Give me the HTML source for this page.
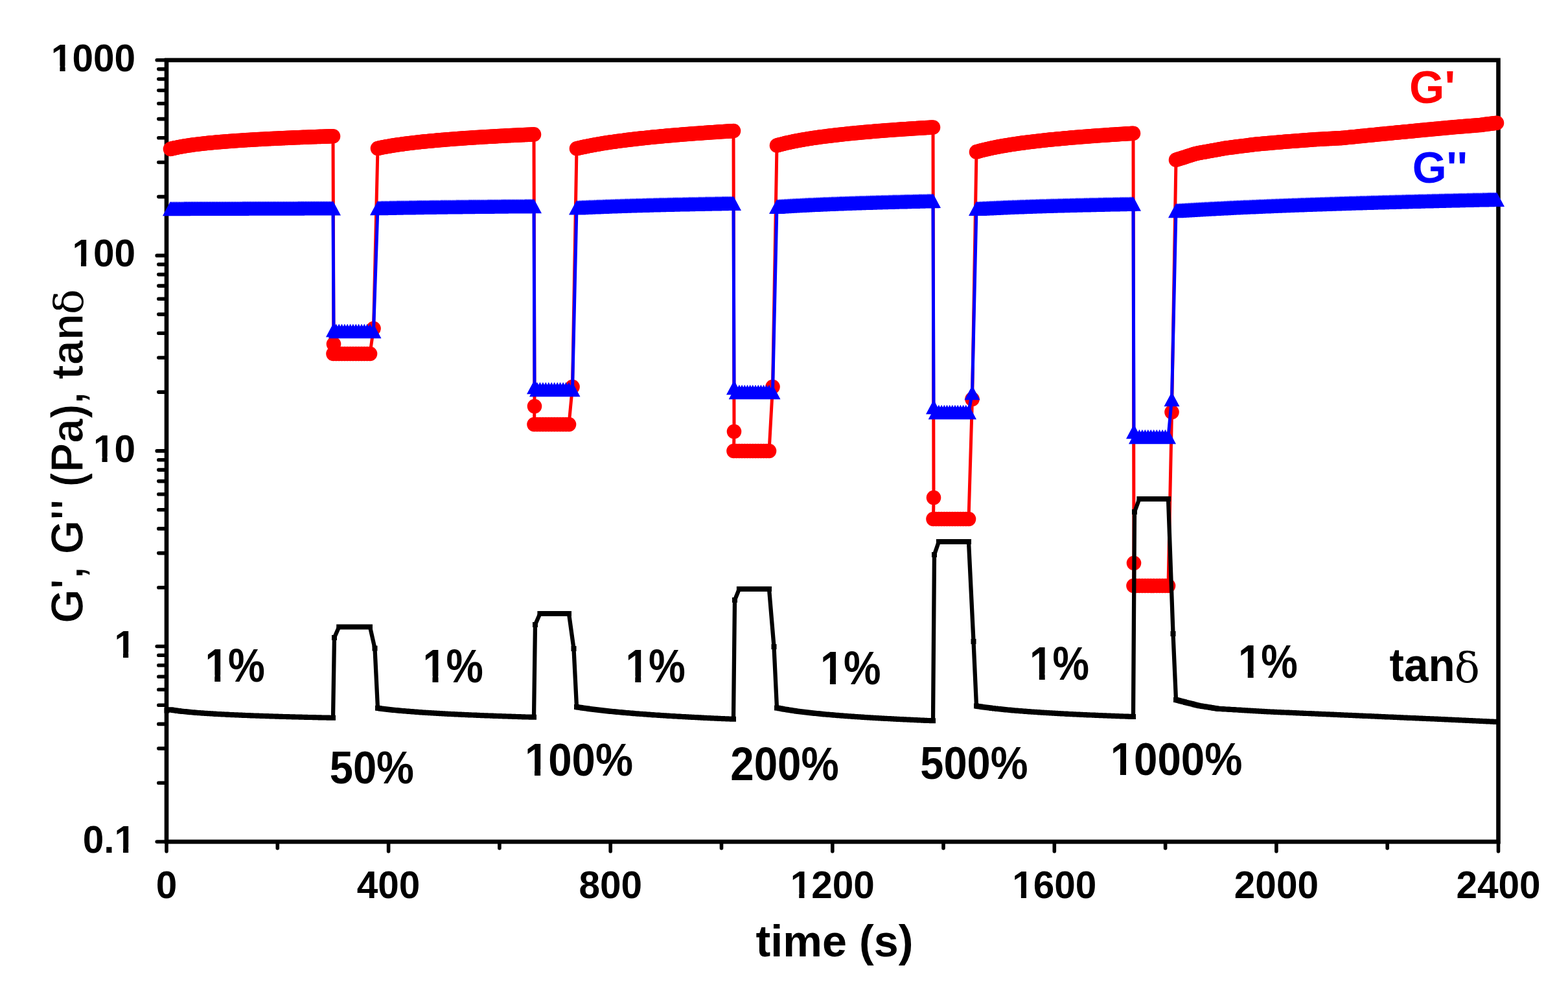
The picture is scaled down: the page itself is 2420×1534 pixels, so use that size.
<!DOCTYPE html>
<html><head><meta charset="utf-8"><title>G', G'' and tan delta vs time</title>
<style>
html,body{margin:0;padding:0;background:#fff;}
svg{display:block;}
text{font-family:'Liberation Sans',Arial,sans-serif;font-weight:bold;}
</style></head><body>
<svg xmlns="http://www.w3.org/2000/svg" width="2420" height="1534" viewBox="0 0 2420 1534">
<rect width="2420" height="1534" fill="#fff"/>
<rect x="257" y="92.8" width="2055.5" height="1206.2" fill="none" stroke="#000" stroke-width="6.6"/>
<path d="M242.2 1299.0H257M244.8 1208.2H257M244.8 1155.1H257M244.8 1117.4H257M244.8 1088.2H257M244.8 1064.3H257M244.8 1044.2H257M244.8 1026.7H257M244.8 1011.2H257M242.2 997.5H257M244.8 906.7H257M244.8 853.6H257M244.8 815.9H257M244.8 786.7H257M244.8 762.8H257M244.8 742.6H257M244.8 725.1H257M244.8 709.7H257M242.2 695.9H257M244.8 605.1H257M244.8 552.0H257M244.8 514.3H257M244.8 485.1H257M244.8 461.2H257M244.8 441.1H257M244.8 423.6H257M244.8 408.1H257M242.2 394.4H257M244.8 303.6H257M244.8 250.5H257M244.8 212.8H257M244.8 183.6H257M244.8 159.7H257M244.8 139.5H257M244.8 122.0H257M244.8 106.6H257M242.2 92.8H257M257.0 1299V1313.8M428.3 1299V1309.0M599.6 1299V1313.8M770.9 1299V1309.0M942.2 1299V1313.8M1113.5 1299V1309.0M1284.8 1299V1313.8M1456.0 1299V1309.0M1627.3 1299V1313.8M1798.6 1299V1309.0M1969.9 1299V1313.8M2141.2 1299V1309.0M2312.5 1299V1313.8" stroke="#000" stroke-width="5.6" stroke-linecap="round" fill="none"/>
<g id="gprime">
<polyline points="263.0,230.0 265.1,229.4 267.3,228.9 269.4,228.4 271.6,228.0 273.7,227.5 275.9,227.1 278.0,226.7 280.2,226.3 282.3,225.9 284.5,225.5 286.6,225.2 288.7,224.8 290.9,224.5 293.0,224.2 295.2,223.9 297.3,223.6 299.5,223.3 301.6,223.0 303.8,222.8 305.9,222.5 308.1,222.3 310.2,222.0 312.3,221.8 314.5,221.5 316.6,221.3 318.8,221.1 320.9,220.8 323.1,220.6 325.2,220.4 327.4,220.2 329.5,220.0 331.6,219.8 333.8,219.6 335.9,219.4 338.1,219.2 340.2,219.1 342.4,218.9 344.5,218.7 346.7,218.5 348.8,218.4 351.0,218.2 353.1,218.0 355.2,217.9 357.4,217.7 359.5,217.6 361.7,217.4 363.8,217.3 366.0,217.1 368.1,217.0 370.3,216.8 372.4,216.7 374.6,216.5 376.7,216.4 378.8,216.3 381.0,216.1 383.1,216.0 385.3,215.9 387.4,215.7 389.6,215.6 391.7,215.5 393.9,215.4 396.0,215.2 398.2,215.1 400.3,215.0 402.4,214.9 404.6,214.8 406.7,214.7 408.9,214.5 411.0,214.4 413.2,214.3 415.3,214.2 417.5,214.1 419.6,214.0 421.8,213.9 423.9,213.8 426.0,213.7 428.2,213.6 430.3,213.5 432.5,213.4 434.6,213.3 436.8,213.2 438.9,213.1 441.1,213.0 443.2,212.9 445.4,212.8 447.5,212.7 449.6,212.6 451.8,212.5 453.9,212.4 456.1,212.3 458.2,212.3 460.4,212.2 462.5,212.1 464.7,212.0 466.8,211.9 468.9,211.8 471.1,211.7 473.2,211.7 475.4,211.6 477.5,211.5 479.7,211.4 481.8,211.3 484.0,211.3 486.1,211.2 488.3,211.1 490.4,211.0 492.5,210.9 494.7,210.9 496.8,210.8 499.0,210.7 501.1,210.6 503.3,210.6 505.4,210.5 507.6,210.4 509.7,210.3 511.9,210.3 514.0,210.2 515.0,531.0 514.5,546.0 518.8,546.0 523.2,546.0 527.5,546.0 531.9,546.0 536.2,546.0 540.6,546.0 544.9,546.0 549.3,546.0 553.6,546.0 558.0,546.0 562.3,546.0 566.7,546.0 571.0,546.0 576.5,507.0 583.0,229.0 585.1,228.5 587.3,228.1 589.4,227.6 591.5,227.2 593.7,226.8 595.8,226.4 597.9,226.0 600.1,225.7 602.2,225.3 604.3,224.9 606.5,224.6 608.6,224.2 610.7,223.9 612.9,223.6 615.0,223.3 617.1,223.0 619.3,222.7 621.4,222.4 623.5,222.1 625.7,221.8 627.8,221.5 629.9,221.3 632.1,221.0 634.2,220.7 636.3,220.5 638.5,220.2 640.6,220.0 642.7,219.8 644.8,219.5 647.0,219.3 649.1,219.1 651.2,218.8 653.4,218.6 655.5,218.4 657.6,218.2 659.8,218.0 661.9,217.8 664.0,217.6 666.2,217.4 668.3,217.2 670.4,217.0 672.6,216.8 674.7,216.6 676.8,216.4 679.0,216.2 681.1,216.0 683.2,215.9 685.4,215.7 687.5,215.5 689.6,215.3 691.8,215.2 693.9,215.0 696.0,214.8 698.2,214.7 700.3,214.5 702.4,214.3 704.6,214.2 706.7,214.0 708.8,213.9 711.0,213.7 713.1,213.6 715.2,213.4 717.4,213.3 719.5,213.1 721.6,213.0 723.8,212.8 725.9,212.7 728.0,212.5 730.2,212.4 732.3,212.3 734.4,212.1 736.6,212.0 738.7,211.9 740.8,211.7 743.0,211.6 745.1,211.5 747.2,211.3 749.4,211.2 751.5,211.1 753.6,211.0 755.8,210.8 757.9,210.7 760.0,210.6 762.2,210.5 764.3,210.4 766.4,210.2 768.5,210.1 770.7,210.0 772.8,209.9 774.9,209.8 777.1,209.7 779.2,209.6 781.3,209.4 783.5,209.3 785.6,209.2 787.7,209.1 789.9,209.0 792.0,208.9 794.1,208.8 796.3,208.7 798.4,208.6 800.5,208.5 802.7,208.4 804.8,208.3 806.9,208.2 809.1,208.1 811.2,208.0 813.3,207.9 815.5,207.8 817.6,207.7 819.7,207.6 821.9,207.5 824.0,207.4 825.0,627.0 824.5,655.0 829.0,655.0 833.4,655.0 837.9,655.0 842.3,655.0 846.8,655.0 851.2,655.0 855.7,655.0 860.2,655.0 864.6,655.0 869.1,655.0 873.5,655.0 878.0,655.0 883.5,597.0 890.0,229.3 892.1,228.8 894.3,228.3 896.4,227.8 898.6,227.3 900.7,226.9 902.8,226.4 905.0,226.0 907.1,225.5 909.3,225.1 911.4,224.7 913.6,224.3 915.7,223.9 917.8,223.5 920.0,223.1 922.1,222.7 924.3,222.4 926.4,222.0 928.5,221.6 930.7,221.3 932.8,220.9 935.0,220.6 937.1,220.3 939.3,219.9 941.4,219.6 943.5,219.3 945.7,219.0 947.8,218.7 950.0,218.4 952.1,218.1 954.2,217.8 956.4,217.5 958.5,217.2 960.7,217.0 962.8,216.7 965.0,216.4 967.1,216.1 969.2,215.9 971.4,215.6 973.5,215.4 975.7,215.1 977.8,214.9 979.9,214.6 982.1,214.4 984.2,214.1 986.4,213.9 988.5,213.6 990.7,213.4 992.8,213.2 994.9,213.0 997.1,212.7 999.2,212.5 1001.4,212.3 1003.5,212.1 1005.6,211.8 1007.8,211.6 1009.9,211.4 1012.1,211.2 1014.2,211.0 1016.4,210.8 1018.5,210.6 1020.6,210.4 1022.8,210.2 1024.9,210.0 1027.1,209.8 1029.2,209.6 1031.3,209.4 1033.5,209.2 1035.6,209.1 1037.8,208.9 1039.9,208.7 1042.1,208.5 1044.2,208.3 1046.3,208.2 1048.5,208.0 1050.6,207.8 1052.8,207.6 1054.9,207.5 1057.0,207.3 1059.2,207.1 1061.3,207.0 1063.5,206.8 1065.6,206.6 1067.8,206.5 1069.9,206.3 1072.0,206.1 1074.2,206.0 1076.3,205.8 1078.5,205.7 1080.6,205.5 1082.7,205.4 1084.9,205.2 1087.0,205.0 1089.2,204.9 1091.3,204.7 1093.5,204.6 1095.6,204.4 1097.7,204.3 1099.9,204.2 1102.0,204.0 1104.2,203.9 1106.3,203.7 1108.4,203.6 1110.6,203.4 1112.7,203.3 1114.9,203.2 1117.0,203.0 1119.2,202.9 1121.3,202.8 1123.4,202.6 1125.6,202.5 1127.7,202.4 1129.9,202.2 1132.0,202.1 1133.0,666.0 1132.5,696.0 1136.7,696.0 1140.9,696.0 1145.1,696.0 1149.3,696.0 1153.5,696.0 1157.7,696.0 1161.8,696.0 1166.0,696.0 1170.2,696.0 1174.4,696.0 1178.6,696.0 1182.8,696.0 1187.0,696.0 1192.5,597.0 1199.0,224.5 1201.1,223.9 1203.3,223.3 1205.4,222.7 1207.5,222.2 1209.7,221.7 1211.8,221.1 1213.9,220.6 1216.1,220.2 1218.2,219.7 1220.3,219.2 1222.5,218.8 1224.6,218.3 1226.7,217.9 1228.9,217.5 1231.0,217.1 1233.1,216.7 1235.3,216.3 1237.4,215.9 1239.5,215.6 1241.7,215.2 1243.8,214.8 1245.9,214.5 1248.1,214.1 1250.2,213.8 1252.3,213.5 1254.5,213.1 1256.6,212.8 1258.7,212.5 1260.8,212.2 1263.0,211.9 1265.1,211.6 1267.2,211.3 1269.4,211.0 1271.5,210.8 1273.6,210.5 1275.8,210.2 1277.9,209.9 1280.0,209.7 1282.2,209.4 1284.3,209.2 1286.4,208.9 1288.6,208.7 1290.7,208.4 1292.8,208.2 1295.0,207.9 1297.1,207.7 1299.2,207.5 1301.4,207.2 1303.5,207.0 1305.6,206.8 1307.8,206.6 1309.9,206.3 1312.0,206.1 1314.2,205.9 1316.3,205.7 1318.4,205.5 1320.6,205.3 1322.7,205.1 1324.8,204.9 1327.0,204.7 1329.1,204.5 1331.2,204.3 1333.4,204.1 1335.5,203.9 1337.6,203.7 1339.8,203.5 1341.9,203.4 1344.0,203.2 1346.2,203.0 1348.3,202.8 1350.4,202.6 1352.6,202.5 1354.7,202.3 1356.8,202.1 1359.0,202.0 1361.1,201.8 1363.2,201.6 1365.4,201.5 1367.5,201.3 1369.6,201.1 1371.8,201.0 1373.9,200.8 1376.0,200.7 1378.2,200.5 1380.3,200.3 1382.4,200.2 1384.5,200.0 1386.7,199.9 1388.8,199.7 1390.9,199.6 1393.1,199.4 1395.2,199.3 1397.3,199.2 1399.5,199.0 1401.6,198.9 1403.7,198.7 1405.9,198.6 1408.0,198.5 1410.1,198.3 1412.3,198.2 1414.4,198.0 1416.5,197.9 1418.7,197.8 1420.8,197.6 1422.9,197.5 1425.1,197.4 1427.2,197.3 1429.3,197.1 1431.5,197.0 1433.6,196.9 1435.7,196.7 1437.9,196.6 1440.0,196.5 1441.0,768.0 1440.5,801.0 1444.7,801.0 1448.9,801.0 1453.1,801.0 1457.3,801.0 1461.5,801.0 1465.7,801.0 1469.8,801.0 1474.0,801.0 1478.2,801.0 1482.4,801.0 1486.6,801.0 1490.8,801.0 1495.0,801.0 1500.5,616.0 1507.0,234.4 1509.1,233.8 1511.3,233.2 1513.4,232.6 1515.6,232.0 1517.7,231.5 1519.8,231.0 1522.0,230.5 1524.1,230.0 1526.3,229.5 1528.4,229.0 1530.6,228.6 1532.7,228.1 1534.8,227.7 1537.0,227.2 1539.1,226.8 1541.3,226.4 1543.4,226.0 1545.5,225.6 1547.7,225.3 1549.8,224.9 1552.0,224.5 1554.1,224.2 1556.3,223.8 1558.4,223.5 1560.5,223.1 1562.7,222.8 1564.8,222.5 1567.0,222.2 1569.1,221.8 1571.2,221.5 1573.4,221.2 1575.5,220.9 1577.7,220.6 1579.8,220.4 1582.0,220.1 1584.1,219.8 1586.2,219.5 1588.4,219.3 1590.5,219.0 1592.7,218.7 1594.8,218.5 1596.9,218.2 1599.1,218.0 1601.2,217.7 1603.4,217.5 1605.5,217.2 1607.7,217.0 1609.8,216.8 1611.9,216.5 1614.1,216.3 1616.2,216.1 1618.4,215.8 1620.5,215.6 1622.6,215.4 1624.8,215.2 1626.9,215.0 1629.1,214.8 1631.2,214.6 1633.4,214.4 1635.5,214.2 1637.6,214.0 1639.8,213.8 1641.9,213.6 1644.1,213.4 1646.2,213.2 1648.3,213.0 1650.5,212.8 1652.6,212.6 1654.8,212.4 1656.9,212.3 1659.1,212.1 1661.2,211.9 1663.3,211.7 1665.5,211.5 1667.6,211.4 1669.8,211.2 1671.9,211.0 1674.0,210.9 1676.2,210.7 1678.3,210.5 1680.5,210.4 1682.6,210.2 1684.8,210.0 1686.9,209.9 1689.0,209.7 1691.2,209.6 1693.3,209.4 1695.5,209.3 1697.6,209.1 1699.7,209.0 1701.9,208.8 1704.0,208.7 1706.2,208.5 1708.3,208.4 1710.5,208.2 1712.6,208.1 1714.7,207.9 1716.9,207.8 1719.0,207.7 1721.2,207.5 1723.3,207.4 1725.4,207.2 1727.6,207.1 1729.7,207.0 1731.9,206.8 1734.0,206.7 1736.2,206.6 1738.3,206.4 1740.4,206.3 1742.6,206.2 1744.7,206.1 1746.9,205.9 1749.0,205.8 1750.0,869.0 1749.5,904.0 1754.0,904.0 1758.4,904.0 1762.9,904.0 1767.3,904.0 1771.8,904.0 1776.2,904.0 1780.7,904.0 1785.2,904.0 1789.6,904.0 1794.1,904.0 1798.5,904.0 1803.0,904.0 1808.5,636.0 1815.0,246.8 1817.1,246.1 1819.3,245.4 1821.4,244.7 1823.6,244.1 1825.7,243.4 1827.9,242.7 1830.0,242.0 1832.1,241.3 1834.3,240.6 1836.4,240.0 1838.6,239.3 1840.7,238.6 1842.9,237.9 1845.0,237.2 1847.1,236.7 1849.3,236.3 1851.4,235.9 1853.6,235.5 1855.7,235.1 1857.9,234.8 1860.0,234.4 1862.1,234.0 1864.3,233.6 1866.4,233.2 1868.6,232.8 1870.7,232.4 1872.9,232.0 1875.0,231.7 1877.1,231.3 1879.3,230.9 1881.4,230.5 1883.6,230.1 1885.7,229.7 1887.9,229.3 1890.0,228.9 1892.1,228.6 1894.3,228.2 1896.4,228.0 1898.6,227.7 1900.7,227.4 1902.9,227.2 1905.0,226.9 1907.1,226.6 1909.3,226.3 1911.4,226.1 1913.6,225.8 1915.7,225.5 1917.9,225.3 1920.0,225.0 1922.1,224.7 1924.3,224.5 1926.4,224.2 1928.6,223.9 1930.7,223.6 1932.9,223.4 1935.0,223.1 1937.1,222.8 1939.3,222.6 1941.4,222.4 1943.6,222.2 1945.7,222.0 1947.9,221.8 1950.0,221.6 1952.1,221.5 1954.3,221.3 1956.4,221.1 1958.6,220.9 1960.7,220.7 1962.9,220.5 1965.0,220.3 1967.1,220.1 1969.3,220.0 1971.4,219.8 1973.6,219.6 1975.7,219.4 1977.9,219.2 1980.0,219.0 1982.1,218.8 1984.3,218.6 1986.4,218.5 1988.6,218.3 1990.7,218.2 1992.9,218.0 1995.0,217.8 1997.1,217.7 1999.3,217.5 2001.4,217.4 2003.6,217.2 2005.7,217.0 2007.9,216.9 2010.0,216.7 2012.1,216.6 2014.3,216.4 2016.4,216.3 2018.6,216.1 2020.7,215.9 2022.9,215.8 2025.0,215.6 2027.1,215.5 2029.3,215.3 2031.4,215.1 2033.6,215.0 2035.7,214.9 2037.9,214.8 2040.0,214.7 2042.1,214.6 2044.3,214.4 2046.4,214.3 2048.6,214.2 2050.7,214.1 2052.9,214.0 2055.0,213.9 2057.1,213.7 2059.3,213.6 2061.4,213.5 2063.6,213.4 2065.7,213.3 2067.9,213.2 2070.0,213.1 2072.1,212.9 2074.3,212.7 2076.4,212.5 2078.6,212.2 2080.7,212.0 2082.9,211.8 2085.0,211.6 2087.1,211.4 2089.3,211.2 2091.4,211.0 2093.6,210.7 2095.7,210.5 2097.9,210.3 2100.0,210.1 2102.1,209.9 2104.3,209.7 2106.4,209.5 2108.6,209.2 2110.7,209.0 2112.9,208.8 2115.0,208.6 2117.1,208.4 2119.3,208.2 2121.4,208.0 2123.6,207.7 2125.7,207.5 2127.9,207.3 2130.0,207.1 2132.1,206.9 2134.3,206.7 2136.4,206.5 2138.6,206.3 2140.7,206.1 2142.9,205.9 2145.0,205.7 2147.1,205.5 2149.3,205.3 2151.4,205.0 2153.6,204.8 2155.7,204.6 2157.9,204.4 2160.0,204.2 2162.1,204.0 2164.3,203.8 2166.4,203.6 2168.6,203.4 2170.7,203.2 2172.9,203.0 2175.0,202.8 2177.1,202.6 2179.3,202.4 2181.4,202.2 2183.6,201.9 2185.7,201.7 2187.9,201.5 2190.0,201.3 2192.1,201.1 2194.3,200.9 2196.4,200.7 2198.6,200.5 2200.7,200.3 2202.9,200.1 2205.0,199.9 2207.1,199.7 2209.3,199.5 2211.4,199.3 2213.6,199.1 2215.7,198.9 2217.9,198.7 2220.0,198.5 2222.1,198.3 2224.3,198.1 2226.4,197.9 2228.6,197.7 2230.7,197.5 2232.9,197.3 2235.0,197.1 2237.1,196.9 2239.3,196.7 2241.4,196.5 2243.6,196.3 2245.7,196.1 2247.9,196.0 2250.0,195.8 2252.1,195.6 2254.3,195.4 2256.4,195.3 2258.6,195.1 2260.7,194.9 2262.9,194.7 2265.0,194.6 2267.1,194.4 2269.3,194.2 2271.4,194.0 2273.6,193.9 2275.7,193.7 2277.9,193.5 2280.0,193.3 2282.1,193.2 2284.3,193.0 2286.4,192.7 2288.6,192.4 2290.7,192.1 2292.9,191.9 2295.0,191.6 2297.1,191.3 2299.3,191.1 2301.4,190.8 2303.6,190.5 2305.7,190.2 2307.9,190.0 2310.0,189.7" fill="none" stroke="#f00" stroke-width="5" stroke-linejoin="round"/>
<g fill="#f00"><circle cx="263.0" cy="230.0" r="11.3"/><circle cx="265.1" cy="229.4" r="11.3"/><circle cx="267.3" cy="228.9" r="11.3"/><circle cx="269.4" cy="228.4" r="11.3"/><circle cx="271.6" cy="228.0" r="11.3"/><circle cx="273.7" cy="227.5" r="11.3"/><circle cx="275.9" cy="227.1" r="11.3"/><circle cx="278.0" cy="226.7" r="11.3"/><circle cx="280.2" cy="226.3" r="11.3"/><circle cx="282.3" cy="225.9" r="11.3"/><circle cx="284.5" cy="225.5" r="11.3"/><circle cx="286.6" cy="225.2" r="11.3"/><circle cx="288.7" cy="224.8" r="11.3"/><circle cx="290.9" cy="224.5" r="11.3"/><circle cx="293.0" cy="224.2" r="11.3"/><circle cx="295.2" cy="223.9" r="11.3"/><circle cx="297.3" cy="223.6" r="11.3"/><circle cx="299.5" cy="223.3" r="11.3"/><circle cx="301.6" cy="223.0" r="11.3"/><circle cx="303.8" cy="222.8" r="11.3"/><circle cx="305.9" cy="222.5" r="11.3"/><circle cx="308.1" cy="222.3" r="11.3"/><circle cx="310.2" cy="222.0" r="11.3"/><circle cx="312.3" cy="221.8" r="11.3"/><circle cx="314.5" cy="221.5" r="11.3"/><circle cx="316.6" cy="221.3" r="11.3"/><circle cx="318.8" cy="221.1" r="11.3"/><circle cx="320.9" cy="220.8" r="11.3"/><circle cx="323.1" cy="220.6" r="11.3"/><circle cx="325.2" cy="220.4" r="11.3"/><circle cx="327.4" cy="220.2" r="11.3"/><circle cx="329.5" cy="220.0" r="11.3"/><circle cx="331.6" cy="219.8" r="11.3"/><circle cx="333.8" cy="219.6" r="11.3"/><circle cx="335.9" cy="219.4" r="11.3"/><circle cx="338.1" cy="219.2" r="11.3"/><circle cx="340.2" cy="219.1" r="11.3"/><circle cx="342.4" cy="218.9" r="11.3"/><circle cx="344.5" cy="218.7" r="11.3"/><circle cx="346.7" cy="218.5" r="11.3"/><circle cx="348.8" cy="218.4" r="11.3"/><circle cx="351.0" cy="218.2" r="11.3"/><circle cx="353.1" cy="218.0" r="11.3"/><circle cx="355.2" cy="217.9" r="11.3"/><circle cx="357.4" cy="217.7" r="11.3"/><circle cx="359.5" cy="217.6" r="11.3"/><circle cx="361.7" cy="217.4" r="11.3"/><circle cx="363.8" cy="217.3" r="11.3"/><circle cx="366.0" cy="217.1" r="11.3"/><circle cx="368.1" cy="217.0" r="11.3"/><circle cx="370.3" cy="216.8" r="11.3"/><circle cx="372.4" cy="216.7" r="11.3"/><circle cx="374.6" cy="216.5" r="11.3"/><circle cx="376.7" cy="216.4" r="11.3"/><circle cx="378.8" cy="216.3" r="11.3"/><circle cx="381.0" cy="216.1" r="11.3"/><circle cx="383.1" cy="216.0" r="11.3"/><circle cx="385.3" cy="215.9" r="11.3"/><circle cx="387.4" cy="215.7" r="11.3"/><circle cx="389.6" cy="215.6" r="11.3"/><circle cx="391.7" cy="215.5" r="11.3"/><circle cx="393.9" cy="215.4" r="11.3"/><circle cx="396.0" cy="215.2" r="11.3"/><circle cx="398.2" cy="215.1" r="11.3"/><circle cx="400.3" cy="215.0" r="11.3"/><circle cx="402.4" cy="214.9" r="11.3"/><circle cx="404.6" cy="214.8" r="11.3"/><circle cx="406.7" cy="214.7" r="11.3"/><circle cx="408.9" cy="214.5" r="11.3"/><circle cx="411.0" cy="214.4" r="11.3"/><circle cx="413.2" cy="214.3" r="11.3"/><circle cx="415.3" cy="214.2" r="11.3"/><circle cx="417.5" cy="214.1" r="11.3"/><circle cx="419.6" cy="214.0" r="11.3"/><circle cx="421.8" cy="213.9" r="11.3"/><circle cx="423.9" cy="213.8" r="11.3"/><circle cx="426.0" cy="213.7" r="11.3"/><circle cx="428.2" cy="213.6" r="11.3"/><circle cx="430.3" cy="213.5" r="11.3"/><circle cx="432.5" cy="213.4" r="11.3"/><circle cx="434.6" cy="213.3" r="11.3"/><circle cx="436.8" cy="213.2" r="11.3"/><circle cx="438.9" cy="213.1" r="11.3"/><circle cx="441.1" cy="213.0" r="11.3"/><circle cx="443.2" cy="212.9" r="11.3"/><circle cx="445.4" cy="212.8" r="11.3"/><circle cx="447.5" cy="212.7" r="11.3"/><circle cx="449.6" cy="212.6" r="11.3"/><circle cx="451.8" cy="212.5" r="11.3"/><circle cx="453.9" cy="212.4" r="11.3"/><circle cx="456.1" cy="212.3" r="11.3"/><circle cx="458.2" cy="212.3" r="11.3"/><circle cx="460.4" cy="212.2" r="11.3"/><circle cx="462.5" cy="212.1" r="11.3"/><circle cx="464.7" cy="212.0" r="11.3"/><circle cx="466.8" cy="211.9" r="11.3"/><circle cx="468.9" cy="211.8" r="11.3"/><circle cx="471.1" cy="211.7" r="11.3"/><circle cx="473.2" cy="211.7" r="11.3"/><circle cx="475.4" cy="211.6" r="11.3"/><circle cx="477.5" cy="211.5" r="11.3"/><circle cx="479.7" cy="211.4" r="11.3"/><circle cx="481.8" cy="211.3" r="11.3"/><circle cx="484.0" cy="211.3" r="11.3"/><circle cx="486.1" cy="211.2" r="11.3"/><circle cx="488.3" cy="211.1" r="11.3"/><circle cx="490.4" cy="211.0" r="11.3"/><circle cx="492.5" cy="210.9" r="11.3"/><circle cx="494.7" cy="210.9" r="11.3"/><circle cx="496.8" cy="210.8" r="11.3"/><circle cx="499.0" cy="210.7" r="11.3"/><circle cx="501.1" cy="210.6" r="11.3"/><circle cx="503.3" cy="210.6" r="11.3"/><circle cx="505.4" cy="210.5" r="11.3"/><circle cx="507.6" cy="210.4" r="11.3"/><circle cx="509.7" cy="210.3" r="11.3"/><circle cx="511.9" cy="210.3" r="11.3"/><circle cx="514.0" cy="210.2" r="11.3"/><circle cx="515.0" cy="531.0" r="11.3"/><circle cx="514.5" cy="546.0" r="11.3"/><circle cx="518.8" cy="546.0" r="11.3"/><circle cx="523.2" cy="546.0" r="11.3"/><circle cx="527.5" cy="546.0" r="11.3"/><circle cx="531.9" cy="546.0" r="11.3"/><circle cx="536.2" cy="546.0" r="11.3"/><circle cx="540.6" cy="546.0" r="11.3"/><circle cx="544.9" cy="546.0" r="11.3"/><circle cx="549.3" cy="546.0" r="11.3"/><circle cx="553.6" cy="546.0" r="11.3"/><circle cx="558.0" cy="546.0" r="11.3"/><circle cx="562.3" cy="546.0" r="11.3"/><circle cx="566.7" cy="546.0" r="11.3"/><circle cx="571.0" cy="546.0" r="11.3"/><circle cx="576.5" cy="507.0" r="11.3"/><circle cx="583.0" cy="229.0" r="11.3"/><circle cx="585.1" cy="228.5" r="11.3"/><circle cx="587.3" cy="228.1" r="11.3"/><circle cx="589.4" cy="227.6" r="11.3"/><circle cx="591.5" cy="227.2" r="11.3"/><circle cx="593.7" cy="226.8" r="11.3"/><circle cx="595.8" cy="226.4" r="11.3"/><circle cx="597.9" cy="226.0" r="11.3"/><circle cx="600.1" cy="225.7" r="11.3"/><circle cx="602.2" cy="225.3" r="11.3"/><circle cx="604.3" cy="224.9" r="11.3"/><circle cx="606.5" cy="224.6" r="11.3"/><circle cx="608.6" cy="224.2" r="11.3"/><circle cx="610.7" cy="223.9" r="11.3"/><circle cx="612.9" cy="223.6" r="11.3"/><circle cx="615.0" cy="223.3" r="11.3"/><circle cx="617.1" cy="223.0" r="11.3"/><circle cx="619.3" cy="222.7" r="11.3"/><circle cx="621.4" cy="222.4" r="11.3"/><circle cx="623.5" cy="222.1" r="11.3"/><circle cx="625.7" cy="221.8" r="11.3"/><circle cx="627.8" cy="221.5" r="11.3"/><circle cx="629.9" cy="221.3" r="11.3"/><circle cx="632.1" cy="221.0" r="11.3"/><circle cx="634.2" cy="220.7" r="11.3"/><circle cx="636.3" cy="220.5" r="11.3"/><circle cx="638.5" cy="220.2" r="11.3"/><circle cx="640.6" cy="220.0" r="11.3"/><circle cx="642.7" cy="219.8" r="11.3"/><circle cx="644.8" cy="219.5" r="11.3"/><circle cx="647.0" cy="219.3" r="11.3"/><circle cx="649.1" cy="219.1" r="11.3"/><circle cx="651.2" cy="218.8" r="11.3"/><circle cx="653.4" cy="218.6" r="11.3"/><circle cx="655.5" cy="218.4" r="11.3"/><circle cx="657.6" cy="218.2" r="11.3"/><circle cx="659.8" cy="218.0" r="11.3"/><circle cx="661.9" cy="217.8" r="11.3"/><circle cx="664.0" cy="217.6" r="11.3"/><circle cx="666.2" cy="217.4" r="11.3"/><circle cx="668.3" cy="217.2" r="11.3"/><circle cx="670.4" cy="217.0" r="11.3"/><circle cx="672.6" cy="216.8" r="11.3"/><circle cx="674.7" cy="216.6" r="11.3"/><circle cx="676.8" cy="216.4" r="11.3"/><circle cx="679.0" cy="216.2" r="11.3"/><circle cx="681.1" cy="216.0" r="11.3"/><circle cx="683.2" cy="215.9" r="11.3"/><circle cx="685.4" cy="215.7" r="11.3"/><circle cx="687.5" cy="215.5" r="11.3"/><circle cx="689.6" cy="215.3" r="11.3"/><circle cx="691.8" cy="215.2" r="11.3"/><circle cx="693.9" cy="215.0" r="11.3"/><circle cx="696.0" cy="214.8" r="11.3"/><circle cx="698.2" cy="214.7" r="11.3"/><circle cx="700.3" cy="214.5" r="11.3"/><circle cx="702.4" cy="214.3" r="11.3"/><circle cx="704.6" cy="214.2" r="11.3"/><circle cx="706.7" cy="214.0" r="11.3"/><circle cx="708.8" cy="213.9" r="11.3"/><circle cx="711.0" cy="213.7" r="11.3"/><circle cx="713.1" cy="213.6" r="11.3"/><circle cx="715.2" cy="213.4" r="11.3"/><circle cx="717.4" cy="213.3" r="11.3"/><circle cx="719.5" cy="213.1" r="11.3"/><circle cx="721.6" cy="213.0" r="11.3"/><circle cx="723.8" cy="212.8" r="11.3"/><circle cx="725.9" cy="212.7" r="11.3"/><circle cx="728.0" cy="212.5" r="11.3"/><circle cx="730.2" cy="212.4" r="11.3"/><circle cx="732.3" cy="212.3" r="11.3"/><circle cx="734.4" cy="212.1" r="11.3"/><circle cx="736.6" cy="212.0" r="11.3"/><circle cx="738.7" cy="211.9" r="11.3"/><circle cx="740.8" cy="211.7" r="11.3"/><circle cx="743.0" cy="211.6" r="11.3"/><circle cx="745.1" cy="211.5" r="11.3"/><circle cx="747.2" cy="211.3" r="11.3"/><circle cx="749.4" cy="211.2" r="11.3"/><circle cx="751.5" cy="211.1" r="11.3"/><circle cx="753.6" cy="211.0" r="11.3"/><circle cx="755.8" cy="210.8" r="11.3"/><circle cx="757.9" cy="210.7" r="11.3"/><circle cx="760.0" cy="210.6" r="11.3"/><circle cx="762.2" cy="210.5" r="11.3"/><circle cx="764.3" cy="210.4" r="11.3"/><circle cx="766.4" cy="210.2" r="11.3"/><circle cx="768.5" cy="210.1" r="11.3"/><circle cx="770.7" cy="210.0" r="11.3"/><circle cx="772.8" cy="209.9" r="11.3"/><circle cx="774.9" cy="209.8" r="11.3"/><circle cx="777.1" cy="209.7" r="11.3"/><circle cx="779.2" cy="209.6" r="11.3"/><circle cx="781.3" cy="209.4" r="11.3"/><circle cx="783.5" cy="209.3" r="11.3"/><circle cx="785.6" cy="209.2" r="11.3"/><circle cx="787.7" cy="209.1" r="11.3"/><circle cx="789.9" cy="209.0" r="11.3"/><circle cx="792.0" cy="208.9" r="11.3"/><circle cx="794.1" cy="208.8" r="11.3"/><circle cx="796.3" cy="208.7" r="11.3"/><circle cx="798.4" cy="208.6" r="11.3"/><circle cx="800.5" cy="208.5" r="11.3"/><circle cx="802.7" cy="208.4" r="11.3"/><circle cx="804.8" cy="208.3" r="11.3"/><circle cx="806.9" cy="208.2" r="11.3"/><circle cx="809.1" cy="208.1" r="11.3"/><circle cx="811.2" cy="208.0" r="11.3"/><circle cx="813.3" cy="207.9" r="11.3"/><circle cx="815.5" cy="207.8" r="11.3"/><circle cx="817.6" cy="207.7" r="11.3"/><circle cx="819.7" cy="207.6" r="11.3"/><circle cx="821.9" cy="207.5" r="11.3"/><circle cx="824.0" cy="207.4" r="11.3"/><circle cx="825.0" cy="627.0" r="11.3"/><circle cx="824.5" cy="655.0" r="11.3"/><circle cx="829.0" cy="655.0" r="11.3"/><circle cx="833.4" cy="655.0" r="11.3"/><circle cx="837.9" cy="655.0" r="11.3"/><circle cx="842.3" cy="655.0" r="11.3"/><circle cx="846.8" cy="655.0" r="11.3"/><circle cx="851.2" cy="655.0" r="11.3"/><circle cx="855.7" cy="655.0" r="11.3"/><circle cx="860.2" cy="655.0" r="11.3"/><circle cx="864.6" cy="655.0" r="11.3"/><circle cx="869.1" cy="655.0" r="11.3"/><circle cx="873.5" cy="655.0" r="11.3"/><circle cx="878.0" cy="655.0" r="11.3"/><circle cx="883.5" cy="597.0" r="11.3"/><circle cx="890.0" cy="229.3" r="11.3"/><circle cx="892.1" cy="228.8" r="11.3"/><circle cx="894.3" cy="228.3" r="11.3"/><circle cx="896.4" cy="227.8" r="11.3"/><circle cx="898.6" cy="227.3" r="11.3"/><circle cx="900.7" cy="226.9" r="11.3"/><circle cx="902.8" cy="226.4" r="11.3"/><circle cx="905.0" cy="226.0" r="11.3"/><circle cx="907.1" cy="225.5" r="11.3"/><circle cx="909.3" cy="225.1" r="11.3"/><circle cx="911.4" cy="224.7" r="11.3"/><circle cx="913.6" cy="224.3" r="11.3"/><circle cx="915.7" cy="223.9" r="11.3"/><circle cx="917.8" cy="223.5" r="11.3"/><circle cx="920.0" cy="223.1" r="11.3"/><circle cx="922.1" cy="222.7" r="11.3"/><circle cx="924.3" cy="222.4" r="11.3"/><circle cx="926.4" cy="222.0" r="11.3"/><circle cx="928.5" cy="221.6" r="11.3"/><circle cx="930.7" cy="221.3" r="11.3"/><circle cx="932.8" cy="220.9" r="11.3"/><circle cx="935.0" cy="220.6" r="11.3"/><circle cx="937.1" cy="220.3" r="11.3"/><circle cx="939.3" cy="219.9" r="11.3"/><circle cx="941.4" cy="219.6" r="11.3"/><circle cx="943.5" cy="219.3" r="11.3"/><circle cx="945.7" cy="219.0" r="11.3"/><circle cx="947.8" cy="218.7" r="11.3"/><circle cx="950.0" cy="218.4" r="11.3"/><circle cx="952.1" cy="218.1" r="11.3"/><circle cx="954.2" cy="217.8" r="11.3"/><circle cx="956.4" cy="217.5" r="11.3"/><circle cx="958.5" cy="217.2" r="11.3"/><circle cx="960.7" cy="217.0" r="11.3"/><circle cx="962.8" cy="216.7" r="11.3"/><circle cx="965.0" cy="216.4" r="11.3"/><circle cx="967.1" cy="216.1" r="11.3"/><circle cx="969.2" cy="215.9" r="11.3"/><circle cx="971.4" cy="215.6" r="11.3"/><circle cx="973.5" cy="215.4" r="11.3"/><circle cx="975.7" cy="215.1" r="11.3"/><circle cx="977.8" cy="214.9" r="11.3"/><circle cx="979.9" cy="214.6" r="11.3"/><circle cx="982.1" cy="214.4" r="11.3"/><circle cx="984.2" cy="214.1" r="11.3"/><circle cx="986.4" cy="213.9" r="11.3"/><circle cx="988.5" cy="213.6" r="11.3"/><circle cx="990.7" cy="213.4" r="11.3"/><circle cx="992.8" cy="213.2" r="11.3"/><circle cx="994.9" cy="213.0" r="11.3"/><circle cx="997.1" cy="212.7" r="11.3"/><circle cx="999.2" cy="212.5" r="11.3"/><circle cx="1001.4" cy="212.3" r="11.3"/><circle cx="1003.5" cy="212.1" r="11.3"/><circle cx="1005.6" cy="211.8" r="11.3"/><circle cx="1007.8" cy="211.6" r="11.3"/><circle cx="1009.9" cy="211.4" r="11.3"/><circle cx="1012.1" cy="211.2" r="11.3"/><circle cx="1014.2" cy="211.0" r="11.3"/><circle cx="1016.4" cy="210.8" r="11.3"/><circle cx="1018.5" cy="210.6" r="11.3"/><circle cx="1020.6" cy="210.4" r="11.3"/><circle cx="1022.8" cy="210.2" r="11.3"/><circle cx="1024.9" cy="210.0" r="11.3"/><circle cx="1027.1" cy="209.8" r="11.3"/><circle cx="1029.2" cy="209.6" r="11.3"/><circle cx="1031.3" cy="209.4" r="11.3"/><circle cx="1033.5" cy="209.2" r="11.3"/><circle cx="1035.6" cy="209.1" r="11.3"/><circle cx="1037.8" cy="208.9" r="11.3"/><circle cx="1039.9" cy="208.7" r="11.3"/><circle cx="1042.1" cy="208.5" r="11.3"/><circle cx="1044.2" cy="208.3" r="11.3"/><circle cx="1046.3" cy="208.2" r="11.3"/><circle cx="1048.5" cy="208.0" r="11.3"/><circle cx="1050.6" cy="207.8" r="11.3"/><circle cx="1052.8" cy="207.6" r="11.3"/><circle cx="1054.9" cy="207.5" r="11.3"/><circle cx="1057.0" cy="207.3" r="11.3"/><circle cx="1059.2" cy="207.1" r="11.3"/><circle cx="1061.3" cy="207.0" r="11.3"/><circle cx="1063.5" cy="206.8" r="11.3"/><circle cx="1065.6" cy="206.6" r="11.3"/><circle cx="1067.8" cy="206.5" r="11.3"/><circle cx="1069.9" cy="206.3" r="11.3"/><circle cx="1072.0" cy="206.1" r="11.3"/><circle cx="1074.2" cy="206.0" r="11.3"/><circle cx="1076.3" cy="205.8" r="11.3"/><circle cx="1078.5" cy="205.7" r="11.3"/><circle cx="1080.6" cy="205.5" r="11.3"/><circle cx="1082.7" cy="205.4" r="11.3"/><circle cx="1084.9" cy="205.2" r="11.3"/><circle cx="1087.0" cy="205.0" r="11.3"/><circle cx="1089.2" cy="204.9" r="11.3"/><circle cx="1091.3" cy="204.7" r="11.3"/><circle cx="1093.5" cy="204.6" r="11.3"/><circle cx="1095.6" cy="204.4" r="11.3"/><circle cx="1097.7" cy="204.3" r="11.3"/><circle cx="1099.9" cy="204.2" r="11.3"/><circle cx="1102.0" cy="204.0" r="11.3"/><circle cx="1104.2" cy="203.9" r="11.3"/><circle cx="1106.3" cy="203.7" r="11.3"/><circle cx="1108.4" cy="203.6" r="11.3"/><circle cx="1110.6" cy="203.4" r="11.3"/><circle cx="1112.7" cy="203.3" r="11.3"/><circle cx="1114.9" cy="203.2" r="11.3"/><circle cx="1117.0" cy="203.0" r="11.3"/><circle cx="1119.2" cy="202.9" r="11.3"/><circle cx="1121.3" cy="202.8" r="11.3"/><circle cx="1123.4" cy="202.6" r="11.3"/><circle cx="1125.6" cy="202.5" r="11.3"/><circle cx="1127.7" cy="202.4" r="11.3"/><circle cx="1129.9" cy="202.2" r="11.3"/><circle cx="1132.0" cy="202.1" r="11.3"/><circle cx="1133.0" cy="666.0" r="11.3"/><circle cx="1132.5" cy="696.0" r="11.3"/><circle cx="1136.7" cy="696.0" r="11.3"/><circle cx="1140.9" cy="696.0" r="11.3"/><circle cx="1145.1" cy="696.0" r="11.3"/><circle cx="1149.3" cy="696.0" r="11.3"/><circle cx="1153.5" cy="696.0" r="11.3"/><circle cx="1157.7" cy="696.0" r="11.3"/><circle cx="1161.8" cy="696.0" r="11.3"/><circle cx="1166.0" cy="696.0" r="11.3"/><circle cx="1170.2" cy="696.0" r="11.3"/><circle cx="1174.4" cy="696.0" r="11.3"/><circle cx="1178.6" cy="696.0" r="11.3"/><circle cx="1182.8" cy="696.0" r="11.3"/><circle cx="1187.0" cy="696.0" r="11.3"/><circle cx="1192.5" cy="597.0" r="11.3"/><circle cx="1199.0" cy="224.5" r="11.3"/><circle cx="1201.1" cy="223.9" r="11.3"/><circle cx="1203.3" cy="223.3" r="11.3"/><circle cx="1205.4" cy="222.7" r="11.3"/><circle cx="1207.5" cy="222.2" r="11.3"/><circle cx="1209.7" cy="221.7" r="11.3"/><circle cx="1211.8" cy="221.1" r="11.3"/><circle cx="1213.9" cy="220.6" r="11.3"/><circle cx="1216.1" cy="220.2" r="11.3"/><circle cx="1218.2" cy="219.7" r="11.3"/><circle cx="1220.3" cy="219.2" r="11.3"/><circle cx="1222.5" cy="218.8" r="11.3"/><circle cx="1224.6" cy="218.3" r="11.3"/><circle cx="1226.7" cy="217.9" r="11.3"/><circle cx="1228.9" cy="217.5" r="11.3"/><circle cx="1231.0" cy="217.1" r="11.3"/><circle cx="1233.1" cy="216.7" r="11.3"/><circle cx="1235.3" cy="216.3" r="11.3"/><circle cx="1237.4" cy="215.9" r="11.3"/><circle cx="1239.5" cy="215.6" r="11.3"/><circle cx="1241.7" cy="215.2" r="11.3"/><circle cx="1243.8" cy="214.8" r="11.3"/><circle cx="1245.9" cy="214.5" r="11.3"/><circle cx="1248.1" cy="214.1" r="11.3"/><circle cx="1250.2" cy="213.8" r="11.3"/><circle cx="1252.3" cy="213.5" r="11.3"/><circle cx="1254.5" cy="213.1" r="11.3"/><circle cx="1256.6" cy="212.8" r="11.3"/><circle cx="1258.7" cy="212.5" r="11.3"/><circle cx="1260.8" cy="212.2" r="11.3"/><circle cx="1263.0" cy="211.9" r="11.3"/><circle cx="1265.1" cy="211.6" r="11.3"/><circle cx="1267.2" cy="211.3" r="11.3"/><circle cx="1269.4" cy="211.0" r="11.3"/><circle cx="1271.5" cy="210.8" r="11.3"/><circle cx="1273.6" cy="210.5" r="11.3"/><circle cx="1275.8" cy="210.2" r="11.3"/><circle cx="1277.9" cy="209.9" r="11.3"/><circle cx="1280.0" cy="209.7" r="11.3"/><circle cx="1282.2" cy="209.4" r="11.3"/><circle cx="1284.3" cy="209.2" r="11.3"/><circle cx="1286.4" cy="208.9" r="11.3"/><circle cx="1288.6" cy="208.7" r="11.3"/><circle cx="1290.7" cy="208.4" r="11.3"/><circle cx="1292.8" cy="208.2" r="11.3"/><circle cx="1295.0" cy="207.9" r="11.3"/><circle cx="1297.1" cy="207.7" r="11.3"/><circle cx="1299.2" cy="207.5" r="11.3"/><circle cx="1301.4" cy="207.2" r="11.3"/><circle cx="1303.5" cy="207.0" r="11.3"/><circle cx="1305.6" cy="206.8" r="11.3"/><circle cx="1307.8" cy="206.6" r="11.3"/><circle cx="1309.9" cy="206.3" r="11.3"/><circle cx="1312.0" cy="206.1" r="11.3"/><circle cx="1314.2" cy="205.9" r="11.3"/><circle cx="1316.3" cy="205.7" r="11.3"/><circle cx="1318.4" cy="205.5" r="11.3"/><circle cx="1320.6" cy="205.3" r="11.3"/><circle cx="1322.7" cy="205.1" r="11.3"/><circle cx="1324.8" cy="204.9" r="11.3"/><circle cx="1327.0" cy="204.7" r="11.3"/><circle cx="1329.1" cy="204.5" r="11.3"/><circle cx="1331.2" cy="204.3" r="11.3"/><circle cx="1333.4" cy="204.1" r="11.3"/><circle cx="1335.5" cy="203.9" r="11.3"/><circle cx="1337.6" cy="203.7" r="11.3"/><circle cx="1339.8" cy="203.5" r="11.3"/><circle cx="1341.9" cy="203.4" r="11.3"/><circle cx="1344.0" cy="203.2" r="11.3"/><circle cx="1346.2" cy="203.0" r="11.3"/><circle cx="1348.3" cy="202.8" r="11.3"/><circle cx="1350.4" cy="202.6" r="11.3"/><circle cx="1352.6" cy="202.5" r="11.3"/><circle cx="1354.7" cy="202.3" r="11.3"/><circle cx="1356.8" cy="202.1" r="11.3"/><circle cx="1359.0" cy="202.0" r="11.3"/><circle cx="1361.1" cy="201.8" r="11.3"/><circle cx="1363.2" cy="201.6" r="11.3"/><circle cx="1365.4" cy="201.5" r="11.3"/><circle cx="1367.5" cy="201.3" r="11.3"/><circle cx="1369.6" cy="201.1" r="11.3"/><circle cx="1371.8" cy="201.0" r="11.3"/><circle cx="1373.9" cy="200.8" r="11.3"/><circle cx="1376.0" cy="200.7" r="11.3"/><circle cx="1378.2" cy="200.5" r="11.3"/><circle cx="1380.3" cy="200.3" r="11.3"/><circle cx="1382.4" cy="200.2" r="11.3"/><circle cx="1384.5" cy="200.0" r="11.3"/><circle cx="1386.7" cy="199.9" r="11.3"/><circle cx="1388.8" cy="199.7" r="11.3"/><circle cx="1390.9" cy="199.6" r="11.3"/><circle cx="1393.1" cy="199.4" r="11.3"/><circle cx="1395.2" cy="199.3" r="11.3"/><circle cx="1397.3" cy="199.2" r="11.3"/><circle cx="1399.5" cy="199.0" r="11.3"/><circle cx="1401.6" cy="198.9" r="11.3"/><circle cx="1403.7" cy="198.7" r="11.3"/><circle cx="1405.9" cy="198.6" r="11.3"/><circle cx="1408.0" cy="198.5" r="11.3"/><circle cx="1410.1" cy="198.3" r="11.3"/><circle cx="1412.3" cy="198.2" r="11.3"/><circle cx="1414.4" cy="198.0" r="11.3"/><circle cx="1416.5" cy="197.9" r="11.3"/><circle cx="1418.7" cy="197.8" r="11.3"/><circle cx="1420.8" cy="197.6" r="11.3"/><circle cx="1422.9" cy="197.5" r="11.3"/><circle cx="1425.1" cy="197.4" r="11.3"/><circle cx="1427.2" cy="197.3" r="11.3"/><circle cx="1429.3" cy="197.1" r="11.3"/><circle cx="1431.5" cy="197.0" r="11.3"/><circle cx="1433.6" cy="196.9" r="11.3"/><circle cx="1435.7" cy="196.7" r="11.3"/><circle cx="1437.9" cy="196.6" r="11.3"/><circle cx="1440.0" cy="196.5" r="11.3"/><circle cx="1441.0" cy="768.0" r="11.3"/><circle cx="1440.5" cy="801.0" r="11.3"/><circle cx="1444.7" cy="801.0" r="11.3"/><circle cx="1448.9" cy="801.0" r="11.3"/><circle cx="1453.1" cy="801.0" r="11.3"/><circle cx="1457.3" cy="801.0" r="11.3"/><circle cx="1461.5" cy="801.0" r="11.3"/><circle cx="1465.7" cy="801.0" r="11.3"/><circle cx="1469.8" cy="801.0" r="11.3"/><circle cx="1474.0" cy="801.0" r="11.3"/><circle cx="1478.2" cy="801.0" r="11.3"/><circle cx="1482.4" cy="801.0" r="11.3"/><circle cx="1486.6" cy="801.0" r="11.3"/><circle cx="1490.8" cy="801.0" r="11.3"/><circle cx="1495.0" cy="801.0" r="11.3"/><circle cx="1500.5" cy="616.0" r="11.3"/><circle cx="1507.0" cy="234.4" r="11.3"/><circle cx="1509.1" cy="233.8" r="11.3"/><circle cx="1511.3" cy="233.2" r="11.3"/><circle cx="1513.4" cy="232.6" r="11.3"/><circle cx="1515.6" cy="232.0" r="11.3"/><circle cx="1517.7" cy="231.5" r="11.3"/><circle cx="1519.8" cy="231.0" r="11.3"/><circle cx="1522.0" cy="230.5" r="11.3"/><circle cx="1524.1" cy="230.0" r="11.3"/><circle cx="1526.3" cy="229.5" r="11.3"/><circle cx="1528.4" cy="229.0" r="11.3"/><circle cx="1530.6" cy="228.6" r="11.3"/><circle cx="1532.7" cy="228.1" r="11.3"/><circle cx="1534.8" cy="227.7" r="11.3"/><circle cx="1537.0" cy="227.2" r="11.3"/><circle cx="1539.1" cy="226.8" r="11.3"/><circle cx="1541.3" cy="226.4" r="11.3"/><circle cx="1543.4" cy="226.0" r="11.3"/><circle cx="1545.5" cy="225.6" r="11.3"/><circle cx="1547.7" cy="225.3" r="11.3"/><circle cx="1549.8" cy="224.9" r="11.3"/><circle cx="1552.0" cy="224.5" r="11.3"/><circle cx="1554.1" cy="224.2" r="11.3"/><circle cx="1556.3" cy="223.8" r="11.3"/><circle cx="1558.4" cy="223.5" r="11.3"/><circle cx="1560.5" cy="223.1" r="11.3"/><circle cx="1562.7" cy="222.8" r="11.3"/><circle cx="1564.8" cy="222.5" r="11.3"/><circle cx="1567.0" cy="222.2" r="11.3"/><circle cx="1569.1" cy="221.8" r="11.3"/><circle cx="1571.2" cy="221.5" r="11.3"/><circle cx="1573.4" cy="221.2" r="11.3"/><circle cx="1575.5" cy="220.9" r="11.3"/><circle cx="1577.7" cy="220.6" r="11.3"/><circle cx="1579.8" cy="220.4" r="11.3"/><circle cx="1582.0" cy="220.1" r="11.3"/><circle cx="1584.1" cy="219.8" r="11.3"/><circle cx="1586.2" cy="219.5" r="11.3"/><circle cx="1588.4" cy="219.3" r="11.3"/><circle cx="1590.5" cy="219.0" r="11.3"/><circle cx="1592.7" cy="218.7" r="11.3"/><circle cx="1594.8" cy="218.5" r="11.3"/><circle cx="1596.9" cy="218.2" r="11.3"/><circle cx="1599.1" cy="218.0" r="11.3"/><circle cx="1601.2" cy="217.7" r="11.3"/><circle cx="1603.4" cy="217.5" r="11.3"/><circle cx="1605.5" cy="217.2" r="11.3"/><circle cx="1607.7" cy="217.0" r="11.3"/><circle cx="1609.8" cy="216.8" r="11.3"/><circle cx="1611.9" cy="216.5" r="11.3"/><circle cx="1614.1" cy="216.3" r="11.3"/><circle cx="1616.2" cy="216.1" r="11.3"/><circle cx="1618.4" cy="215.8" r="11.3"/><circle cx="1620.5" cy="215.6" r="11.3"/><circle cx="1622.6" cy="215.4" r="11.3"/><circle cx="1624.8" cy="215.2" r="11.3"/><circle cx="1626.9" cy="215.0" r="11.3"/><circle cx="1629.1" cy="214.8" r="11.3"/><circle cx="1631.2" cy="214.6" r="11.3"/><circle cx="1633.4" cy="214.4" r="11.3"/><circle cx="1635.5" cy="214.2" r="11.3"/><circle cx="1637.6" cy="214.0" r="11.3"/><circle cx="1639.8" cy="213.8" r="11.3"/><circle cx="1641.9" cy="213.6" r="11.3"/><circle cx="1644.1" cy="213.4" r="11.3"/><circle cx="1646.2" cy="213.2" r="11.3"/><circle cx="1648.3" cy="213.0" r="11.3"/><circle cx="1650.5" cy="212.8" r="11.3"/><circle cx="1652.6" cy="212.6" r="11.3"/><circle cx="1654.8" cy="212.4" r="11.3"/><circle cx="1656.9" cy="212.3" r="11.3"/><circle cx="1659.1" cy="212.1" r="11.3"/><circle cx="1661.2" cy="211.9" r="11.3"/><circle cx="1663.3" cy="211.7" r="11.3"/><circle cx="1665.5" cy="211.5" r="11.3"/><circle cx="1667.6" cy="211.4" r="11.3"/><circle cx="1669.8" cy="211.2" r="11.3"/><circle cx="1671.9" cy="211.0" r="11.3"/><circle cx="1674.0" cy="210.9" r="11.3"/><circle cx="1676.2" cy="210.7" r="11.3"/><circle cx="1678.3" cy="210.5" r="11.3"/><circle cx="1680.5" cy="210.4" r="11.3"/><circle cx="1682.6" cy="210.2" r="11.3"/><circle cx="1684.8" cy="210.0" r="11.3"/><circle cx="1686.9" cy="209.9" r="11.3"/><circle cx="1689.0" cy="209.7" r="11.3"/><circle cx="1691.2" cy="209.6" r="11.3"/><circle cx="1693.3" cy="209.4" r="11.3"/><circle cx="1695.5" cy="209.3" r="11.3"/><circle cx="1697.6" cy="209.1" r="11.3"/><circle cx="1699.7" cy="209.0" r="11.3"/><circle cx="1701.9" cy="208.8" r="11.3"/><circle cx="1704.0" cy="208.7" r="11.3"/><circle cx="1706.2" cy="208.5" r="11.3"/><circle cx="1708.3" cy="208.4" r="11.3"/><circle cx="1710.5" cy="208.2" r="11.3"/><circle cx="1712.6" cy="208.1" r="11.3"/><circle cx="1714.7" cy="207.9" r="11.3"/><circle cx="1716.9" cy="207.8" r="11.3"/><circle cx="1719.0" cy="207.7" r="11.3"/><circle cx="1721.2" cy="207.5" r="11.3"/><circle cx="1723.3" cy="207.4" r="11.3"/><circle cx="1725.4" cy="207.2" r="11.3"/><circle cx="1727.6" cy="207.1" r="11.3"/><circle cx="1729.7" cy="207.0" r="11.3"/><circle cx="1731.9" cy="206.8" r="11.3"/><circle cx="1734.0" cy="206.7" r="11.3"/><circle cx="1736.2" cy="206.6" r="11.3"/><circle cx="1738.3" cy="206.4" r="11.3"/><circle cx="1740.4" cy="206.3" r="11.3"/><circle cx="1742.6" cy="206.2" r="11.3"/><circle cx="1744.7" cy="206.1" r="11.3"/><circle cx="1746.9" cy="205.9" r="11.3"/><circle cx="1749.0" cy="205.8" r="11.3"/><circle cx="1750.0" cy="869.0" r="11.3"/><circle cx="1749.5" cy="904.0" r="11.3"/><circle cx="1754.0" cy="904.0" r="11.3"/><circle cx="1758.4" cy="904.0" r="11.3"/><circle cx="1762.9" cy="904.0" r="11.3"/><circle cx="1767.3" cy="904.0" r="11.3"/><circle cx="1771.8" cy="904.0" r="11.3"/><circle cx="1776.2" cy="904.0" r="11.3"/><circle cx="1780.7" cy="904.0" r="11.3"/><circle cx="1785.2" cy="904.0" r="11.3"/><circle cx="1789.6" cy="904.0" r="11.3"/><circle cx="1794.1" cy="904.0" r="11.3"/><circle cx="1798.5" cy="904.0" r="11.3"/><circle cx="1803.0" cy="904.0" r="11.3"/><circle cx="1808.5" cy="636.0" r="11.3"/><circle cx="1815.0" cy="246.8" r="11.3"/><circle cx="1817.1" cy="246.1" r="11.3"/><circle cx="1819.3" cy="245.4" r="11.3"/><circle cx="1821.4" cy="244.7" r="11.3"/><circle cx="1823.6" cy="244.1" r="11.3"/><circle cx="1825.7" cy="243.4" r="11.3"/><circle cx="1827.9" cy="242.7" r="11.3"/><circle cx="1830.0" cy="242.0" r="11.3"/><circle cx="1832.1" cy="241.3" r="11.3"/><circle cx="1834.3" cy="240.6" r="11.3"/><circle cx="1836.4" cy="240.0" r="11.3"/><circle cx="1838.6" cy="239.3" r="11.3"/><circle cx="1840.7" cy="238.6" r="11.3"/><circle cx="1842.9" cy="237.9" r="11.3"/><circle cx="1845.0" cy="237.2" r="11.3"/><circle cx="1847.1" cy="236.7" r="11.3"/><circle cx="1849.3" cy="236.3" r="11.3"/><circle cx="1851.4" cy="235.9" r="11.3"/><circle cx="1853.6" cy="235.5" r="11.3"/><circle cx="1855.7" cy="235.1" r="11.3"/><circle cx="1857.9" cy="234.8" r="11.3"/><circle cx="1860.0" cy="234.4" r="11.3"/><circle cx="1862.1" cy="234.0" r="11.3"/><circle cx="1864.3" cy="233.6" r="11.3"/><circle cx="1866.4" cy="233.2" r="11.3"/><circle cx="1868.6" cy="232.8" r="11.3"/><circle cx="1870.7" cy="232.4" r="11.3"/><circle cx="1872.9" cy="232.0" r="11.3"/><circle cx="1875.0" cy="231.7" r="11.3"/><circle cx="1877.1" cy="231.3" r="11.3"/><circle cx="1879.3" cy="230.9" r="11.3"/><circle cx="1881.4" cy="230.5" r="11.3"/><circle cx="1883.6" cy="230.1" r="11.3"/><circle cx="1885.7" cy="229.7" r="11.3"/><circle cx="1887.9" cy="229.3" r="11.3"/><circle cx="1890.0" cy="228.9" r="11.3"/><circle cx="1892.1" cy="228.6" r="11.3"/><circle cx="1894.3" cy="228.2" r="11.3"/><circle cx="1896.4" cy="228.0" r="11.3"/><circle cx="1898.6" cy="227.7" r="11.3"/><circle cx="1900.7" cy="227.4" r="11.3"/><circle cx="1902.9" cy="227.2" r="11.3"/><circle cx="1905.0" cy="226.9" r="11.3"/><circle cx="1907.1" cy="226.6" r="11.3"/><circle cx="1909.3" cy="226.3" r="11.3"/><circle cx="1911.4" cy="226.1" r="11.3"/><circle cx="1913.6" cy="225.8" r="11.3"/><circle cx="1915.7" cy="225.5" r="11.3"/><circle cx="1917.9" cy="225.3" r="11.3"/><circle cx="1920.0" cy="225.0" r="11.3"/><circle cx="1922.1" cy="224.7" r="11.3"/><circle cx="1924.3" cy="224.5" r="11.3"/><circle cx="1926.4" cy="224.2" r="11.3"/><circle cx="1928.6" cy="223.9" r="11.3"/><circle cx="1930.7" cy="223.6" r="11.3"/><circle cx="1932.9" cy="223.4" r="11.3"/><circle cx="1935.0" cy="223.1" r="11.3"/><circle cx="1937.1" cy="222.8" r="11.3"/><circle cx="1939.3" cy="222.6" r="11.3"/><circle cx="1941.4" cy="222.4" r="11.3"/><circle cx="1943.6" cy="222.2" r="11.3"/><circle cx="1945.7" cy="222.0" r="11.3"/><circle cx="1947.9" cy="221.8" r="11.3"/><circle cx="1950.0" cy="221.6" r="11.3"/><circle cx="1952.1" cy="221.5" r="11.3"/><circle cx="1954.3" cy="221.3" r="11.3"/><circle cx="1956.4" cy="221.1" r="11.3"/><circle cx="1958.6" cy="220.9" r="11.3"/><circle cx="1960.7" cy="220.7" r="11.3"/><circle cx="1962.9" cy="220.5" r="11.3"/><circle cx="1965.0" cy="220.3" r="11.3"/><circle cx="1967.1" cy="220.1" r="11.3"/><circle cx="1969.3" cy="220.0" r="11.3"/><circle cx="1971.4" cy="219.8" r="11.3"/><circle cx="1973.6" cy="219.6" r="11.3"/><circle cx="1975.7" cy="219.4" r="11.3"/><circle cx="1977.9" cy="219.2" r="11.3"/><circle cx="1980.0" cy="219.0" r="11.3"/><circle cx="1982.1" cy="218.8" r="11.3"/><circle cx="1984.3" cy="218.6" r="11.3"/><circle cx="1986.4" cy="218.5" r="11.3"/><circle cx="1988.6" cy="218.3" r="11.3"/><circle cx="1990.7" cy="218.2" r="11.3"/><circle cx="1992.9" cy="218.0" r="11.3"/><circle cx="1995.0" cy="217.8" r="11.3"/><circle cx="1997.1" cy="217.7" r="11.3"/><circle cx="1999.3" cy="217.5" r="11.3"/><circle cx="2001.4" cy="217.4" r="11.3"/><circle cx="2003.6" cy="217.2" r="11.3"/><circle cx="2005.7" cy="217.0" r="11.3"/><circle cx="2007.9" cy="216.9" r="11.3"/><circle cx="2010.0" cy="216.7" r="11.3"/><circle cx="2012.1" cy="216.6" r="11.3"/><circle cx="2014.3" cy="216.4" r="11.3"/><circle cx="2016.4" cy="216.3" r="11.3"/><circle cx="2018.6" cy="216.1" r="11.3"/><circle cx="2020.7" cy="215.9" r="11.3"/><circle cx="2022.9" cy="215.8" r="11.3"/><circle cx="2025.0" cy="215.6" r="11.3"/><circle cx="2027.1" cy="215.5" r="11.3"/><circle cx="2029.3" cy="215.3" r="11.3"/><circle cx="2031.4" cy="215.1" r="11.3"/><circle cx="2033.6" cy="215.0" r="11.3"/><circle cx="2035.7" cy="214.9" r="11.3"/><circle cx="2037.9" cy="214.8" r="11.3"/><circle cx="2040.0" cy="214.7" r="11.3"/><circle cx="2042.1" cy="214.6" r="11.3"/><circle cx="2044.3" cy="214.4" r="11.3"/><circle cx="2046.4" cy="214.3" r="11.3"/><circle cx="2048.6" cy="214.2" r="11.3"/><circle cx="2050.7" cy="214.1" r="11.3"/><circle cx="2052.9" cy="214.0" r="11.3"/><circle cx="2055.0" cy="213.9" r="11.3"/><circle cx="2057.1" cy="213.7" r="11.3"/><circle cx="2059.3" cy="213.6" r="11.3"/><circle cx="2061.4" cy="213.5" r="11.3"/><circle cx="2063.6" cy="213.4" r="11.3"/><circle cx="2065.7" cy="213.3" r="11.3"/><circle cx="2067.9" cy="213.2" r="11.3"/><circle cx="2070.0" cy="213.1" r="11.3"/><circle cx="2072.1" cy="212.9" r="11.3"/><circle cx="2074.3" cy="212.7" r="11.3"/><circle cx="2076.4" cy="212.5" r="11.3"/><circle cx="2078.6" cy="212.2" r="11.3"/><circle cx="2080.7" cy="212.0" r="11.3"/><circle cx="2082.9" cy="211.8" r="11.3"/><circle cx="2085.0" cy="211.6" r="11.3"/><circle cx="2087.1" cy="211.4" r="11.3"/><circle cx="2089.3" cy="211.2" r="11.3"/><circle cx="2091.4" cy="211.0" r="11.3"/><circle cx="2093.6" cy="210.7" r="11.3"/><circle cx="2095.7" cy="210.5" r="11.3"/><circle cx="2097.9" cy="210.3" r="11.3"/><circle cx="2100.0" cy="210.1" r="11.3"/><circle cx="2102.1" cy="209.9" r="11.3"/><circle cx="2104.3" cy="209.7" r="11.3"/><circle cx="2106.4" cy="209.5" r="11.3"/><circle cx="2108.6" cy="209.2" r="11.3"/><circle cx="2110.7" cy="209.0" r="11.3"/><circle cx="2112.9" cy="208.8" r="11.3"/><circle cx="2115.0" cy="208.6" r="11.3"/><circle cx="2117.1" cy="208.4" r="11.3"/><circle cx="2119.3" cy="208.2" r="11.3"/><circle cx="2121.4" cy="208.0" r="11.3"/><circle cx="2123.6" cy="207.7" r="11.3"/><circle cx="2125.7" cy="207.5" r="11.3"/><circle cx="2127.9" cy="207.3" r="11.3"/><circle cx="2130.0" cy="207.1" r="11.3"/><circle cx="2132.1" cy="206.9" r="11.3"/><circle cx="2134.3" cy="206.7" r="11.3"/><circle cx="2136.4" cy="206.5" r="11.3"/><circle cx="2138.6" cy="206.3" r="11.3"/><circle cx="2140.7" cy="206.1" r="11.3"/><circle cx="2142.9" cy="205.9" r="11.3"/><circle cx="2145.0" cy="205.7" r="11.3"/><circle cx="2147.1" cy="205.5" r="11.3"/><circle cx="2149.3" cy="205.3" r="11.3"/><circle cx="2151.4" cy="205.0" r="11.3"/><circle cx="2153.6" cy="204.8" r="11.3"/><circle cx="2155.7" cy="204.6" r="11.3"/><circle cx="2157.9" cy="204.4" r="11.3"/><circle cx="2160.0" cy="204.2" r="11.3"/><circle cx="2162.1" cy="204.0" r="11.3"/><circle cx="2164.3" cy="203.8" r="11.3"/><circle cx="2166.4" cy="203.6" r="11.3"/><circle cx="2168.6" cy="203.4" r="11.3"/><circle cx="2170.7" cy="203.2" r="11.3"/><circle cx="2172.9" cy="203.0" r="11.3"/><circle cx="2175.0" cy="202.8" r="11.3"/><circle cx="2177.1" cy="202.6" r="11.3"/><circle cx="2179.3" cy="202.4" r="11.3"/><circle cx="2181.4" cy="202.2" r="11.3"/><circle cx="2183.6" cy="201.9" r="11.3"/><circle cx="2185.7" cy="201.7" r="11.3"/><circle cx="2187.9" cy="201.5" r="11.3"/><circle cx="2190.0" cy="201.3" r="11.3"/><circle cx="2192.1" cy="201.1" r="11.3"/><circle cx="2194.3" cy="200.9" r="11.3"/><circle cx="2196.4" cy="200.7" r="11.3"/><circle cx="2198.6" cy="200.5" r="11.3"/><circle cx="2200.7" cy="200.3" r="11.3"/><circle cx="2202.9" cy="200.1" r="11.3"/><circle cx="2205.0" cy="199.9" r="11.3"/><circle cx="2207.1" cy="199.7" r="11.3"/><circle cx="2209.3" cy="199.5" r="11.3"/><circle cx="2211.4" cy="199.3" r="11.3"/><circle cx="2213.6" cy="199.1" r="11.3"/><circle cx="2215.7" cy="198.9" r="11.3"/><circle cx="2217.9" cy="198.7" r="11.3"/><circle cx="2220.0" cy="198.5" r="11.3"/><circle cx="2222.1" cy="198.3" r="11.3"/><circle cx="2224.3" cy="198.1" r="11.3"/><circle cx="2226.4" cy="197.9" r="11.3"/><circle cx="2228.6" cy="197.7" r="11.3"/><circle cx="2230.7" cy="197.5" r="11.3"/><circle cx="2232.9" cy="197.3" r="11.3"/><circle cx="2235.0" cy="197.1" r="11.3"/><circle cx="2237.1" cy="196.9" r="11.3"/><circle cx="2239.3" cy="196.7" r="11.3"/><circle cx="2241.4" cy="196.5" r="11.3"/><circle cx="2243.6" cy="196.3" r="11.3"/><circle cx="2245.7" cy="196.1" r="11.3"/><circle cx="2247.9" cy="196.0" r="11.3"/><circle cx="2250.0" cy="195.8" r="11.3"/><circle cx="2252.1" cy="195.6" r="11.3"/><circle cx="2254.3" cy="195.4" r="11.3"/><circle cx="2256.4" cy="195.3" r="11.3"/><circle cx="2258.6" cy="195.1" r="11.3"/><circle cx="2260.7" cy="194.9" r="11.3"/><circle cx="2262.9" cy="194.7" r="11.3"/><circle cx="2265.0" cy="194.6" r="11.3"/><circle cx="2267.1" cy="194.4" r="11.3"/><circle cx="2269.3" cy="194.2" r="11.3"/><circle cx="2271.4" cy="194.0" r="11.3"/><circle cx="2273.6" cy="193.9" r="11.3"/><circle cx="2275.7" cy="193.7" r="11.3"/><circle cx="2277.9" cy="193.5" r="11.3"/><circle cx="2280.0" cy="193.3" r="11.3"/><circle cx="2282.1" cy="193.2" r="11.3"/><circle cx="2284.3" cy="193.0" r="11.3"/><circle cx="2286.4" cy="192.7" r="11.3"/><circle cx="2288.6" cy="192.4" r="11.3"/><circle cx="2290.7" cy="192.1" r="11.3"/><circle cx="2292.9" cy="191.9" r="11.3"/><circle cx="2295.0" cy="191.6" r="11.3"/><circle cx="2297.1" cy="191.3" r="11.3"/><circle cx="2299.3" cy="191.1" r="11.3"/><circle cx="2301.4" cy="190.8" r="11.3"/><circle cx="2303.6" cy="190.5" r="11.3"/><circle cx="2305.7" cy="190.2" r="11.3"/><circle cx="2307.9" cy="190.0" r="11.3"/><circle cx="2310.0" cy="189.7" r="11.3"/></g>
</g>
<g id="gdprime">
<polyline points="263.0,322.0 265.1,322.0 267.3,322.0 269.4,322.0 271.6,322.0 273.7,321.9 275.9,321.9 278.0,321.9 280.2,321.9 282.3,321.9 284.5,321.9 286.6,321.9 288.7,321.9 290.9,321.9 293.0,321.9 295.2,321.9 297.3,321.8 299.5,321.8 301.6,321.8 303.8,321.8 305.9,321.8 308.1,321.8 310.2,321.8 312.3,321.8 314.5,321.8 316.6,321.8 318.8,321.8 320.9,321.8 323.1,321.8 325.2,321.7 327.4,321.7 329.5,321.7 331.6,321.7 333.8,321.7 335.9,321.7 338.1,321.7 340.2,321.7 342.4,321.7 344.5,321.7 346.7,321.7 348.8,321.7 351.0,321.7 353.1,321.7 355.2,321.6 357.4,321.6 359.5,321.6 361.7,321.6 363.8,321.6 366.0,321.6 368.1,321.6 370.3,321.6 372.4,321.6 374.6,321.6 376.7,321.6 378.8,321.6 381.0,321.6 383.1,321.6 385.3,321.6 387.4,321.6 389.6,321.6 391.7,321.6 393.9,321.5 396.0,321.5 398.2,321.5 400.3,321.5 402.4,321.5 404.6,321.5 406.7,321.5 408.9,321.5 411.0,321.5 413.2,321.5 415.3,321.5 417.5,321.5 419.6,321.5 421.8,321.5 423.9,321.5 426.0,321.5 428.2,321.5 430.3,321.5 432.5,321.5 434.6,321.5 436.8,321.4 438.9,321.4 441.1,321.4 443.2,321.4 445.4,321.4 447.5,321.4 449.6,321.4 451.8,321.4 453.9,321.4 456.1,321.4 458.2,321.4 460.4,321.4 462.5,321.4 464.7,321.4 466.8,321.4 468.9,321.4 471.1,321.4 473.2,321.4 475.4,321.4 477.5,321.4 479.7,321.4 481.8,321.4 484.0,321.4 486.1,321.3 488.3,321.3 490.4,321.3 492.5,321.3 494.7,321.3 496.8,321.3 499.0,321.3 501.1,321.3 503.3,321.3 505.4,321.3 507.6,321.3 509.7,321.3 511.9,321.3 514.0,321.3 515.0,509.0 518.8,511.0 523.2,511.0 527.5,511.0 531.9,511.0 536.2,511.0 540.6,511.0 544.9,511.0 549.3,511.0 553.6,511.0 558.0,511.0 562.3,511.0 566.7,511.0 571.0,511.0 576.5,511.0 583.0,321.0 585.1,321.0 587.3,320.9 589.4,320.9 591.5,320.8 593.7,320.8 595.8,320.7 597.9,320.7 600.1,320.6 602.2,320.6 604.3,320.6 606.5,320.5 608.6,320.5 610.7,320.4 612.9,320.4 615.0,320.4 617.1,320.3 619.3,320.3 621.4,320.2 623.5,320.2 625.7,320.2 627.8,320.1 629.9,320.1 632.1,320.1 634.2,320.0 636.3,320.0 638.5,320.0 640.6,319.9 642.7,319.9 644.8,319.9 647.0,319.8 649.1,319.8 651.2,319.8 653.4,319.7 655.5,319.7 657.6,319.7 659.8,319.7 661.9,319.6 664.0,319.6 666.2,319.6 668.3,319.5 670.4,319.5 672.6,319.5 674.7,319.5 676.8,319.4 679.0,319.4 681.1,319.4 683.2,319.3 685.4,319.3 687.5,319.3 689.6,319.3 691.8,319.2 693.9,319.2 696.0,319.2 698.2,319.2 700.3,319.1 702.4,319.1 704.6,319.1 706.7,319.1 708.8,319.0 711.0,319.0 713.1,319.0 715.2,319.0 717.4,319.0 719.5,318.9 721.6,318.9 723.8,318.9 725.9,318.9 728.0,318.8 730.2,318.8 732.3,318.8 734.4,318.8 736.6,318.8 738.7,318.7 740.8,318.7 743.0,318.7 745.1,318.7 747.2,318.7 749.4,318.6 751.5,318.6 753.6,318.6 755.8,318.6 757.9,318.6 760.0,318.5 762.2,318.5 764.3,318.5 766.4,318.5 768.5,318.5 770.7,318.4 772.8,318.4 774.9,318.4 777.1,318.4 779.2,318.4 781.3,318.3 783.5,318.3 785.6,318.3 787.7,318.3 789.9,318.3 792.0,318.3 794.1,318.2 796.3,318.2 798.4,318.2 800.5,318.2 802.7,318.2 804.8,318.1 806.9,318.1 809.1,318.1 811.2,318.1 813.3,318.1 815.5,318.1 817.6,318.0 819.7,318.0 821.9,318.0 824.0,318.0 825.0,597.0 829.0,601.0 833.4,601.0 837.9,601.0 842.3,601.0 846.8,601.0 851.2,601.0 855.7,601.0 860.2,601.0 864.6,601.0 869.1,601.0 873.5,601.0 878.0,601.0 883.5,601.0 890.0,320.3 892.1,320.2 894.3,320.1 896.4,320.0 898.6,319.9 900.7,319.8 902.8,319.7 905.0,319.6 907.1,319.5 909.3,319.4 911.4,319.3 913.6,319.2 915.7,319.1 917.8,319.0 920.0,318.9 922.1,318.9 924.3,318.8 926.4,318.7 928.5,318.6 930.7,318.5 932.8,318.5 935.0,318.4 937.1,318.3 939.3,318.2 941.4,318.1 943.5,318.1 945.7,318.0 947.8,317.9 950.0,317.8 952.1,317.8 954.2,317.7 956.4,317.6 958.5,317.6 960.7,317.5 962.8,317.4 965.0,317.4 967.1,317.3 969.2,317.2 971.4,317.2 973.5,317.1 975.7,317.0 977.8,317.0 979.9,316.9 982.1,316.8 984.2,316.8 986.4,316.7 988.5,316.7 990.7,316.6 992.8,316.5 994.9,316.5 997.1,316.4 999.2,316.4 1001.4,316.3 1003.5,316.3 1005.6,316.2 1007.8,316.2 1009.9,316.1 1012.1,316.0 1014.2,316.0 1016.4,315.9 1018.5,315.9 1020.6,315.8 1022.8,315.8 1024.9,315.7 1027.1,315.7 1029.2,315.6 1031.3,315.6 1033.5,315.5 1035.6,315.5 1037.8,315.4 1039.9,315.4 1042.1,315.3 1044.2,315.3 1046.3,315.2 1048.5,315.2 1050.6,315.1 1052.8,315.1 1054.9,315.1 1057.0,315.0 1059.2,315.0 1061.3,314.9 1063.5,314.9 1065.6,314.8 1067.8,314.8 1069.9,314.7 1072.0,314.7 1074.2,314.7 1076.3,314.6 1078.5,314.6 1080.6,314.5 1082.7,314.5 1084.9,314.4 1087.0,314.4 1089.2,314.4 1091.3,314.3 1093.5,314.3 1095.6,314.2 1097.7,314.2 1099.9,314.2 1102.0,314.1 1104.2,314.1 1106.3,314.0 1108.4,314.0 1110.6,314.0 1112.7,313.9 1114.9,313.9 1117.0,313.9 1119.2,313.8 1121.3,313.8 1123.4,313.7 1125.6,313.7 1127.7,313.7 1129.9,313.6 1132.0,313.6 1133.0,598.0 1136.7,605.0 1140.9,605.0 1145.1,605.0 1149.3,605.0 1153.5,605.0 1157.7,605.0 1161.8,605.0 1166.0,605.0 1170.2,605.0 1174.4,605.0 1178.6,605.0 1182.8,605.0 1187.0,605.0 1192.5,605.0 1199.0,318.6 1201.1,318.5 1203.3,318.3 1205.4,318.2 1207.5,318.1 1209.7,317.9 1211.8,317.8 1213.9,317.7 1216.1,317.6 1218.2,317.4 1220.3,317.3 1222.5,317.2 1224.6,317.1 1226.7,317.0 1228.9,316.8 1231.0,316.7 1233.1,316.6 1235.3,316.5 1237.4,316.4 1239.5,316.3 1241.7,316.2 1243.8,316.1 1245.9,316.0 1248.1,315.9 1250.2,315.8 1252.3,315.7 1254.5,315.6 1256.6,315.5 1258.7,315.4 1260.8,315.3 1263.0,315.2 1265.1,315.1 1267.2,315.0 1269.4,315.0 1271.5,314.9 1273.6,314.8 1275.8,314.7 1277.9,314.6 1280.0,314.5 1282.2,314.4 1284.3,314.4 1286.4,314.3 1288.6,314.2 1290.7,314.1 1292.8,314.0 1295.0,314.0 1297.1,313.9 1299.2,313.8 1301.4,313.7 1303.5,313.7 1305.6,313.6 1307.8,313.5 1309.9,313.4 1312.0,313.4 1314.2,313.3 1316.3,313.2 1318.4,313.1 1320.6,313.1 1322.7,313.0 1324.8,312.9 1327.0,312.9 1329.1,312.8 1331.2,312.7 1333.4,312.7 1335.5,312.6 1337.6,312.5 1339.8,312.5 1341.9,312.4 1344.0,312.3 1346.2,312.3 1348.3,312.2 1350.4,312.2 1352.6,312.1 1354.7,312.0 1356.8,312.0 1359.0,311.9 1361.1,311.9 1363.2,311.8 1365.4,311.7 1367.5,311.7 1369.6,311.6 1371.8,311.6 1373.9,311.5 1376.0,311.4 1378.2,311.4 1380.3,311.3 1382.4,311.3 1384.5,311.2 1386.7,311.2 1388.8,311.1 1390.9,311.1 1393.1,311.0 1395.2,310.9 1397.3,310.9 1399.5,310.8 1401.6,310.8 1403.7,310.7 1405.9,310.7 1408.0,310.6 1410.1,310.6 1412.3,310.5 1414.4,310.5 1416.5,310.4 1418.7,310.4 1420.8,310.3 1422.9,310.3 1425.1,310.2 1427.2,310.2 1429.3,310.1 1431.5,310.1 1433.6,310.0 1435.7,310.0 1437.9,309.9 1440.0,309.9 1441.0,628.0 1444.7,636.0 1448.9,636.0 1453.1,636.0 1457.3,636.0 1461.5,636.0 1465.7,636.0 1469.8,636.0 1474.0,636.0 1478.2,636.0 1482.4,636.0 1486.6,636.0 1490.8,636.0 1495.0,636.0 1500.5,606.0 1507.0,321.9 1509.1,321.8 1511.3,321.7 1513.4,321.6 1515.6,321.4 1517.7,321.3 1519.8,321.2 1522.0,321.1 1524.1,321.0 1526.3,320.9 1528.4,320.8 1530.6,320.7 1532.7,320.6 1534.8,320.5 1537.0,320.4 1539.1,320.3 1541.3,320.2 1543.4,320.1 1545.5,320.0 1547.7,319.9 1549.8,319.9 1552.0,319.8 1554.1,319.7 1556.3,319.6 1558.4,319.5 1560.5,319.4 1562.7,319.4 1564.8,319.3 1567.0,319.2 1569.1,319.1 1571.2,319.0 1573.4,319.0 1575.5,318.9 1577.7,318.8 1579.8,318.7 1582.0,318.7 1584.1,318.6 1586.2,318.5 1588.4,318.4 1590.5,318.4 1592.7,318.3 1594.8,318.2 1596.9,318.2 1599.1,318.1 1601.2,318.0 1603.4,318.0 1605.5,317.9 1607.7,317.8 1609.8,317.8 1611.9,317.7 1614.1,317.6 1616.2,317.6 1618.4,317.5 1620.5,317.4 1622.6,317.4 1624.8,317.3 1626.9,317.3 1629.1,317.2 1631.2,317.1 1633.4,317.1 1635.5,317.0 1637.6,317.0 1639.8,316.9 1641.9,316.9 1644.1,316.8 1646.2,316.7 1648.3,316.7 1650.5,316.6 1652.6,316.6 1654.8,316.5 1656.9,316.5 1659.1,316.4 1661.2,316.4 1663.3,316.3 1665.5,316.3 1667.6,316.2 1669.8,316.2 1671.9,316.1 1674.0,316.1 1676.2,316.0 1678.3,316.0 1680.5,315.9 1682.6,315.9 1684.8,315.8 1686.9,315.8 1689.0,315.7 1691.2,315.7 1693.3,315.6 1695.5,315.6 1697.6,315.5 1699.7,315.5 1701.9,315.4 1704.0,315.4 1706.2,315.3 1708.3,315.3 1710.5,315.3 1712.6,315.2 1714.7,315.2 1716.9,315.1 1719.0,315.1 1721.2,315.0 1723.3,315.0 1725.4,315.0 1727.6,314.9 1729.7,314.9 1731.9,314.8 1734.0,314.8 1736.2,314.7 1738.3,314.7 1740.4,314.7 1742.6,314.6 1744.7,314.6 1746.9,314.5 1749.0,314.5 1750.0,666.0 1754.0,674.0 1758.4,674.0 1762.9,674.0 1767.3,674.0 1771.8,674.0 1776.2,674.0 1780.7,674.0 1785.2,674.0 1789.6,674.0 1794.1,674.0 1798.5,674.0 1803.0,674.0 1808.5,616.0 1815.0,325.0 1817.1,324.9 1819.3,324.7 1821.4,324.6 1823.6,324.5 1825.7,324.3 1827.9,324.2 1830.0,324.1 1832.1,323.9 1834.3,323.8 1836.4,323.7 1838.6,323.6 1840.7,323.4 1842.9,323.3 1845.0,323.2 1847.1,323.1 1849.3,322.9 1851.4,322.8 1853.6,322.7 1855.7,322.6 1857.9,322.5 1860.0,322.4 1862.1,322.2 1864.3,322.1 1866.4,322.0 1868.6,321.9 1870.7,321.8 1872.9,321.7 1875.0,321.6 1877.1,321.5 1879.3,321.3 1881.4,321.2 1883.6,321.1 1885.7,321.0 1887.9,320.9 1890.0,320.8 1892.1,320.7 1894.3,320.6 1896.4,320.5 1898.6,320.4 1900.7,320.3 1902.9,320.2 1905.0,320.1 1907.1,320.0 1909.3,319.9 1911.4,319.8 1913.6,319.7 1915.7,319.6 1917.9,319.5 1920.0,319.4 1922.1,319.3 1924.3,319.2 1926.4,319.1 1928.6,319.0 1930.7,318.9 1932.9,318.8 1935.0,318.7 1937.1,318.6 1939.3,318.6 1941.4,318.5 1943.6,318.4 1945.7,318.3 1947.9,318.2 1950.0,318.1 1952.1,318.0 1954.3,317.9 1956.4,317.8 1958.6,317.8 1960.7,317.7 1962.9,317.6 1965.0,317.5 1967.1,317.4 1969.3,317.3 1971.4,317.2 1973.6,317.2 1975.7,317.1 1977.9,317.0 1980.0,316.9 1982.1,316.8 1984.3,316.7 1986.4,316.7 1988.6,316.6 1990.7,316.5 1992.9,316.4 1995.0,316.3 1997.1,316.3 1999.3,316.2 2001.4,316.1 2003.6,316.0 2005.7,316.0 2007.9,315.9 2010.0,315.8 2012.1,315.7 2014.3,315.6 2016.4,315.6 2018.6,315.5 2020.7,315.4 2022.9,315.3 2025.0,315.3 2027.1,315.2 2029.3,315.1 2031.4,315.0 2033.6,315.0 2035.7,314.9 2037.9,314.8 2040.0,314.8 2042.1,314.7 2044.3,314.6 2046.4,314.5 2048.6,314.5 2050.7,314.4 2052.9,314.3 2055.0,314.3 2057.1,314.2 2059.3,314.1 2061.4,314.1 2063.6,314.0 2065.7,313.9 2067.9,313.9 2070.0,313.8 2072.1,313.7 2074.3,313.6 2076.4,313.6 2078.6,313.5 2080.7,313.4 2082.9,313.4 2085.0,313.3 2087.1,313.3 2089.3,313.2 2091.4,313.1 2093.6,313.1 2095.7,313.0 2097.9,312.9 2100.0,312.9 2102.1,312.8 2104.3,312.7 2106.4,312.7 2108.6,312.6 2110.7,312.5 2112.9,312.5 2115.0,312.4 2117.1,312.4 2119.3,312.3 2121.4,312.2 2123.6,312.2 2125.7,312.1 2127.9,312.1 2130.0,312.0 2132.1,311.9 2134.3,311.9 2136.4,311.8 2138.6,311.8 2140.7,311.7 2142.9,311.6 2145.0,311.6 2147.1,311.5 2149.3,311.5 2151.4,311.4 2153.6,311.3 2155.7,311.3 2157.9,311.2 2160.0,311.2 2162.1,311.1 2164.3,311.1 2166.4,311.0 2168.6,310.9 2170.7,310.9 2172.9,310.8 2175.0,310.8 2177.1,310.7 2179.3,310.7 2181.4,310.6 2183.6,310.6 2185.7,310.5 2187.9,310.4 2190.0,310.4 2192.1,310.3 2194.3,310.3 2196.4,310.2 2198.6,310.2 2200.7,310.1 2202.9,310.1 2205.0,310.0 2207.1,310.0 2209.3,309.9 2211.4,309.9 2213.6,309.8 2215.7,309.8 2217.9,309.7 2220.0,309.6 2222.1,309.6 2224.3,309.5 2226.4,309.5 2228.6,309.4 2230.7,309.4 2232.9,309.3 2235.0,309.3 2237.1,309.2 2239.3,309.2 2241.4,309.1 2243.6,309.1 2245.7,309.0 2247.9,309.0 2250.0,308.9 2252.1,308.9 2254.3,308.8 2256.4,308.8 2258.6,308.7 2260.7,308.7 2262.9,308.6 2265.0,308.6 2267.1,308.5 2269.3,308.5 2271.4,308.4 2273.6,308.4 2275.7,308.3 2277.9,308.3 2280.0,308.3 2282.1,308.2 2284.3,308.2 2286.4,308.1 2288.6,308.1 2290.7,308.0 2292.9,308.0 2295.0,307.9 2297.1,307.9 2299.3,307.8 2301.4,307.8 2303.6,307.7 2305.7,307.7 2307.9,307.6 2310.0,307.6" fill="none" stroke="#00f" stroke-width="5" stroke-linejoin="round"/>
<path fill="#00f" d="M251.0 333.2h24l-12.0 -22.5zM253.1 333.2h24l-12.0 -22.5zM255.3 333.2h24l-12.0 -22.5zM257.4 333.2h24l-12.0 -22.5zM259.6 333.2h24l-12.0 -22.5zM261.7 333.2h24l-12.0 -22.5zM263.9 333.2h24l-12.0 -22.5zM266.0 333.2h24l-12.0 -22.5zM268.2 333.2h24l-12.0 -22.5zM270.3 333.2h24l-12.0 -22.5zM272.5 333.1h24l-12.0 -22.5zM274.6 333.1h24l-12.0 -22.5zM276.7 333.1h24l-12.0 -22.5zM278.9 333.1h24l-12.0 -22.5zM281.0 333.1h24l-12.0 -22.5zM283.2 333.1h24l-12.0 -22.5zM285.3 333.1h24l-12.0 -22.5zM287.5 333.1h24l-12.0 -22.5zM289.6 333.1h24l-12.0 -22.5zM291.8 333.1h24l-12.0 -22.5zM293.9 333.1h24l-12.0 -22.5zM296.1 333.1h24l-12.0 -22.5zM298.2 333.0h24l-12.0 -22.5zM300.3 333.0h24l-12.0 -22.5zM302.5 333.0h24l-12.0 -22.5zM304.6 333.0h24l-12.0 -22.5zM306.8 333.0h24l-12.0 -22.5zM308.9 333.0h24l-12.0 -22.5zM311.1 333.0h24l-12.0 -22.5zM313.2 333.0h24l-12.0 -22.5zM315.4 333.0h24l-12.0 -22.5zM317.5 333.0h24l-12.0 -22.5zM319.6 333.0h24l-12.0 -22.5zM321.8 333.0h24l-12.0 -22.5zM323.9 333.0h24l-12.0 -22.5zM326.1 333.0h24l-12.0 -22.5zM328.2 332.9h24l-12.0 -22.5zM330.4 332.9h24l-12.0 -22.5zM332.5 332.9h24l-12.0 -22.5zM334.7 332.9h24l-12.0 -22.5zM336.8 332.9h24l-12.0 -22.5zM339.0 332.9h24l-12.0 -22.5zM341.1 332.9h24l-12.0 -22.5zM343.2 332.9h24l-12.0 -22.5zM345.4 332.9h24l-12.0 -22.5zM347.5 332.9h24l-12.0 -22.5zM349.7 332.9h24l-12.0 -22.5zM351.8 332.9h24l-12.0 -22.5zM354.0 332.9h24l-12.0 -22.5zM356.1 332.9h24l-12.0 -22.5zM358.3 332.9h24l-12.0 -22.5zM360.4 332.9h24l-12.0 -22.5zM362.6 332.8h24l-12.0 -22.5zM364.7 332.8h24l-12.0 -22.5zM366.8 332.8h24l-12.0 -22.5zM369.0 332.8h24l-12.0 -22.5zM371.1 332.8h24l-12.0 -22.5zM373.3 332.8h24l-12.0 -22.5zM375.4 332.8h24l-12.0 -22.5zM377.6 332.8h24l-12.0 -22.5zM379.7 332.8h24l-12.0 -22.5zM381.9 332.8h24l-12.0 -22.5zM384.0 332.8h24l-12.0 -22.5zM386.2 332.8h24l-12.0 -22.5zM388.3 332.8h24l-12.0 -22.5zM390.4 332.8h24l-12.0 -22.5zM392.6 332.8h24l-12.0 -22.5zM394.7 332.8h24l-12.0 -22.5zM396.9 332.8h24l-12.0 -22.5zM399.0 332.8h24l-12.0 -22.5zM401.2 332.7h24l-12.0 -22.5zM403.3 332.7h24l-12.0 -22.5zM405.5 332.7h24l-12.0 -22.5zM407.6 332.7h24l-12.0 -22.5zM409.8 332.7h24l-12.0 -22.5zM411.9 332.7h24l-12.0 -22.5zM414.0 332.7h24l-12.0 -22.5zM416.2 332.7h24l-12.0 -22.5zM418.3 332.7h24l-12.0 -22.5zM420.5 332.7h24l-12.0 -22.5zM422.6 332.7h24l-12.0 -22.5zM424.8 332.7h24l-12.0 -22.5zM426.9 332.7h24l-12.0 -22.5zM429.1 332.7h24l-12.0 -22.5zM431.2 332.7h24l-12.0 -22.5zM433.4 332.7h24l-12.0 -22.5zM435.5 332.7h24l-12.0 -22.5zM437.6 332.7h24l-12.0 -22.5zM439.8 332.7h24l-12.0 -22.5zM441.9 332.7h24l-12.0 -22.5zM444.1 332.7h24l-12.0 -22.5zM446.2 332.7h24l-12.0 -22.5zM448.4 332.6h24l-12.0 -22.5zM450.5 332.6h24l-12.0 -22.5zM452.7 332.6h24l-12.0 -22.5zM454.8 332.6h24l-12.0 -22.5zM456.9 332.6h24l-12.0 -22.5zM459.1 332.6h24l-12.0 -22.5zM461.2 332.6h24l-12.0 -22.5zM463.4 332.6h24l-12.0 -22.5zM465.5 332.6h24l-12.0 -22.5zM467.7 332.6h24l-12.0 -22.5zM469.8 332.6h24l-12.0 -22.5zM472.0 332.6h24l-12.0 -22.5zM474.1 332.6h24l-12.0 -22.5zM476.3 332.6h24l-12.0 -22.5zM478.4 332.6h24l-12.0 -22.5zM480.5 332.6h24l-12.0 -22.5zM482.7 332.6h24l-12.0 -22.5zM484.8 332.6h24l-12.0 -22.5zM487.0 332.6h24l-12.0 -22.5zM489.1 332.6h24l-12.0 -22.5zM491.3 332.6h24l-12.0 -22.5zM493.4 332.6h24l-12.0 -22.5zM495.6 332.6h24l-12.0 -22.5zM497.7 332.6h24l-12.0 -22.5zM499.9 332.6h24l-12.0 -22.5zM502.0 332.6h24l-12.0 -22.5zM503.0 520.2h24l-12.0 -22.5zM506.8 522.2h24l-12.0 -22.5zM511.2 522.2h24l-12.0 -22.5zM515.5 522.2h24l-12.0 -22.5zM519.9 522.2h24l-12.0 -22.5zM524.2 522.2h24l-12.0 -22.5zM528.6 522.2h24l-12.0 -22.5zM532.9 522.2h24l-12.0 -22.5zM537.3 522.2h24l-12.0 -22.5zM541.6 522.2h24l-12.0 -22.5zM546.0 522.2h24l-12.0 -22.5zM550.3 522.2h24l-12.0 -22.5zM554.7 522.2h24l-12.0 -22.5zM559.0 522.2h24l-12.0 -22.5zM564.5 522.2h24l-12.0 -22.5zM571.0 332.2h24l-12.0 -22.5zM573.1 332.2h24l-12.0 -22.5zM575.3 332.2h24l-12.0 -22.5zM577.4 332.1h24l-12.0 -22.5zM579.5 332.1h24l-12.0 -22.5zM581.7 332.0h24l-12.0 -22.5zM583.8 332.0h24l-12.0 -22.5zM585.9 331.9h24l-12.0 -22.5zM588.1 331.9h24l-12.0 -22.5zM590.2 331.8h24l-12.0 -22.5zM592.3 331.8h24l-12.0 -22.5zM594.5 331.8h24l-12.0 -22.5zM596.6 331.7h24l-12.0 -22.5zM598.7 331.7h24l-12.0 -22.5zM600.9 331.6h24l-12.0 -22.5zM603.0 331.6h24l-12.0 -22.5zM605.1 331.6h24l-12.0 -22.5zM607.3 331.5h24l-12.0 -22.5zM609.4 331.5h24l-12.0 -22.5zM611.5 331.5h24l-12.0 -22.5zM613.7 331.4h24l-12.0 -22.5zM615.8 331.4h24l-12.0 -22.5zM617.9 331.4h24l-12.0 -22.5zM620.1 331.3h24l-12.0 -22.5zM622.2 331.3h24l-12.0 -22.5zM624.3 331.2h24l-12.0 -22.5zM626.5 331.2h24l-12.0 -22.5zM628.6 331.2h24l-12.0 -22.5zM630.7 331.2h24l-12.0 -22.5zM632.8 331.1h24l-12.0 -22.5zM635.0 331.1h24l-12.0 -22.5zM637.1 331.1h24l-12.0 -22.5zM639.2 331.0h24l-12.0 -22.5zM641.4 331.0h24l-12.0 -22.5zM643.5 331.0h24l-12.0 -22.5zM645.6 330.9h24l-12.0 -22.5zM647.8 330.9h24l-12.0 -22.5zM649.9 330.9h24l-12.0 -22.5zM652.0 330.8h24l-12.0 -22.5zM654.2 330.8h24l-12.0 -22.5zM656.3 330.8h24l-12.0 -22.5zM658.4 330.8h24l-12.0 -22.5zM660.6 330.7h24l-12.0 -22.5zM662.7 330.7h24l-12.0 -22.5zM664.8 330.7h24l-12.0 -22.5zM667.0 330.7h24l-12.0 -22.5zM669.1 330.6h24l-12.0 -22.5zM671.2 330.6h24l-12.0 -22.5zM673.4 330.6h24l-12.0 -22.5zM675.5 330.5h24l-12.0 -22.5zM677.6 330.5h24l-12.0 -22.5zM679.8 330.5h24l-12.0 -22.5zM681.9 330.5h24l-12.0 -22.5zM684.0 330.4h24l-12.0 -22.5zM686.2 330.4h24l-12.0 -22.5zM688.3 330.4h24l-12.0 -22.5zM690.4 330.4h24l-12.0 -22.5zM692.6 330.3h24l-12.0 -22.5zM694.7 330.3h24l-12.0 -22.5zM696.8 330.3h24l-12.0 -22.5zM699.0 330.3h24l-12.0 -22.5zM701.1 330.3h24l-12.0 -22.5zM703.2 330.2h24l-12.0 -22.5zM705.4 330.2h24l-12.0 -22.5zM707.5 330.2h24l-12.0 -22.5zM709.6 330.2h24l-12.0 -22.5zM711.8 330.1h24l-12.0 -22.5zM713.9 330.1h24l-12.0 -22.5zM716.0 330.1h24l-12.0 -22.5zM718.2 330.1h24l-12.0 -22.5zM720.3 330.0h24l-12.0 -22.5zM722.4 330.0h24l-12.0 -22.5zM724.6 330.0h24l-12.0 -22.5zM726.7 330.0h24l-12.0 -22.5zM728.8 330.0h24l-12.0 -22.5zM731.0 329.9h24l-12.0 -22.5zM733.1 329.9h24l-12.0 -22.5zM735.2 329.9h24l-12.0 -22.5zM737.4 329.9h24l-12.0 -22.5zM739.5 329.9h24l-12.0 -22.5zM741.6 329.8h24l-12.0 -22.5zM743.8 329.8h24l-12.0 -22.5zM745.9 329.8h24l-12.0 -22.5zM748.0 329.8h24l-12.0 -22.5zM750.2 329.8h24l-12.0 -22.5zM752.3 329.7h24l-12.0 -22.5zM754.4 329.7h24l-12.0 -22.5zM756.5 329.7h24l-12.0 -22.5zM758.7 329.7h24l-12.0 -22.5zM760.8 329.7h24l-12.0 -22.5zM762.9 329.6h24l-12.0 -22.5zM765.1 329.6h24l-12.0 -22.5zM767.2 329.6h24l-12.0 -22.5zM769.3 329.6h24l-12.0 -22.5zM771.5 329.6h24l-12.0 -22.5zM773.6 329.6h24l-12.0 -22.5zM775.7 329.5h24l-12.0 -22.5zM777.9 329.5h24l-12.0 -22.5zM780.0 329.5h24l-12.0 -22.5zM782.1 329.5h24l-12.0 -22.5zM784.3 329.5h24l-12.0 -22.5zM786.4 329.5h24l-12.0 -22.5zM788.5 329.4h24l-12.0 -22.5zM790.7 329.4h24l-12.0 -22.5zM792.8 329.4h24l-12.0 -22.5zM794.9 329.4h24l-12.0 -22.5zM797.1 329.4h24l-12.0 -22.5zM799.2 329.3h24l-12.0 -22.5zM801.3 329.3h24l-12.0 -22.5zM803.5 329.3h24l-12.0 -22.5zM805.6 329.3h24l-12.0 -22.5zM807.7 329.3h24l-12.0 -22.5zM809.9 329.3h24l-12.0 -22.5zM812.0 329.2h24l-12.0 -22.5zM813.0 608.2h24l-12.0 -22.5zM817.0 612.2h24l-12.0 -22.5zM821.4 612.2h24l-12.0 -22.5zM825.9 612.2h24l-12.0 -22.5zM830.3 612.2h24l-12.0 -22.5zM834.8 612.2h24l-12.0 -22.5zM839.2 612.2h24l-12.0 -22.5zM843.7 612.2h24l-12.0 -22.5zM848.2 612.2h24l-12.0 -22.5zM852.6 612.2h24l-12.0 -22.5zM857.1 612.2h24l-12.0 -22.5zM861.5 612.2h24l-12.0 -22.5zM866.0 612.2h24l-12.0 -22.5zM871.5 612.2h24l-12.0 -22.5zM878.0 331.6h24l-12.0 -22.5zM880.1 331.4h24l-12.0 -22.5zM882.3 331.3h24l-12.0 -22.5zM884.4 331.2h24l-12.0 -22.5zM886.6 331.1h24l-12.0 -22.5zM888.7 331.0h24l-12.0 -22.5zM890.8 330.9h24l-12.0 -22.5zM893.0 330.8h24l-12.0 -22.5zM895.1 330.7h24l-12.0 -22.5zM897.3 330.6h24l-12.0 -22.5zM899.4 330.6h24l-12.0 -22.5zM901.6 330.5h24l-12.0 -22.5zM903.7 330.4h24l-12.0 -22.5zM905.8 330.3h24l-12.0 -22.5zM908.0 330.2h24l-12.0 -22.5zM910.1 330.1h24l-12.0 -22.5zM912.3 330.0h24l-12.0 -22.5zM914.4 329.9h24l-12.0 -22.5zM916.5 329.9h24l-12.0 -22.5zM918.7 329.8h24l-12.0 -22.5zM920.8 329.7h24l-12.0 -22.5zM923.0 329.6h24l-12.0 -22.5zM925.1 329.5h24l-12.0 -22.5zM927.3 329.5h24l-12.0 -22.5zM929.4 329.4h24l-12.0 -22.5zM931.5 329.3h24l-12.0 -22.5zM933.7 329.2h24l-12.0 -22.5zM935.8 329.2h24l-12.0 -22.5zM938.0 329.1h24l-12.0 -22.5zM940.1 329.0h24l-12.0 -22.5zM942.2 329.0h24l-12.0 -22.5zM944.4 328.9h24l-12.0 -22.5zM946.5 328.8h24l-12.0 -22.5zM948.7 328.7h24l-12.0 -22.5zM950.8 328.7h24l-12.0 -22.5zM953.0 328.6h24l-12.0 -22.5zM955.1 328.5h24l-12.0 -22.5zM957.2 328.5h24l-12.0 -22.5zM959.4 328.4h24l-12.0 -22.5zM961.5 328.3h24l-12.0 -22.5zM963.7 328.3h24l-12.0 -22.5zM965.8 328.2h24l-12.0 -22.5zM967.9 328.2h24l-12.0 -22.5zM970.1 328.1h24l-12.0 -22.5zM972.2 328.0h24l-12.0 -22.5zM974.4 328.0h24l-12.0 -22.5zM976.5 327.9h24l-12.0 -22.5zM978.7 327.9h24l-12.0 -22.5zM980.8 327.8h24l-12.0 -22.5zM982.9 327.7h24l-12.0 -22.5zM985.1 327.7h24l-12.0 -22.5zM987.2 327.6h24l-12.0 -22.5zM989.4 327.6h24l-12.0 -22.5zM991.5 327.5h24l-12.0 -22.5zM993.6 327.5h24l-12.0 -22.5zM995.8 327.4h24l-12.0 -22.5zM997.9 327.3h24l-12.0 -22.5zM1000.1 327.3h24l-12.0 -22.5zM1002.2 327.2h24l-12.0 -22.5zM1004.4 327.2h24l-12.0 -22.5zM1006.5 327.1h24l-12.0 -22.5zM1008.6 327.1h24l-12.0 -22.5zM1010.8 327.0h24l-12.0 -22.5zM1012.9 327.0h24l-12.0 -22.5zM1015.1 326.9h24l-12.0 -22.5zM1017.2 326.9h24l-12.0 -22.5zM1019.3 326.8h24l-12.0 -22.5zM1021.5 326.8h24l-12.0 -22.5zM1023.6 326.7h24l-12.0 -22.5zM1025.8 326.7h24l-12.0 -22.5zM1027.9 326.6h24l-12.0 -22.5zM1030.1 326.6h24l-12.0 -22.5zM1032.2 326.5h24l-12.0 -22.5zM1034.3 326.5h24l-12.0 -22.5zM1036.5 326.4h24l-12.0 -22.5zM1038.6 326.4h24l-12.0 -22.5zM1040.8 326.4h24l-12.0 -22.5zM1042.9 326.3h24l-12.0 -22.5zM1045.0 326.3h24l-12.0 -22.5zM1047.2 326.2h24l-12.0 -22.5zM1049.3 326.2h24l-12.0 -22.5zM1051.5 326.1h24l-12.0 -22.5zM1053.6 326.1h24l-12.0 -22.5zM1055.8 326.0h24l-12.0 -22.5zM1057.9 326.0h24l-12.0 -22.5zM1060.0 326.0h24l-12.0 -22.5zM1062.2 325.9h24l-12.0 -22.5zM1064.3 325.9h24l-12.0 -22.5zM1066.5 325.8h24l-12.0 -22.5zM1068.6 325.8h24l-12.0 -22.5zM1070.7 325.7h24l-12.0 -22.5zM1072.9 325.7h24l-12.0 -22.5zM1075.0 325.7h24l-12.0 -22.5zM1077.2 325.6h24l-12.0 -22.5zM1079.3 325.6h24l-12.0 -22.5zM1081.5 325.5h24l-12.0 -22.5zM1083.6 325.5h24l-12.0 -22.5zM1085.7 325.5h24l-12.0 -22.5zM1087.9 325.4h24l-12.0 -22.5zM1090.0 325.4h24l-12.0 -22.5zM1092.2 325.3h24l-12.0 -22.5zM1094.3 325.3h24l-12.0 -22.5zM1096.4 325.3h24l-12.0 -22.5zM1098.6 325.2h24l-12.0 -22.5zM1100.7 325.2h24l-12.0 -22.5zM1102.9 325.1h24l-12.0 -22.5zM1105.0 325.1h24l-12.0 -22.5zM1107.2 325.1h24l-12.0 -22.5zM1109.3 325.0h24l-12.0 -22.5zM1111.4 325.0h24l-12.0 -22.5zM1113.6 325.0h24l-12.0 -22.5zM1115.7 324.9h24l-12.0 -22.5zM1117.9 324.9h24l-12.0 -22.5zM1120.0 324.9h24l-12.0 -22.5zM1121.0 609.2h24l-12.0 -22.5zM1124.7 616.2h24l-12.0 -22.5zM1128.9 616.2h24l-12.0 -22.5zM1133.1 616.2h24l-12.0 -22.5zM1137.3 616.2h24l-12.0 -22.5zM1141.5 616.2h24l-12.0 -22.5zM1145.7 616.2h24l-12.0 -22.5zM1149.8 616.2h24l-12.0 -22.5zM1154.0 616.2h24l-12.0 -22.5zM1158.2 616.2h24l-12.0 -22.5zM1162.4 616.2h24l-12.0 -22.5zM1166.6 616.2h24l-12.0 -22.5zM1170.8 616.2h24l-12.0 -22.5zM1175.0 616.2h24l-12.0 -22.5zM1180.5 616.2h24l-12.0 -22.5zM1187.0 329.9h24l-12.0 -22.5zM1189.1 329.7h24l-12.0 -22.5zM1191.3 329.6h24l-12.0 -22.5zM1193.4 329.4h24l-12.0 -22.5zM1195.5 329.3h24l-12.0 -22.5zM1197.7 329.2h24l-12.0 -22.5zM1199.8 329.1h24l-12.0 -22.5zM1201.9 328.9h24l-12.0 -22.5zM1204.1 328.8h24l-12.0 -22.5zM1206.2 328.7h24l-12.0 -22.5zM1208.3 328.6h24l-12.0 -22.5zM1210.5 328.4h24l-12.0 -22.5zM1212.6 328.3h24l-12.0 -22.5zM1214.7 328.2h24l-12.0 -22.5zM1216.9 328.1h24l-12.0 -22.5zM1219.0 328.0h24l-12.0 -22.5zM1221.1 327.9h24l-12.0 -22.5zM1223.3 327.8h24l-12.0 -22.5zM1225.4 327.7h24l-12.0 -22.5zM1227.5 327.6h24l-12.0 -22.5zM1229.7 327.5h24l-12.0 -22.5zM1231.8 327.3h24l-12.0 -22.5zM1233.9 327.2h24l-12.0 -22.5zM1236.1 327.1h24l-12.0 -22.5zM1238.2 327.0h24l-12.0 -22.5zM1240.3 326.9h24l-12.0 -22.5zM1242.5 326.9h24l-12.0 -22.5zM1244.6 326.8h24l-12.0 -22.5zM1246.7 326.7h24l-12.0 -22.5zM1248.8 326.6h24l-12.0 -22.5zM1251.0 326.5h24l-12.0 -22.5zM1253.1 326.4h24l-12.0 -22.5zM1255.2 326.3h24l-12.0 -22.5zM1257.4 326.2h24l-12.0 -22.5zM1259.5 326.1h24l-12.0 -22.5zM1261.6 326.0h24l-12.0 -22.5zM1263.8 325.9h24l-12.0 -22.5zM1265.9 325.9h24l-12.0 -22.5zM1268.0 325.8h24l-12.0 -22.5zM1270.2 325.7h24l-12.0 -22.5zM1272.3 325.6h24l-12.0 -22.5zM1274.4 325.5h24l-12.0 -22.5zM1276.6 325.4h24l-12.0 -22.5zM1278.7 325.4h24l-12.0 -22.5zM1280.8 325.3h24l-12.0 -22.5zM1283.0 325.2h24l-12.0 -22.5zM1285.1 325.1h24l-12.0 -22.5zM1287.2 325.1h24l-12.0 -22.5zM1289.4 325.0h24l-12.0 -22.5zM1291.5 324.9h24l-12.0 -22.5zM1293.6 324.8h24l-12.0 -22.5zM1295.8 324.8h24l-12.0 -22.5zM1297.9 324.7h24l-12.0 -22.5zM1300.0 324.6h24l-12.0 -22.5zM1302.2 324.5h24l-12.0 -22.5zM1304.3 324.5h24l-12.0 -22.5zM1306.4 324.4h24l-12.0 -22.5zM1308.6 324.3h24l-12.0 -22.5zM1310.7 324.3h24l-12.0 -22.5zM1312.8 324.2h24l-12.0 -22.5zM1315.0 324.1h24l-12.0 -22.5zM1317.1 324.1h24l-12.0 -22.5zM1319.2 324.0h24l-12.0 -22.5zM1321.4 323.9h24l-12.0 -22.5zM1323.5 323.9h24l-12.0 -22.5zM1325.6 323.8h24l-12.0 -22.5zM1327.8 323.7h24l-12.0 -22.5zM1329.9 323.7h24l-12.0 -22.5zM1332.0 323.6h24l-12.0 -22.5zM1334.2 323.5h24l-12.0 -22.5zM1336.3 323.5h24l-12.0 -22.5zM1338.4 323.4h24l-12.0 -22.5zM1340.6 323.3h24l-12.0 -22.5zM1342.7 323.3h24l-12.0 -22.5zM1344.8 323.2h24l-12.0 -22.5zM1347.0 323.2h24l-12.0 -22.5zM1349.1 323.1h24l-12.0 -22.5zM1351.2 323.0h24l-12.0 -22.5zM1353.4 323.0h24l-12.0 -22.5zM1355.5 322.9h24l-12.0 -22.5zM1357.6 322.9h24l-12.0 -22.5zM1359.8 322.8h24l-12.0 -22.5zM1361.9 322.7h24l-12.0 -22.5zM1364.0 322.7h24l-12.0 -22.5zM1366.2 322.6h24l-12.0 -22.5zM1368.3 322.6h24l-12.0 -22.5zM1370.4 322.5h24l-12.0 -22.5zM1372.5 322.5h24l-12.0 -22.5zM1374.7 322.4h24l-12.0 -22.5zM1376.8 322.4h24l-12.0 -22.5zM1378.9 322.3h24l-12.0 -22.5zM1381.1 322.3h24l-12.0 -22.5zM1383.2 322.2h24l-12.0 -22.5zM1385.3 322.1h24l-12.0 -22.5zM1387.5 322.1h24l-12.0 -22.5zM1389.6 322.0h24l-12.0 -22.5zM1391.7 322.0h24l-12.0 -22.5zM1393.9 321.9h24l-12.0 -22.5zM1396.0 321.9h24l-12.0 -22.5zM1398.1 321.8h24l-12.0 -22.5zM1400.3 321.8h24l-12.0 -22.5zM1402.4 321.7h24l-12.0 -22.5zM1404.5 321.7h24l-12.0 -22.5zM1406.7 321.6h24l-12.0 -22.5zM1408.8 321.6h24l-12.0 -22.5zM1410.9 321.5h24l-12.0 -22.5zM1413.1 321.5h24l-12.0 -22.5zM1415.2 321.4h24l-12.0 -22.5zM1417.3 321.4h24l-12.0 -22.5zM1419.5 321.3h24l-12.0 -22.5zM1421.6 321.3h24l-12.0 -22.5zM1423.7 321.2h24l-12.0 -22.5zM1425.9 321.2h24l-12.0 -22.5zM1428.0 321.1h24l-12.0 -22.5zM1429.0 639.2h24l-12.0 -22.5zM1432.7 647.2h24l-12.0 -22.5zM1436.9 647.2h24l-12.0 -22.5zM1441.1 647.2h24l-12.0 -22.5zM1445.3 647.2h24l-12.0 -22.5zM1449.5 647.2h24l-12.0 -22.5zM1453.7 647.2h24l-12.0 -22.5zM1457.8 647.2h24l-12.0 -22.5zM1462.0 647.2h24l-12.0 -22.5zM1466.2 647.2h24l-12.0 -22.5zM1470.4 647.2h24l-12.0 -22.5zM1474.6 647.2h24l-12.0 -22.5zM1478.8 647.2h24l-12.0 -22.5zM1483.0 647.2h24l-12.0 -22.5zM1488.5 617.2h24l-12.0 -22.5zM1495.0 333.1h24l-12.0 -22.5zM1497.1 333.0h24l-12.0 -22.5zM1499.3 332.9h24l-12.0 -22.5zM1501.4 332.8h24l-12.0 -22.5zM1503.6 332.7h24l-12.0 -22.5zM1505.7 332.6h24l-12.0 -22.5zM1507.8 332.5h24l-12.0 -22.5zM1510.0 332.4h24l-12.0 -22.5zM1512.1 332.3h24l-12.0 -22.5zM1514.3 332.2h24l-12.0 -22.5zM1516.4 332.1h24l-12.0 -22.5zM1518.6 332.0h24l-12.0 -22.5zM1520.7 331.9h24l-12.0 -22.5zM1522.8 331.8h24l-12.0 -22.5zM1525.0 331.7h24l-12.0 -22.5zM1527.1 331.6h24l-12.0 -22.5zM1529.3 331.5h24l-12.0 -22.5zM1531.4 331.4h24l-12.0 -22.5zM1533.5 331.3h24l-12.0 -22.5zM1535.7 331.2h24l-12.0 -22.5zM1537.8 331.1h24l-12.0 -22.5zM1540.0 331.0h24l-12.0 -22.5zM1542.1 330.9h24l-12.0 -22.5zM1544.3 330.8h24l-12.0 -22.5zM1546.4 330.8h24l-12.0 -22.5zM1548.5 330.7h24l-12.0 -22.5zM1550.7 330.6h24l-12.0 -22.5zM1552.8 330.5h24l-12.0 -22.5zM1555.0 330.4h24l-12.0 -22.5zM1557.1 330.4h24l-12.0 -22.5zM1559.2 330.3h24l-12.0 -22.5zM1561.4 330.2h24l-12.0 -22.5zM1563.5 330.1h24l-12.0 -22.5zM1565.7 330.1h24l-12.0 -22.5zM1567.8 330.0h24l-12.0 -22.5zM1570.0 329.9h24l-12.0 -22.5zM1572.1 329.8h24l-12.0 -22.5zM1574.2 329.8h24l-12.0 -22.5zM1576.4 329.7h24l-12.0 -22.5zM1578.5 329.6h24l-12.0 -22.5zM1580.7 329.5h24l-12.0 -22.5zM1582.8 329.5h24l-12.0 -22.5zM1584.9 329.4h24l-12.0 -22.5zM1587.1 329.3h24l-12.0 -22.5zM1589.2 329.3h24l-12.0 -22.5zM1591.4 329.2h24l-12.0 -22.5zM1593.5 329.1h24l-12.0 -22.5zM1595.7 329.1h24l-12.0 -22.5zM1597.8 329.0h24l-12.0 -22.5zM1599.9 328.9h24l-12.0 -22.5zM1602.1 328.9h24l-12.0 -22.5zM1604.2 328.8h24l-12.0 -22.5zM1606.4 328.8h24l-12.0 -22.5zM1608.5 328.7h24l-12.0 -22.5zM1610.6 328.6h24l-12.0 -22.5zM1612.8 328.6h24l-12.0 -22.5zM1614.9 328.5h24l-12.0 -22.5zM1617.1 328.5h24l-12.0 -22.5zM1619.2 328.4h24l-12.0 -22.5zM1621.4 328.3h24l-12.0 -22.5zM1623.5 328.3h24l-12.0 -22.5zM1625.6 328.2h24l-12.0 -22.5zM1627.8 328.2h24l-12.0 -22.5zM1629.9 328.1h24l-12.0 -22.5zM1632.1 328.0h24l-12.0 -22.5zM1634.2 328.0h24l-12.0 -22.5zM1636.3 327.9h24l-12.0 -22.5zM1638.5 327.9h24l-12.0 -22.5zM1640.6 327.8h24l-12.0 -22.5zM1642.8 327.8h24l-12.0 -22.5zM1644.9 327.7h24l-12.0 -22.5zM1647.1 327.7h24l-12.0 -22.5zM1649.2 327.6h24l-12.0 -22.5zM1651.3 327.6h24l-12.0 -22.5zM1653.5 327.5h24l-12.0 -22.5zM1655.6 327.5h24l-12.0 -22.5zM1657.8 327.4h24l-12.0 -22.5zM1659.9 327.4h24l-12.0 -22.5zM1662.0 327.3h24l-12.0 -22.5zM1664.2 327.3h24l-12.0 -22.5zM1666.3 327.2h24l-12.0 -22.5zM1668.5 327.2h24l-12.0 -22.5zM1670.6 327.1h24l-12.0 -22.5zM1672.8 327.1h24l-12.0 -22.5zM1674.9 327.0h24l-12.0 -22.5zM1677.0 327.0h24l-12.0 -22.5zM1679.2 326.9h24l-12.0 -22.5zM1681.3 326.9h24l-12.0 -22.5zM1683.5 326.8h24l-12.0 -22.5zM1685.6 326.8h24l-12.0 -22.5zM1687.7 326.7h24l-12.0 -22.5zM1689.9 326.7h24l-12.0 -22.5zM1692.0 326.6h24l-12.0 -22.5zM1694.2 326.6h24l-12.0 -22.5zM1696.3 326.6h24l-12.0 -22.5zM1698.5 326.5h24l-12.0 -22.5zM1700.6 326.5h24l-12.0 -22.5zM1702.7 326.4h24l-12.0 -22.5zM1704.9 326.4h24l-12.0 -22.5zM1707.0 326.3h24l-12.0 -22.5zM1709.2 326.3h24l-12.0 -22.5zM1711.3 326.2h24l-12.0 -22.5zM1713.4 326.2h24l-12.0 -22.5zM1715.6 326.2h24l-12.0 -22.5zM1717.7 326.1h24l-12.0 -22.5zM1719.9 326.1h24l-12.0 -22.5zM1722.0 326.0h24l-12.0 -22.5zM1724.2 326.0h24l-12.0 -22.5zM1726.3 326.0h24l-12.0 -22.5zM1728.4 325.9h24l-12.0 -22.5zM1730.6 325.9h24l-12.0 -22.5zM1732.7 325.8h24l-12.0 -22.5zM1734.9 325.8h24l-12.0 -22.5zM1737.0 325.8h24l-12.0 -22.5zM1738.0 677.2h24l-12.0 -22.5zM1742.0 685.2h24l-12.0 -22.5zM1746.4 685.2h24l-12.0 -22.5zM1750.9 685.2h24l-12.0 -22.5zM1755.3 685.2h24l-12.0 -22.5zM1759.8 685.2h24l-12.0 -22.5zM1764.2 685.2h24l-12.0 -22.5zM1768.7 685.2h24l-12.0 -22.5zM1773.2 685.2h24l-12.0 -22.5zM1777.6 685.2h24l-12.0 -22.5zM1782.1 685.2h24l-12.0 -22.5zM1786.5 685.2h24l-12.0 -22.5zM1791.0 685.2h24l-12.0 -22.5zM1796.5 627.2h24l-12.0 -22.5zM1803.0 336.2h24l-12.0 -22.5zM1805.1 336.1h24l-12.0 -22.5zM1807.3 336.0h24l-12.0 -22.5zM1809.4 335.8h24l-12.0 -22.5zM1811.6 335.7h24l-12.0 -22.5zM1813.7 335.6h24l-12.0 -22.5zM1815.9 335.4h24l-12.0 -22.5zM1818.0 335.3h24l-12.0 -22.5zM1820.1 335.2h24l-12.0 -22.5zM1822.3 335.1h24l-12.0 -22.5zM1824.4 334.9h24l-12.0 -22.5zM1826.6 334.8h24l-12.0 -22.5zM1828.7 334.7h24l-12.0 -22.5zM1830.9 334.6h24l-12.0 -22.5zM1833.0 334.4h24l-12.0 -22.5zM1835.1 334.3h24l-12.0 -22.5zM1837.3 334.2h24l-12.0 -22.5zM1839.4 334.1h24l-12.0 -22.5zM1841.6 334.0h24l-12.0 -22.5zM1843.7 333.8h24l-12.0 -22.5zM1845.9 333.7h24l-12.0 -22.5zM1848.0 333.6h24l-12.0 -22.5zM1850.1 333.5h24l-12.0 -22.5zM1852.3 333.4h24l-12.0 -22.5zM1854.4 333.3h24l-12.0 -22.5zM1856.6 333.1h24l-12.0 -22.5zM1858.7 333.0h24l-12.0 -22.5zM1860.9 332.9h24l-12.0 -22.5zM1863.0 332.8h24l-12.0 -22.5zM1865.1 332.7h24l-12.0 -22.5zM1867.3 332.6h24l-12.0 -22.5zM1869.4 332.5h24l-12.0 -22.5zM1871.6 332.4h24l-12.0 -22.5zM1873.7 332.3h24l-12.0 -22.5zM1875.9 332.2h24l-12.0 -22.5zM1878.0 332.1h24l-12.0 -22.5zM1880.1 332.0h24l-12.0 -22.5zM1882.3 331.8h24l-12.0 -22.5zM1884.4 331.7h24l-12.0 -22.5zM1886.6 331.6h24l-12.0 -22.5zM1888.7 331.5h24l-12.0 -22.5zM1890.9 331.4h24l-12.0 -22.5zM1893.0 331.3h24l-12.0 -22.5zM1895.1 331.2h24l-12.0 -22.5zM1897.3 331.1h24l-12.0 -22.5zM1899.4 331.0h24l-12.0 -22.5zM1901.6 330.9h24l-12.0 -22.5zM1903.7 330.8h24l-12.0 -22.5zM1905.9 330.7h24l-12.0 -22.5zM1908.0 330.6h24l-12.0 -22.5zM1910.1 330.6h24l-12.0 -22.5zM1912.3 330.5h24l-12.0 -22.5zM1914.4 330.4h24l-12.0 -22.5zM1916.6 330.3h24l-12.0 -22.5zM1918.7 330.2h24l-12.0 -22.5zM1920.9 330.1h24l-12.0 -22.5zM1923.0 330.0h24l-12.0 -22.5zM1925.1 329.9h24l-12.0 -22.5zM1927.3 329.8h24l-12.0 -22.5zM1929.4 329.7h24l-12.0 -22.5zM1931.6 329.6h24l-12.0 -22.5zM1933.7 329.5h24l-12.0 -22.5zM1935.9 329.4h24l-12.0 -22.5zM1938.0 329.4h24l-12.0 -22.5zM1940.1 329.3h24l-12.0 -22.5zM1942.3 329.2h24l-12.0 -22.5zM1944.4 329.1h24l-12.0 -22.5zM1946.6 329.0h24l-12.0 -22.5zM1948.7 328.9h24l-12.0 -22.5zM1950.9 328.8h24l-12.0 -22.5zM1953.0 328.7h24l-12.0 -22.5zM1955.1 328.7h24l-12.0 -22.5zM1957.3 328.6h24l-12.0 -22.5zM1959.4 328.5h24l-12.0 -22.5zM1961.6 328.4h24l-12.0 -22.5zM1963.7 328.3h24l-12.0 -22.5zM1965.9 328.2h24l-12.0 -22.5zM1968.0 328.2h24l-12.0 -22.5zM1970.1 328.1h24l-12.0 -22.5zM1972.3 328.0h24l-12.0 -22.5zM1974.4 327.9h24l-12.0 -22.5zM1976.6 327.8h24l-12.0 -22.5zM1978.7 327.8h24l-12.0 -22.5zM1980.9 327.7h24l-12.0 -22.5zM1983.0 327.6h24l-12.0 -22.5zM1985.1 327.5h24l-12.0 -22.5zM1987.3 327.4h24l-12.0 -22.5zM1989.4 327.4h24l-12.0 -22.5zM1991.6 327.3h24l-12.0 -22.5zM1993.7 327.2h24l-12.0 -22.5zM1995.9 327.1h24l-12.0 -22.5zM1998.0 327.0h24l-12.0 -22.5zM2000.1 327.0h24l-12.0 -22.5zM2002.3 326.9h24l-12.0 -22.5zM2004.4 326.8h24l-12.0 -22.5zM2006.6 326.7h24l-12.0 -22.5zM2008.7 326.7h24l-12.0 -22.5zM2010.9 326.6h24l-12.0 -22.5zM2013.0 326.5h24l-12.0 -22.5zM2015.1 326.4h24l-12.0 -22.5zM2017.3 326.4h24l-12.0 -22.5zM2019.4 326.3h24l-12.0 -22.5zM2021.6 326.2h24l-12.0 -22.5zM2023.7 326.2h24l-12.0 -22.5zM2025.9 326.1h24l-12.0 -22.5zM2028.0 326.0h24l-12.0 -22.5zM2030.1 325.9h24l-12.0 -22.5zM2032.3 325.9h24l-12.0 -22.5zM2034.4 325.8h24l-12.0 -22.5zM2036.6 325.7h24l-12.0 -22.5zM2038.7 325.7h24l-12.0 -22.5zM2040.9 325.6h24l-12.0 -22.5zM2043.0 325.5h24l-12.0 -22.5zM2045.1 325.4h24l-12.0 -22.5zM2047.3 325.4h24l-12.0 -22.5zM2049.4 325.3h24l-12.0 -22.5zM2051.6 325.2h24l-12.0 -22.5zM2053.7 325.2h24l-12.0 -22.5zM2055.9 325.1h24l-12.0 -22.5zM2058.0 325.0h24l-12.0 -22.5zM2060.1 325.0h24l-12.0 -22.5zM2062.3 324.9h24l-12.0 -22.5zM2064.4 324.8h24l-12.0 -22.5zM2066.6 324.8h24l-12.0 -22.5zM2068.7 324.7h24l-12.0 -22.5zM2070.9 324.6h24l-12.0 -22.5zM2073.0 324.6h24l-12.0 -22.5zM2075.1 324.5h24l-12.0 -22.5zM2077.3 324.4h24l-12.0 -22.5zM2079.4 324.4h24l-12.0 -22.5zM2081.6 324.3h24l-12.0 -22.5zM2083.7 324.2h24l-12.0 -22.5zM2085.9 324.2h24l-12.0 -22.5zM2088.0 324.1h24l-12.0 -22.5zM2090.1 324.1h24l-12.0 -22.5zM2092.3 324.0h24l-12.0 -22.5zM2094.4 323.9h24l-12.0 -22.5zM2096.6 323.9h24l-12.0 -22.5zM2098.7 323.8h24l-12.0 -22.5zM2100.9 323.7h24l-12.0 -22.5zM2103.0 323.7h24l-12.0 -22.5zM2105.1 323.6h24l-12.0 -22.5zM2107.3 323.6h24l-12.0 -22.5zM2109.4 323.5h24l-12.0 -22.5zM2111.6 323.4h24l-12.0 -22.5zM2113.7 323.4h24l-12.0 -22.5zM2115.9 323.3h24l-12.0 -22.5zM2118.0 323.2h24l-12.0 -22.5zM2120.1 323.2h24l-12.0 -22.5zM2122.3 323.1h24l-12.0 -22.5zM2124.4 323.1h24l-12.0 -22.5zM2126.6 323.0h24l-12.0 -22.5zM2128.7 322.9h24l-12.0 -22.5zM2130.9 322.9h24l-12.0 -22.5zM2133.0 322.8h24l-12.0 -22.5zM2135.1 322.8h24l-12.0 -22.5zM2137.3 322.7h24l-12.0 -22.5zM2139.4 322.7h24l-12.0 -22.5zM2141.6 322.6h24l-12.0 -22.5zM2143.7 322.5h24l-12.0 -22.5zM2145.9 322.5h24l-12.0 -22.5zM2148.0 322.4h24l-12.0 -22.5zM2150.1 322.4h24l-12.0 -22.5zM2152.3 322.3h24l-12.0 -22.5zM2154.4 322.3h24l-12.0 -22.5zM2156.6 322.2h24l-12.0 -22.5zM2158.7 322.1h24l-12.0 -22.5zM2160.9 322.1h24l-12.0 -22.5zM2163.0 322.0h24l-12.0 -22.5zM2165.1 322.0h24l-12.0 -22.5zM2167.3 321.9h24l-12.0 -22.5zM2169.4 321.9h24l-12.0 -22.5zM2171.6 321.8h24l-12.0 -22.5zM2173.7 321.8h24l-12.0 -22.5zM2175.9 321.7h24l-12.0 -22.5zM2178.0 321.6h24l-12.0 -22.5zM2180.1 321.6h24l-12.0 -22.5zM2182.3 321.5h24l-12.0 -22.5zM2184.4 321.5h24l-12.0 -22.5zM2186.6 321.4h24l-12.0 -22.5zM2188.7 321.4h24l-12.0 -22.5zM2190.9 321.3h24l-12.0 -22.5zM2193.0 321.3h24l-12.0 -22.5zM2195.1 321.2h24l-12.0 -22.5zM2197.3 321.2h24l-12.0 -22.5zM2199.4 321.1h24l-12.0 -22.5zM2201.6 321.1h24l-12.0 -22.5zM2203.7 321.0h24l-12.0 -22.5zM2205.9 320.9h24l-12.0 -22.5zM2208.0 320.9h24l-12.0 -22.5zM2210.1 320.8h24l-12.0 -22.5zM2212.3 320.8h24l-12.0 -22.5zM2214.4 320.7h24l-12.0 -22.5zM2216.6 320.7h24l-12.0 -22.5zM2218.7 320.6h24l-12.0 -22.5zM2220.9 320.6h24l-12.0 -22.5zM2223.0 320.5h24l-12.0 -22.5zM2225.1 320.5h24l-12.0 -22.5zM2227.3 320.4h24l-12.0 -22.5zM2229.4 320.4h24l-12.0 -22.5zM2231.6 320.3h24l-12.0 -22.5zM2233.7 320.3h24l-12.0 -22.5zM2235.9 320.2h24l-12.0 -22.5zM2238.0 320.2h24l-12.0 -22.5zM2240.1 320.1h24l-12.0 -22.5zM2242.3 320.1h24l-12.0 -22.5zM2244.4 320.0h24l-12.0 -22.5zM2246.6 320.0h24l-12.0 -22.5zM2248.7 319.9h24l-12.0 -22.5zM2250.9 319.9h24l-12.0 -22.5zM2253.0 319.8h24l-12.0 -22.5zM2255.1 319.8h24l-12.0 -22.5zM2257.3 319.7h24l-12.0 -22.5zM2259.4 319.7h24l-12.0 -22.5zM2261.6 319.6h24l-12.0 -22.5zM2263.7 319.6h24l-12.0 -22.5zM2265.9 319.6h24l-12.0 -22.5zM2268.0 319.5h24l-12.0 -22.5zM2270.1 319.5h24l-12.0 -22.5zM2272.3 319.4h24l-12.0 -22.5zM2274.4 319.4h24l-12.0 -22.5zM2276.6 319.3h24l-12.0 -22.5zM2278.7 319.3h24l-12.0 -22.5zM2280.9 319.2h24l-12.0 -22.5zM2283.0 319.2h24l-12.0 -22.5zM2285.1 319.1h24l-12.0 -22.5zM2287.3 319.1h24l-12.0 -22.5zM2289.4 319.0h24l-12.0 -22.5zM2291.6 319.0h24l-12.0 -22.5zM2293.7 318.9h24l-12.0 -22.5zM2295.9 318.9h24l-12.0 -22.5zM2298.0 318.9h24l-12.0 -22.5z"/>
</g>
<g id="tand">
<polyline points="257.5,1096.5 263.0,1095.3 265.1,1095.6 267.3,1096.0 269.4,1096.3 271.6,1096.6 273.7,1096.9 275.9,1097.1 278.0,1097.4 280.2,1097.7 282.3,1097.9 284.5,1098.1 286.6,1098.3 288.7,1098.6 290.9,1098.8 293.0,1099.0 295.2,1099.2 297.3,1099.3 299.5,1099.5 301.6,1099.7 303.8,1099.9 305.9,1100.0 308.1,1100.2 310.2,1100.3 312.3,1100.5 314.5,1100.7 316.6,1100.8 318.8,1100.9 320.9,1101.1 323.1,1101.2 325.2,1101.3 327.4,1101.5 329.5,1101.6 331.6,1101.7 333.8,1101.9 335.9,1102.0 338.1,1102.1 340.2,1102.2 342.4,1102.3 344.5,1102.4 346.7,1102.5 348.8,1102.6 351.0,1102.7 353.1,1102.9 355.2,1103.0 357.4,1103.1 359.5,1103.2 361.7,1103.2 363.8,1103.3 366.0,1103.4 368.1,1103.5 370.3,1103.6 372.4,1103.7 374.6,1103.8 376.7,1103.9 378.8,1104.0 381.0,1104.1 383.1,1104.1 385.3,1104.2 387.4,1104.3 389.6,1104.4 391.7,1104.5 393.9,1104.5 396.0,1104.6 398.2,1104.7 400.3,1104.8 402.4,1104.8 404.6,1104.9 406.7,1105.0 408.9,1105.1 411.0,1105.1 413.2,1105.2 415.3,1105.3 417.5,1105.3 419.6,1105.4 421.8,1105.5 423.9,1105.5 426.0,1105.6 428.2,1105.7 430.3,1105.7 432.5,1105.8 434.6,1105.9 436.8,1105.9 438.9,1106.0 441.1,1106.0 443.2,1106.1 445.4,1106.2 447.5,1106.2 449.6,1106.3 451.8,1106.3 453.9,1106.4 456.1,1106.4 458.2,1106.5 460.4,1106.6 462.5,1106.6 464.7,1106.7 466.8,1106.7 468.9,1106.8 471.1,1106.8 473.2,1106.9 475.4,1106.9 477.5,1107.0 479.7,1107.0 481.8,1107.1 484.0,1107.1 486.1,1107.2 488.3,1107.2 490.4,1107.3 492.5,1107.3 494.7,1107.4 496.8,1107.4 499.0,1107.5 501.1,1107.5 503.3,1107.6 505.4,1107.6 507.6,1107.7 509.7,1107.7 511.9,1107.8 514.0,1107.8 516.0,984.0 523.2,967.4 527.5,967.4 531.9,967.4 536.2,967.4 540.6,967.4 544.9,967.4 549.3,967.4 553.6,967.4 558.0,967.4 562.3,967.4 566.7,967.4 571.0,967.4 578.5,1000.6 583.0,1092.8 585.1,1093.1 587.3,1093.4 589.4,1093.7 591.5,1094.0 593.7,1094.2 595.8,1094.5 597.9,1094.7 600.1,1095.0 602.2,1095.2 604.3,1095.4 606.5,1095.7 608.6,1095.9 610.7,1096.1 612.9,1096.3 615.0,1096.5 617.1,1096.7 619.3,1096.9 621.4,1097.1 623.5,1097.3 625.7,1097.5 627.8,1097.6 629.9,1097.8 632.1,1098.0 634.2,1098.1 636.3,1098.3 638.5,1098.5 640.6,1098.6 642.7,1098.8 644.8,1098.9 647.0,1099.1 649.1,1099.2 651.2,1099.4 653.4,1099.5 655.5,1099.7 657.6,1099.8 659.8,1099.9 661.9,1100.1 664.0,1100.2 666.2,1100.3 668.3,1100.5 670.4,1100.6 672.6,1100.7 674.7,1100.8 676.8,1101.0 679.0,1101.1 681.1,1101.2 683.2,1101.3 685.4,1101.4 687.5,1101.6 689.6,1101.7 691.8,1101.8 693.9,1101.9 696.0,1102.0 698.2,1102.1 700.3,1102.2 702.4,1102.3 704.6,1102.4 706.7,1102.5 708.8,1102.6 711.0,1102.7 713.1,1102.8 715.2,1102.9 717.4,1103.0 719.5,1103.1 721.6,1103.2 723.8,1103.3 725.9,1103.4 728.0,1103.5 730.2,1103.6 732.3,1103.6 734.4,1103.7 736.6,1103.8 738.7,1103.9 740.8,1104.0 743.0,1104.1 745.1,1104.2 747.2,1104.2 749.4,1104.3 751.5,1104.4 753.6,1104.5 755.8,1104.6 757.9,1104.6 760.0,1104.7 762.2,1104.8 764.3,1104.9 766.4,1105.0 768.5,1105.0 770.7,1105.1 772.8,1105.2 774.9,1105.3 777.1,1105.3 779.2,1105.4 781.3,1105.5 783.5,1105.5 785.6,1105.6 787.7,1105.7 789.9,1105.8 792.0,1105.8 794.1,1105.9 796.3,1106.0 798.4,1106.0 800.5,1106.1 802.7,1106.2 804.8,1106.2 806.9,1106.3 809.1,1106.4 811.2,1106.4 813.3,1106.5 815.5,1106.6 817.6,1106.6 819.7,1106.7 821.9,1106.7 824.0,1106.8 826.0,964.0 833.4,947.0 837.9,947.0 842.3,947.0 846.8,947.0 851.2,947.0 855.7,947.0 860.2,947.0 864.6,947.0 869.1,947.0 873.5,947.0 878.0,947.0 885.5,1001.0 890.0,1091.0 892.1,1091.4 894.3,1091.7 896.4,1092.0 898.6,1092.4 900.7,1092.7 902.8,1093.0 905.0,1093.3 907.1,1093.6 909.3,1093.9 911.4,1094.2 913.6,1094.5 915.7,1094.8 917.8,1095.0 920.0,1095.3 922.1,1095.5 924.3,1095.8 926.4,1096.1 928.5,1096.3 930.7,1096.5 932.8,1096.8 935.0,1097.0 937.1,1097.2 939.3,1097.5 941.4,1097.7 943.5,1097.9 945.7,1098.1 947.8,1098.3 950.0,1098.5 952.1,1098.7 954.2,1098.9 956.4,1099.1 958.5,1099.3 960.7,1099.5 962.8,1099.7 965.0,1099.9 967.1,1100.1 969.2,1100.3 971.4,1100.5 973.5,1100.6 975.7,1100.8 977.8,1101.0 979.9,1101.2 982.1,1101.3 984.2,1101.5 986.4,1101.7 988.5,1101.8 990.7,1102.0 992.8,1102.1 994.9,1102.3 997.1,1102.5 999.2,1102.6 1001.4,1102.8 1003.5,1102.9 1005.6,1103.1 1007.8,1103.2 1009.9,1103.4 1012.1,1103.5 1014.2,1103.6 1016.4,1103.8 1018.5,1103.9 1020.6,1104.1 1022.8,1104.2 1024.9,1104.3 1027.1,1104.5 1029.2,1104.6 1031.3,1104.7 1033.5,1104.9 1035.6,1105.0 1037.8,1105.1 1039.9,1105.2 1042.1,1105.4 1044.2,1105.5 1046.3,1105.6 1048.5,1105.7 1050.6,1105.9 1052.8,1106.0 1054.9,1106.1 1057.0,1106.2 1059.2,1106.3 1061.3,1106.4 1063.5,1106.6 1065.6,1106.7 1067.8,1106.8 1069.9,1106.9 1072.0,1107.0 1074.2,1107.1 1076.3,1107.2 1078.5,1107.3 1080.6,1107.4 1082.7,1107.6 1084.9,1107.7 1087.0,1107.8 1089.2,1107.9 1091.3,1108.0 1093.5,1108.1 1095.6,1108.2 1097.7,1108.3 1099.9,1108.4 1102.0,1108.5 1104.2,1108.6 1106.3,1108.7 1108.4,1108.8 1110.6,1108.9 1112.7,1109.0 1114.9,1109.1 1117.0,1109.2 1119.2,1109.2 1121.3,1109.3 1123.4,1109.4 1125.6,1109.5 1127.7,1109.6 1129.9,1109.7 1132.0,1109.8 1134.0,926.0 1140.9,909.0 1145.1,909.0 1149.3,909.0 1153.5,909.0 1157.7,909.0 1161.8,909.0 1166.0,909.0 1170.2,909.0 1174.4,909.0 1178.6,909.0 1182.8,909.0 1187.0,909.0 1194.5,998.0 1199.0,1092.4 1201.1,1092.8 1203.3,1093.2 1205.4,1093.6 1207.5,1094.0 1209.7,1094.4 1211.8,1094.8 1213.9,1095.1 1216.1,1095.5 1218.2,1095.8 1220.3,1096.1 1222.5,1096.5 1224.6,1096.8 1226.7,1097.1 1228.9,1097.4 1231.0,1097.7 1233.1,1097.9 1235.3,1098.2 1237.4,1098.5 1239.5,1098.8 1241.7,1099.0 1243.8,1099.3 1245.9,1099.5 1248.1,1099.8 1250.2,1100.0 1252.3,1100.2 1254.5,1100.5 1256.6,1100.7 1258.7,1100.9 1260.8,1101.1 1263.0,1101.3 1265.1,1101.6 1267.2,1101.8 1269.4,1102.0 1271.5,1102.2 1273.6,1102.4 1275.8,1102.6 1277.9,1102.8 1280.0,1102.9 1282.2,1103.1 1284.3,1103.3 1286.4,1103.5 1288.6,1103.7 1290.7,1103.8 1292.8,1104.0 1295.0,1104.2 1297.1,1104.3 1299.2,1104.5 1301.4,1104.7 1303.5,1104.8 1305.6,1105.0 1307.8,1105.2 1309.9,1105.3 1312.0,1105.5 1314.2,1105.6 1316.3,1105.8 1318.4,1105.9 1320.6,1106.1 1322.7,1106.2 1324.8,1106.3 1327.0,1106.5 1329.1,1106.6 1331.2,1106.8 1333.4,1106.9 1335.5,1107.0 1337.6,1107.2 1339.8,1107.3 1341.9,1107.4 1344.0,1107.6 1346.2,1107.7 1348.3,1107.8 1350.4,1107.9 1352.6,1108.1 1354.7,1108.2 1356.8,1108.3 1359.0,1108.4 1361.1,1108.5 1363.2,1108.7 1365.4,1108.8 1367.5,1108.9 1369.6,1109.0 1371.8,1109.1 1373.9,1109.2 1376.0,1109.3 1378.2,1109.5 1380.3,1109.6 1382.4,1109.7 1384.5,1109.8 1386.7,1109.9 1388.8,1110.0 1390.9,1110.1 1393.1,1110.2 1395.2,1110.3 1397.3,1110.4 1399.5,1110.5 1401.6,1110.6 1403.7,1110.7 1405.9,1110.8 1408.0,1110.9 1410.1,1111.0 1412.3,1111.1 1414.4,1111.2 1416.5,1111.3 1418.7,1111.4 1420.8,1111.5 1422.9,1111.6 1425.1,1111.7 1427.2,1111.8 1429.3,1111.9 1431.5,1111.9 1433.6,1112.0 1435.7,1112.1 1437.9,1112.2 1440.0,1112.3 1442.0,856.0 1448.9,836.0 1453.1,836.0 1457.3,836.0 1461.5,836.0 1465.7,836.0 1469.8,836.0 1474.0,836.0 1478.2,836.0 1482.4,836.0 1486.6,836.0 1490.8,836.0 1495.0,836.0 1502.5,990.0 1507.0,1089.5 1509.1,1089.9 1511.3,1090.2 1513.4,1090.5 1515.6,1090.9 1517.7,1091.2 1519.8,1091.5 1522.0,1091.8 1524.1,1092.1 1526.3,1092.3 1528.4,1092.6 1530.6,1092.9 1532.7,1093.1 1534.8,1093.4 1537.0,1093.6 1539.1,1093.9 1541.3,1094.1 1543.4,1094.3 1545.5,1094.6 1547.7,1094.8 1549.8,1095.0 1552.0,1095.2 1554.1,1095.4 1556.3,1095.6 1558.4,1095.8 1560.5,1096.0 1562.7,1096.2 1564.8,1096.4 1567.0,1096.6 1569.1,1096.7 1571.2,1096.9 1573.4,1097.1 1575.5,1097.3 1577.7,1097.4 1579.8,1097.6 1582.0,1097.8 1584.1,1097.9 1586.2,1098.1 1588.4,1098.2 1590.5,1098.4 1592.7,1098.5 1594.8,1098.7 1596.9,1098.8 1599.1,1099.0 1601.2,1099.1 1603.4,1099.3 1605.5,1099.4 1607.7,1099.5 1609.8,1099.7 1611.9,1099.8 1614.1,1099.9 1616.2,1100.1 1618.4,1100.2 1620.5,1100.3 1622.6,1100.5 1624.8,1100.6 1626.9,1100.7 1629.1,1100.8 1631.2,1100.9 1633.4,1101.1 1635.5,1101.2 1637.6,1101.3 1639.8,1101.4 1641.9,1101.5 1644.1,1101.6 1646.2,1101.7 1648.3,1101.9 1650.5,1102.0 1652.6,1102.1 1654.8,1102.2 1656.9,1102.3 1659.1,1102.4 1661.2,1102.5 1663.3,1102.6 1665.5,1102.7 1667.6,1102.8 1669.8,1102.9 1671.9,1103.0 1674.0,1103.1 1676.2,1103.2 1678.3,1103.3 1680.5,1103.4 1682.6,1103.5 1684.8,1103.6 1686.9,1103.6 1689.0,1103.7 1691.2,1103.8 1693.3,1103.9 1695.5,1104.0 1697.6,1104.1 1699.7,1104.2 1701.9,1104.3 1704.0,1104.3 1706.2,1104.4 1708.3,1104.5 1710.5,1104.6 1712.6,1104.7 1714.7,1104.8 1716.9,1104.8 1719.0,1104.9 1721.2,1105.0 1723.3,1105.1 1725.4,1105.2 1727.6,1105.2 1729.7,1105.3 1731.9,1105.4 1734.0,1105.5 1736.2,1105.6 1738.3,1105.6 1740.4,1105.7 1742.6,1105.8 1744.7,1105.9 1746.9,1105.9 1749.0,1106.0 1751.0,790.0 1758.4,770.0 1762.9,770.0 1767.3,770.0 1771.8,770.0 1776.2,770.0 1780.7,770.0 1785.2,770.0 1789.6,770.0 1794.1,770.0 1798.5,770.0 1803.0,770.0 1810.5,978.0 1815.0,1080.0 1817.1,1080.6 1819.3,1081.1 1821.4,1081.7 1823.6,1082.2 1825.7,1082.8 1827.9,1083.3 1830.0,1083.9 1832.1,1084.4 1834.3,1085.0 1836.4,1085.5 1838.6,1086.1 1840.7,1086.6 1842.9,1087.2 1845.0,1087.7 1847.1,1088.3 1849.3,1088.8 1851.4,1089.2 1853.6,1089.6 1855.7,1089.9 1857.9,1090.3 1860.0,1090.6 1862.1,1090.9 1864.3,1091.3 1866.4,1091.6 1868.6,1092.0 1870.7,1092.3 1872.9,1092.7 1875.0,1093.0 1877.1,1093.3 1879.3,1093.7 1881.4,1093.9 1883.6,1094.0 1885.7,1094.1 1887.9,1094.3 1890.0,1094.4 1892.1,1094.5 1894.3,1094.6 1896.4,1094.8 1898.6,1094.9 1900.7,1095.0 1902.9,1095.1 1905.0,1095.3 1907.1,1095.4 1909.3,1095.5 1911.4,1095.6 1913.6,1095.8 1915.7,1095.9 1917.9,1096.0 1920.0,1096.2 1922.1,1096.3 1924.3,1096.4 1926.4,1096.5 1928.6,1096.7 1930.7,1096.8 1932.9,1096.9 1935.0,1097.0 1937.1,1097.2 1939.3,1097.3 1941.4,1097.4 1943.6,1097.5 1945.7,1097.7 1947.9,1097.8 1950.0,1097.9 1952.1,1098.0 1954.3,1098.2 1956.4,1098.3 1958.6,1098.4 1960.7,1098.5 1962.9,1098.6 1965.0,1098.7 1967.1,1098.8 1969.3,1098.9 1971.4,1099.0 1973.6,1099.1 1975.7,1099.2 1977.9,1099.3 1980.0,1099.4 1982.1,1099.5 1984.3,1099.6 1986.4,1099.6 1988.6,1099.7 1990.7,1099.8 1992.9,1099.9 1995.0,1100.0 1997.1,1100.1 1999.3,1100.2 2001.4,1100.3 2003.6,1100.4 2005.7,1100.5 2007.9,1100.6 2010.0,1100.7 2012.1,1100.8 2014.3,1100.9 2016.4,1101.0 2018.6,1101.0 2020.7,1101.1 2022.9,1101.2 2025.0,1101.3 2027.1,1101.4 2029.3,1101.5 2031.4,1101.6 2033.6,1101.7 2035.7,1101.8 2037.9,1101.9 2040.0,1102.0 2042.1,1102.1 2044.3,1102.2 2046.4,1102.3 2048.6,1102.3 2050.7,1102.4 2052.9,1102.5 2055.0,1102.6 2057.1,1102.7 2059.3,1102.8 2061.4,1102.9 2063.6,1103.0 2065.7,1103.1 2067.9,1103.2 2070.0,1103.3 2072.1,1103.4 2074.3,1103.5 2076.4,1103.6 2078.6,1103.7 2080.7,1103.7 2082.9,1103.8 2085.0,1103.9 2087.1,1104.0 2089.3,1104.1 2091.4,1104.2 2093.6,1104.3 2095.7,1104.4 2097.9,1104.5 2100.0,1104.6 2102.1,1104.7 2104.3,1104.8 2106.4,1104.9 2108.6,1105.0 2110.7,1105.1 2112.9,1105.1 2115.0,1105.2 2117.1,1105.3 2119.3,1105.4 2121.4,1105.5 2123.6,1105.6 2125.7,1105.7 2127.9,1105.8 2130.0,1105.9 2132.1,1106.0 2134.3,1106.1 2136.4,1106.2 2138.6,1106.3 2140.7,1106.4 2142.9,1106.5 2145.0,1106.5 2147.1,1106.6 2149.3,1106.7 2151.4,1106.8 2153.6,1106.9 2155.7,1107.0 2157.9,1107.1 2160.0,1107.2 2162.1,1107.3 2164.3,1107.4 2166.4,1107.5 2168.6,1107.6 2170.7,1107.7 2172.9,1107.8 2175.0,1107.9 2177.1,1107.9 2179.3,1108.0 2181.4,1108.1 2183.6,1108.2 2185.7,1108.3 2187.9,1108.4 2190.0,1108.5 2192.1,1108.6 2194.3,1108.7 2196.4,1108.8 2198.6,1108.9 2200.7,1109.0 2202.9,1109.1 2205.0,1109.2 2207.1,1109.3 2209.3,1109.3 2211.4,1109.4 2213.6,1109.5 2215.7,1109.6 2217.9,1109.7 2220.0,1109.8 2222.1,1109.9 2224.3,1110.0 2226.4,1110.1 2228.6,1110.2 2230.7,1110.3 2232.9,1110.4 2235.0,1110.5 2237.1,1110.6 2239.3,1110.7 2241.4,1110.8 2243.6,1110.9 2245.7,1111.0 2247.9,1111.1 2250.0,1111.2 2252.1,1111.3 2254.3,1111.4 2256.4,1111.5 2258.6,1111.6 2260.7,1111.7 2262.9,1111.8 2265.0,1111.9 2267.1,1112.0 2269.3,1112.1 2271.4,1112.2 2273.6,1112.3 2275.7,1112.4 2277.9,1112.5 2280.0,1112.6 2282.1,1112.7 2284.3,1112.8 2286.4,1112.9 2288.6,1113.0 2290.7,1113.1 2292.9,1113.2 2295.0,1113.3 2297.1,1113.4 2299.3,1113.5 2301.4,1113.6 2303.6,1113.7 2305.7,1113.8 2307.9,1113.9 2310.0,1114.0" fill="none" stroke="#000" stroke-width="6.3" stroke-linejoin="round"/>
<path fill="#000" d="M253.5 1092.5h8v8h-8zM259.0 1091.3h8v8h-8zM261.1 1091.6h8v8h-8zM263.3 1092.0h8v8h-8zM265.4 1092.3h8v8h-8zM267.6 1092.6h8v8h-8zM269.7 1092.9h8v8h-8zM271.9 1093.1h8v8h-8zM274.0 1093.4h8v8h-8zM276.2 1093.7h8v8h-8zM278.3 1093.9h8v8h-8zM280.5 1094.1h8v8h-8zM282.6 1094.3h8v8h-8zM284.7 1094.6h8v8h-8zM286.9 1094.8h8v8h-8zM289.0 1095.0h8v8h-8zM291.2 1095.2h8v8h-8zM293.3 1095.3h8v8h-8zM295.5 1095.5h8v8h-8zM297.6 1095.7h8v8h-8zM299.8 1095.9h8v8h-8zM301.9 1096.0h8v8h-8zM304.1 1096.2h8v8h-8zM306.2 1096.3h8v8h-8zM308.3 1096.5h8v8h-8zM310.5 1096.7h8v8h-8zM312.6 1096.8h8v8h-8zM314.8 1096.9h8v8h-8zM316.9 1097.1h8v8h-8zM319.1 1097.2h8v8h-8zM321.2 1097.3h8v8h-8zM323.4 1097.5h8v8h-8zM325.5 1097.6h8v8h-8zM327.6 1097.7h8v8h-8zM329.8 1097.9h8v8h-8zM331.9 1098.0h8v8h-8zM334.1 1098.1h8v8h-8zM336.2 1098.2h8v8h-8zM338.4 1098.3h8v8h-8zM340.5 1098.4h8v8h-8zM342.7 1098.5h8v8h-8zM344.8 1098.6h8v8h-8zM347.0 1098.7h8v8h-8zM349.1 1098.9h8v8h-8zM351.2 1099.0h8v8h-8zM353.4 1099.1h8v8h-8zM355.5 1099.2h8v8h-8zM357.7 1099.2h8v8h-8zM359.8 1099.3h8v8h-8zM362.0 1099.4h8v8h-8zM364.1 1099.5h8v8h-8zM366.3 1099.6h8v8h-8zM368.4 1099.7h8v8h-8zM370.6 1099.8h8v8h-8zM372.7 1099.9h8v8h-8zM374.8 1100.0h8v8h-8zM377.0 1100.1h8v8h-8zM379.1 1100.1h8v8h-8zM381.3 1100.2h8v8h-8zM383.4 1100.3h8v8h-8zM385.6 1100.4h8v8h-8zM387.7 1100.5h8v8h-8zM389.9 1100.5h8v8h-8zM392.0 1100.6h8v8h-8zM394.2 1100.7h8v8h-8zM396.3 1100.8h8v8h-8zM398.4 1100.8h8v8h-8zM400.6 1100.9h8v8h-8zM402.7 1101.0h8v8h-8zM404.9 1101.1h8v8h-8zM407.0 1101.1h8v8h-8zM409.2 1101.2h8v8h-8zM411.3 1101.3h8v8h-8zM413.5 1101.3h8v8h-8zM415.6 1101.4h8v8h-8zM417.8 1101.5h8v8h-8zM419.9 1101.5h8v8h-8zM422.0 1101.6h8v8h-8zM424.2 1101.7h8v8h-8zM426.3 1101.7h8v8h-8zM428.5 1101.8h8v8h-8zM430.6 1101.9h8v8h-8zM432.8 1101.9h8v8h-8zM434.9 1102.0h8v8h-8zM437.1 1102.0h8v8h-8zM439.2 1102.1h8v8h-8zM441.4 1102.2h8v8h-8zM443.5 1102.2h8v8h-8zM445.6 1102.3h8v8h-8zM447.8 1102.3h8v8h-8zM449.9 1102.4h8v8h-8zM452.1 1102.4h8v8h-8zM454.2 1102.5h8v8h-8zM456.4 1102.6h8v8h-8zM458.5 1102.6h8v8h-8zM460.7 1102.7h8v8h-8zM462.8 1102.7h8v8h-8zM464.9 1102.8h8v8h-8zM467.1 1102.8h8v8h-8zM469.2 1102.9h8v8h-8zM471.4 1102.9h8v8h-8zM473.5 1103.0h8v8h-8zM475.7 1103.0h8v8h-8zM477.8 1103.1h8v8h-8zM480.0 1103.1h8v8h-8zM482.1 1103.2h8v8h-8zM484.3 1103.2h8v8h-8zM486.4 1103.3h8v8h-8zM488.5 1103.3h8v8h-8zM490.7 1103.4h8v8h-8zM492.8 1103.4h8v8h-8zM495.0 1103.5h8v8h-8zM497.1 1103.5h8v8h-8zM499.3 1103.6h8v8h-8zM501.4 1103.6h8v8h-8zM503.6 1103.7h8v8h-8zM505.7 1103.7h8v8h-8zM507.9 1103.8h8v8h-8zM510.0 1103.8h8v8h-8zM512.0 980.0h8v8h-8zM519.2 963.4h8v8h-8zM523.5 963.4h8v8h-8zM527.9 963.4h8v8h-8zM532.2 963.4h8v8h-8zM536.6 963.4h8v8h-8zM540.9 963.4h8v8h-8zM545.3 963.4h8v8h-8zM549.6 963.4h8v8h-8zM554.0 963.4h8v8h-8zM558.3 963.4h8v8h-8zM562.7 963.4h8v8h-8zM567.0 963.4h8v8h-8zM574.5 996.6h8v8h-8zM579.0 1088.8h8v8h-8zM581.1 1089.1h8v8h-8zM583.3 1089.4h8v8h-8zM585.4 1089.7h8v8h-8zM587.5 1090.0h8v8h-8zM589.7 1090.2h8v8h-8zM591.8 1090.5h8v8h-8zM593.9 1090.7h8v8h-8zM596.1 1091.0h8v8h-8zM598.2 1091.2h8v8h-8zM600.3 1091.4h8v8h-8zM602.5 1091.7h8v8h-8zM604.6 1091.9h8v8h-8zM606.7 1092.1h8v8h-8zM608.9 1092.3h8v8h-8zM611.0 1092.5h8v8h-8zM613.1 1092.7h8v8h-8zM615.3 1092.9h8v8h-8zM617.4 1093.1h8v8h-8zM619.5 1093.3h8v8h-8zM621.7 1093.5h8v8h-8zM623.8 1093.6h8v8h-8zM625.9 1093.8h8v8h-8zM628.1 1094.0h8v8h-8zM630.2 1094.1h8v8h-8zM632.3 1094.3h8v8h-8zM634.5 1094.5h8v8h-8zM636.6 1094.6h8v8h-8zM638.7 1094.8h8v8h-8zM640.8 1094.9h8v8h-8zM643.0 1095.1h8v8h-8zM645.1 1095.2h8v8h-8zM647.2 1095.4h8v8h-8zM649.4 1095.5h8v8h-8zM651.5 1095.7h8v8h-8zM653.6 1095.8h8v8h-8zM655.8 1095.9h8v8h-8zM657.9 1096.1h8v8h-8zM660.0 1096.2h8v8h-8zM662.2 1096.3h8v8h-8zM664.3 1096.5h8v8h-8zM666.4 1096.6h8v8h-8zM668.6 1096.7h8v8h-8zM670.7 1096.8h8v8h-8zM672.8 1097.0h8v8h-8zM675.0 1097.1h8v8h-8zM677.1 1097.2h8v8h-8zM679.2 1097.3h8v8h-8zM681.4 1097.4h8v8h-8zM683.5 1097.6h8v8h-8zM685.6 1097.7h8v8h-8zM687.8 1097.8h8v8h-8zM689.9 1097.9h8v8h-8zM692.0 1098.0h8v8h-8zM694.2 1098.1h8v8h-8zM696.3 1098.2h8v8h-8zM698.4 1098.3h8v8h-8zM700.6 1098.4h8v8h-8zM702.7 1098.5h8v8h-8zM704.8 1098.6h8v8h-8zM707.0 1098.7h8v8h-8zM709.1 1098.8h8v8h-8zM711.2 1098.9h8v8h-8zM713.4 1099.0h8v8h-8zM715.5 1099.1h8v8h-8zM717.6 1099.2h8v8h-8zM719.8 1099.3h8v8h-8zM721.9 1099.4h8v8h-8zM724.0 1099.5h8v8h-8zM726.2 1099.6h8v8h-8zM728.3 1099.6h8v8h-8zM730.4 1099.7h8v8h-8zM732.6 1099.8h8v8h-8zM734.7 1099.9h8v8h-8zM736.8 1100.0h8v8h-8zM739.0 1100.1h8v8h-8zM741.1 1100.2h8v8h-8zM743.2 1100.2h8v8h-8zM745.4 1100.3h8v8h-8zM747.5 1100.4h8v8h-8zM749.6 1100.5h8v8h-8zM751.8 1100.6h8v8h-8zM753.9 1100.6h8v8h-8zM756.0 1100.7h8v8h-8zM758.2 1100.8h8v8h-8zM760.3 1100.9h8v8h-8zM762.4 1101.0h8v8h-8zM764.5 1101.0h8v8h-8zM766.7 1101.1h8v8h-8zM768.8 1101.2h8v8h-8zM770.9 1101.3h8v8h-8zM773.1 1101.3h8v8h-8zM775.2 1101.4h8v8h-8zM777.3 1101.5h8v8h-8zM779.5 1101.5h8v8h-8zM781.6 1101.6h8v8h-8zM783.7 1101.7h8v8h-8zM785.9 1101.8h8v8h-8zM788.0 1101.8h8v8h-8zM790.1 1101.9h8v8h-8zM792.3 1102.0h8v8h-8zM794.4 1102.0h8v8h-8zM796.5 1102.1h8v8h-8zM798.7 1102.2h8v8h-8zM800.8 1102.2h8v8h-8zM802.9 1102.3h8v8h-8zM805.1 1102.4h8v8h-8zM807.2 1102.4h8v8h-8zM809.3 1102.5h8v8h-8zM811.5 1102.6h8v8h-8zM813.6 1102.6h8v8h-8zM815.7 1102.7h8v8h-8zM817.9 1102.7h8v8h-8zM820.0 1102.8h8v8h-8zM822.0 960.0h8v8h-8zM829.4 943.0h8v8h-8zM833.9 943.0h8v8h-8zM838.3 943.0h8v8h-8zM842.8 943.0h8v8h-8zM847.2 943.0h8v8h-8zM851.7 943.0h8v8h-8zM856.2 943.0h8v8h-8zM860.6 943.0h8v8h-8zM865.1 943.0h8v8h-8zM869.5 943.0h8v8h-8zM874.0 943.0h8v8h-8zM881.5 997.0h8v8h-8zM886.0 1087.0h8v8h-8zM888.1 1087.4h8v8h-8zM890.3 1087.7h8v8h-8zM892.4 1088.0h8v8h-8zM894.6 1088.4h8v8h-8zM896.7 1088.7h8v8h-8zM898.8 1089.0h8v8h-8zM901.0 1089.3h8v8h-8zM903.1 1089.6h8v8h-8zM905.3 1089.9h8v8h-8zM907.4 1090.2h8v8h-8zM909.6 1090.5h8v8h-8zM911.7 1090.8h8v8h-8zM913.8 1091.0h8v8h-8zM916.0 1091.3h8v8h-8zM918.1 1091.5h8v8h-8zM920.3 1091.8h8v8h-8zM922.4 1092.1h8v8h-8zM924.5 1092.3h8v8h-8zM926.7 1092.5h8v8h-8zM928.8 1092.8h8v8h-8zM931.0 1093.0h8v8h-8zM933.1 1093.2h8v8h-8zM935.3 1093.5h8v8h-8zM937.4 1093.7h8v8h-8zM939.5 1093.9h8v8h-8zM941.7 1094.1h8v8h-8zM943.8 1094.3h8v8h-8zM946.0 1094.5h8v8h-8zM948.1 1094.7h8v8h-8zM950.2 1094.9h8v8h-8zM952.4 1095.1h8v8h-8zM954.5 1095.3h8v8h-8zM956.7 1095.5h8v8h-8zM958.8 1095.7h8v8h-8zM961.0 1095.9h8v8h-8zM963.1 1096.1h8v8h-8zM965.2 1096.3h8v8h-8zM967.4 1096.5h8v8h-8zM969.5 1096.6h8v8h-8zM971.7 1096.8h8v8h-8zM973.8 1097.0h8v8h-8zM975.9 1097.2h8v8h-8zM978.1 1097.3h8v8h-8zM980.2 1097.5h8v8h-8zM982.4 1097.7h8v8h-8zM984.5 1097.8h8v8h-8zM986.7 1098.0h8v8h-8zM988.8 1098.1h8v8h-8zM990.9 1098.3h8v8h-8zM993.1 1098.5h8v8h-8zM995.2 1098.6h8v8h-8zM997.4 1098.8h8v8h-8zM999.5 1098.9h8v8h-8zM1001.6 1099.1h8v8h-8zM1003.8 1099.2h8v8h-8zM1005.9 1099.4h8v8h-8zM1008.1 1099.5h8v8h-8zM1010.2 1099.6h8v8h-8zM1012.4 1099.8h8v8h-8zM1014.5 1099.9h8v8h-8zM1016.6 1100.1h8v8h-8zM1018.8 1100.2h8v8h-8zM1020.9 1100.3h8v8h-8zM1023.1 1100.5h8v8h-8zM1025.2 1100.6h8v8h-8zM1027.3 1100.7h8v8h-8zM1029.5 1100.9h8v8h-8zM1031.6 1101.0h8v8h-8zM1033.8 1101.1h8v8h-8zM1035.9 1101.2h8v8h-8zM1038.1 1101.4h8v8h-8zM1040.2 1101.5h8v8h-8zM1042.3 1101.6h8v8h-8zM1044.5 1101.7h8v8h-8zM1046.6 1101.9h8v8h-8zM1048.8 1102.0h8v8h-8zM1050.9 1102.1h8v8h-8zM1053.0 1102.2h8v8h-8zM1055.2 1102.3h8v8h-8zM1057.3 1102.4h8v8h-8zM1059.5 1102.6h8v8h-8zM1061.6 1102.7h8v8h-8zM1063.8 1102.8h8v8h-8zM1065.9 1102.9h8v8h-8zM1068.0 1103.0h8v8h-8zM1070.2 1103.1h8v8h-8zM1072.3 1103.2h8v8h-8zM1074.5 1103.3h8v8h-8zM1076.6 1103.4h8v8h-8zM1078.7 1103.6h8v8h-8zM1080.9 1103.7h8v8h-8zM1083.0 1103.8h8v8h-8zM1085.2 1103.9h8v8h-8zM1087.3 1104.0h8v8h-8zM1089.5 1104.1h8v8h-8zM1091.6 1104.2h8v8h-8zM1093.7 1104.3h8v8h-8zM1095.9 1104.4h8v8h-8zM1098.0 1104.5h8v8h-8zM1100.2 1104.6h8v8h-8zM1102.3 1104.7h8v8h-8zM1104.4 1104.8h8v8h-8zM1106.6 1104.9h8v8h-8zM1108.7 1105.0h8v8h-8zM1110.9 1105.1h8v8h-8zM1113.0 1105.2h8v8h-8zM1115.2 1105.2h8v8h-8zM1117.3 1105.3h8v8h-8zM1119.4 1105.4h8v8h-8zM1121.6 1105.5h8v8h-8zM1123.7 1105.6h8v8h-8zM1125.9 1105.7h8v8h-8zM1128.0 1105.8h8v8h-8zM1130.0 922.0h8v8h-8zM1136.9 905.0h8v8h-8zM1141.1 905.0h8v8h-8zM1145.3 905.0h8v8h-8zM1149.5 905.0h8v8h-8zM1153.7 905.0h8v8h-8zM1157.8 905.0h8v8h-8zM1162.0 905.0h8v8h-8zM1166.2 905.0h8v8h-8zM1170.4 905.0h8v8h-8zM1174.6 905.0h8v8h-8zM1178.8 905.0h8v8h-8zM1183.0 905.0h8v8h-8zM1190.5 994.0h8v8h-8zM1195.0 1088.4h8v8h-8zM1197.1 1088.8h8v8h-8zM1199.3 1089.2h8v8h-8zM1201.4 1089.6h8v8h-8zM1203.5 1090.0h8v8h-8zM1205.7 1090.4h8v8h-8zM1207.8 1090.8h8v8h-8zM1209.9 1091.1h8v8h-8zM1212.1 1091.5h8v8h-8zM1214.2 1091.8h8v8h-8zM1216.3 1092.1h8v8h-8zM1218.5 1092.5h8v8h-8zM1220.6 1092.8h8v8h-8zM1222.7 1093.1h8v8h-8zM1224.9 1093.4h8v8h-8zM1227.0 1093.7h8v8h-8zM1229.1 1093.9h8v8h-8zM1231.3 1094.2h8v8h-8zM1233.4 1094.5h8v8h-8zM1235.5 1094.8h8v8h-8zM1237.7 1095.0h8v8h-8zM1239.8 1095.3h8v8h-8zM1241.9 1095.5h8v8h-8zM1244.1 1095.8h8v8h-8zM1246.2 1096.0h8v8h-8zM1248.3 1096.2h8v8h-8zM1250.5 1096.5h8v8h-8zM1252.6 1096.7h8v8h-8zM1254.7 1096.9h8v8h-8zM1256.8 1097.1h8v8h-8zM1259.0 1097.3h8v8h-8zM1261.1 1097.6h8v8h-8zM1263.2 1097.8h8v8h-8zM1265.4 1098.0h8v8h-8zM1267.5 1098.2h8v8h-8zM1269.6 1098.4h8v8h-8zM1271.8 1098.6h8v8h-8zM1273.9 1098.8h8v8h-8zM1276.0 1098.9h8v8h-8zM1278.2 1099.1h8v8h-8zM1280.3 1099.3h8v8h-8zM1282.4 1099.5h8v8h-8zM1284.6 1099.7h8v8h-8zM1286.7 1099.8h8v8h-8zM1288.8 1100.0h8v8h-8zM1291.0 1100.2h8v8h-8zM1293.1 1100.3h8v8h-8zM1295.2 1100.5h8v8h-8zM1297.4 1100.7h8v8h-8zM1299.5 1100.8h8v8h-8zM1301.6 1101.0h8v8h-8zM1303.8 1101.2h8v8h-8zM1305.9 1101.3h8v8h-8zM1308.0 1101.5h8v8h-8zM1310.2 1101.6h8v8h-8zM1312.3 1101.8h8v8h-8zM1314.4 1101.9h8v8h-8zM1316.6 1102.1h8v8h-8zM1318.7 1102.2h8v8h-8zM1320.8 1102.3h8v8h-8zM1323.0 1102.5h8v8h-8zM1325.1 1102.6h8v8h-8zM1327.2 1102.8h8v8h-8zM1329.4 1102.9h8v8h-8zM1331.5 1103.0h8v8h-8zM1333.6 1103.2h8v8h-8zM1335.8 1103.3h8v8h-8zM1337.9 1103.4h8v8h-8zM1340.0 1103.6h8v8h-8zM1342.2 1103.7h8v8h-8zM1344.3 1103.8h8v8h-8zM1346.4 1103.9h8v8h-8zM1348.6 1104.1h8v8h-8zM1350.7 1104.2h8v8h-8zM1352.8 1104.3h8v8h-8zM1355.0 1104.4h8v8h-8zM1357.1 1104.5h8v8h-8zM1359.2 1104.7h8v8h-8zM1361.4 1104.8h8v8h-8zM1363.5 1104.9h8v8h-8zM1365.6 1105.0h8v8h-8zM1367.8 1105.1h8v8h-8zM1369.9 1105.2h8v8h-8zM1372.0 1105.3h8v8h-8zM1374.2 1105.5h8v8h-8zM1376.3 1105.6h8v8h-8zM1378.4 1105.7h8v8h-8zM1380.5 1105.8h8v8h-8zM1382.7 1105.9h8v8h-8zM1384.8 1106.0h8v8h-8zM1386.9 1106.1h8v8h-8zM1389.1 1106.2h8v8h-8zM1391.2 1106.3h8v8h-8zM1393.3 1106.4h8v8h-8zM1395.5 1106.5h8v8h-8zM1397.6 1106.6h8v8h-8zM1399.7 1106.7h8v8h-8zM1401.9 1106.8h8v8h-8zM1404.0 1106.9h8v8h-8zM1406.1 1107.0h8v8h-8zM1408.3 1107.1h8v8h-8zM1410.4 1107.2h8v8h-8zM1412.5 1107.3h8v8h-8zM1414.7 1107.4h8v8h-8zM1416.8 1107.5h8v8h-8zM1418.9 1107.6h8v8h-8zM1421.1 1107.7h8v8h-8zM1423.2 1107.8h8v8h-8zM1425.3 1107.9h8v8h-8zM1427.5 1107.9h8v8h-8zM1429.6 1108.0h8v8h-8zM1431.7 1108.1h8v8h-8zM1433.9 1108.2h8v8h-8zM1436.0 1108.3h8v8h-8zM1438.0 852.0h8v8h-8zM1444.9 832.0h8v8h-8zM1449.1 832.0h8v8h-8zM1453.3 832.0h8v8h-8zM1457.5 832.0h8v8h-8zM1461.7 832.0h8v8h-8zM1465.8 832.0h8v8h-8zM1470.0 832.0h8v8h-8zM1474.2 832.0h8v8h-8zM1478.4 832.0h8v8h-8zM1482.6 832.0h8v8h-8zM1486.8 832.0h8v8h-8zM1491.0 832.0h8v8h-8zM1498.5 986.0h8v8h-8zM1503.0 1085.5h8v8h-8zM1505.1 1085.9h8v8h-8zM1507.3 1086.2h8v8h-8zM1509.4 1086.5h8v8h-8zM1511.6 1086.9h8v8h-8zM1513.7 1087.2h8v8h-8zM1515.8 1087.5h8v8h-8zM1518.0 1087.8h8v8h-8zM1520.1 1088.1h8v8h-8zM1522.3 1088.3h8v8h-8zM1524.4 1088.6h8v8h-8zM1526.6 1088.9h8v8h-8zM1528.7 1089.1h8v8h-8zM1530.8 1089.4h8v8h-8zM1533.0 1089.6h8v8h-8zM1535.1 1089.9h8v8h-8zM1537.3 1090.1h8v8h-8zM1539.4 1090.3h8v8h-8zM1541.5 1090.6h8v8h-8zM1543.7 1090.8h8v8h-8zM1545.8 1091.0h8v8h-8zM1548.0 1091.2h8v8h-8zM1550.1 1091.4h8v8h-8zM1552.3 1091.6h8v8h-8zM1554.4 1091.8h8v8h-8zM1556.5 1092.0h8v8h-8zM1558.7 1092.2h8v8h-8zM1560.8 1092.4h8v8h-8zM1563.0 1092.6h8v8h-8zM1565.1 1092.7h8v8h-8zM1567.2 1092.9h8v8h-8zM1569.4 1093.1h8v8h-8zM1571.5 1093.3h8v8h-8zM1573.7 1093.4h8v8h-8zM1575.8 1093.6h8v8h-8zM1578.0 1093.8h8v8h-8zM1580.1 1093.9h8v8h-8zM1582.2 1094.1h8v8h-8zM1584.4 1094.2h8v8h-8zM1586.5 1094.4h8v8h-8zM1588.7 1094.5h8v8h-8zM1590.8 1094.7h8v8h-8zM1592.9 1094.8h8v8h-8zM1595.1 1095.0h8v8h-8zM1597.2 1095.1h8v8h-8zM1599.4 1095.3h8v8h-8zM1601.5 1095.4h8v8h-8zM1603.7 1095.5h8v8h-8zM1605.8 1095.7h8v8h-8zM1607.9 1095.8h8v8h-8zM1610.1 1095.9h8v8h-8zM1612.2 1096.1h8v8h-8zM1614.4 1096.2h8v8h-8zM1616.5 1096.3h8v8h-8zM1618.6 1096.5h8v8h-8zM1620.8 1096.6h8v8h-8zM1622.9 1096.7h8v8h-8zM1625.1 1096.8h8v8h-8zM1627.2 1096.9h8v8h-8zM1629.4 1097.1h8v8h-8zM1631.5 1097.2h8v8h-8zM1633.6 1097.3h8v8h-8zM1635.8 1097.4h8v8h-8zM1637.9 1097.5h8v8h-8zM1640.1 1097.6h8v8h-8zM1642.2 1097.7h8v8h-8zM1644.3 1097.9h8v8h-8zM1646.5 1098.0h8v8h-8zM1648.6 1098.1h8v8h-8zM1650.8 1098.2h8v8h-8zM1652.9 1098.3h8v8h-8zM1655.1 1098.4h8v8h-8zM1657.2 1098.5h8v8h-8zM1659.3 1098.6h8v8h-8zM1661.5 1098.7h8v8h-8zM1663.6 1098.8h8v8h-8zM1665.8 1098.9h8v8h-8zM1667.9 1099.0h8v8h-8zM1670.0 1099.1h8v8h-8zM1672.2 1099.2h8v8h-8zM1674.3 1099.3h8v8h-8zM1676.5 1099.4h8v8h-8zM1678.6 1099.5h8v8h-8zM1680.8 1099.6h8v8h-8zM1682.9 1099.6h8v8h-8zM1685.0 1099.7h8v8h-8zM1687.2 1099.8h8v8h-8zM1689.3 1099.9h8v8h-8zM1691.5 1100.0h8v8h-8zM1693.6 1100.1h8v8h-8zM1695.7 1100.2h8v8h-8zM1697.9 1100.3h8v8h-8zM1700.0 1100.3h8v8h-8zM1702.2 1100.4h8v8h-8zM1704.3 1100.5h8v8h-8zM1706.5 1100.6h8v8h-8zM1708.6 1100.7h8v8h-8zM1710.7 1100.8h8v8h-8zM1712.9 1100.8h8v8h-8zM1715.0 1100.9h8v8h-8zM1717.2 1101.0h8v8h-8zM1719.3 1101.1h8v8h-8zM1721.4 1101.2h8v8h-8zM1723.6 1101.2h8v8h-8zM1725.7 1101.3h8v8h-8zM1727.9 1101.4h8v8h-8zM1730.0 1101.5h8v8h-8zM1732.2 1101.6h8v8h-8zM1734.3 1101.6h8v8h-8zM1736.4 1101.7h8v8h-8zM1738.6 1101.8h8v8h-8zM1740.7 1101.9h8v8h-8zM1742.9 1101.9h8v8h-8zM1745.0 1102.0h8v8h-8zM1747.0 786.0h8v8h-8zM1754.4 766.0h8v8h-8zM1758.9 766.0h8v8h-8zM1763.3 766.0h8v8h-8zM1767.8 766.0h8v8h-8zM1772.2 766.0h8v8h-8zM1776.7 766.0h8v8h-8zM1781.2 766.0h8v8h-8zM1785.6 766.0h8v8h-8zM1790.1 766.0h8v8h-8zM1794.5 766.0h8v8h-8zM1799.0 766.0h8v8h-8zM1806.5 974.0h8v8h-8zM1811.0 1076.0h8v8h-8zM1813.1 1076.6h8v8h-8zM1815.3 1077.1h8v8h-8zM1817.4 1077.7h8v8h-8zM1819.6 1078.2h8v8h-8zM1821.7 1078.8h8v8h-8zM1823.9 1079.3h8v8h-8zM1826.0 1079.9h8v8h-8zM1828.1 1080.4h8v8h-8zM1830.3 1081.0h8v8h-8zM1832.4 1081.5h8v8h-8zM1834.6 1082.1h8v8h-8zM1836.7 1082.6h8v8h-8zM1838.9 1083.2h8v8h-8zM1841.0 1083.7h8v8h-8zM1843.1 1084.3h8v8h-8zM1845.3 1084.8h8v8h-8zM1847.4 1085.2h8v8h-8zM1849.6 1085.6h8v8h-8zM1851.7 1085.9h8v8h-8zM1853.9 1086.3h8v8h-8zM1856.0 1086.6h8v8h-8zM1858.1 1086.9h8v8h-8zM1860.3 1087.3h8v8h-8zM1862.4 1087.6h8v8h-8zM1864.6 1088.0h8v8h-8zM1866.7 1088.3h8v8h-8zM1868.9 1088.7h8v8h-8zM1871.0 1089.0h8v8h-8zM1873.1 1089.3h8v8h-8zM1875.3 1089.7h8v8h-8zM1877.4 1089.9h8v8h-8zM1879.6 1090.0h8v8h-8zM1881.7 1090.1h8v8h-8zM1883.9 1090.3h8v8h-8zM1886.0 1090.4h8v8h-8zM1888.1 1090.5h8v8h-8zM1890.3 1090.6h8v8h-8zM1892.4 1090.8h8v8h-8zM1894.6 1090.9h8v8h-8zM1896.7 1091.0h8v8h-8zM1898.9 1091.1h8v8h-8zM1901.0 1091.3h8v8h-8zM1903.1 1091.4h8v8h-8zM1905.3 1091.5h8v8h-8zM1907.4 1091.6h8v8h-8zM1909.6 1091.8h8v8h-8zM1911.7 1091.9h8v8h-8zM1913.9 1092.0h8v8h-8zM1916.0 1092.2h8v8h-8zM1918.1 1092.3h8v8h-8zM1920.3 1092.4h8v8h-8zM1922.4 1092.5h8v8h-8zM1924.6 1092.7h8v8h-8zM1926.7 1092.8h8v8h-8zM1928.9 1092.9h8v8h-8zM1931.0 1093.0h8v8h-8zM1933.1 1093.2h8v8h-8zM1935.3 1093.3h8v8h-8zM1937.4 1093.4h8v8h-8zM1939.6 1093.5h8v8h-8zM1941.7 1093.7h8v8h-8zM1943.9 1093.8h8v8h-8zM1946.0 1093.9h8v8h-8zM1948.1 1094.0h8v8h-8zM1950.3 1094.2h8v8h-8zM1952.4 1094.3h8v8h-8zM1954.6 1094.4h8v8h-8zM1956.7 1094.5h8v8h-8zM1958.9 1094.6h8v8h-8zM1961.0 1094.7h8v8h-8zM1963.1 1094.8h8v8h-8zM1965.3 1094.9h8v8h-8zM1967.4 1095.0h8v8h-8zM1969.6 1095.1h8v8h-8zM1971.7 1095.2h8v8h-8zM1973.9 1095.3h8v8h-8zM1976.0 1095.4h8v8h-8zM1978.1 1095.5h8v8h-8zM1980.3 1095.6h8v8h-8zM1982.4 1095.6h8v8h-8zM1984.6 1095.7h8v8h-8zM1986.7 1095.8h8v8h-8zM1988.9 1095.9h8v8h-8zM1991.0 1096.0h8v8h-8zM1993.1 1096.1h8v8h-8zM1995.3 1096.2h8v8h-8zM1997.4 1096.3h8v8h-8zM1999.6 1096.4h8v8h-8zM2001.7 1096.5h8v8h-8zM2003.9 1096.6h8v8h-8zM2006.0 1096.7h8v8h-8zM2008.1 1096.8h8v8h-8zM2010.3 1096.9h8v8h-8zM2012.4 1097.0h8v8h-8zM2014.6 1097.0h8v8h-8zM2016.7 1097.1h8v8h-8zM2018.9 1097.2h8v8h-8zM2021.0 1097.3h8v8h-8zM2023.1 1097.4h8v8h-8zM2025.3 1097.5h8v8h-8zM2027.4 1097.6h8v8h-8zM2029.6 1097.7h8v8h-8zM2031.7 1097.8h8v8h-8zM2033.9 1097.9h8v8h-8zM2036.0 1098.0h8v8h-8zM2038.1 1098.1h8v8h-8zM2040.3 1098.2h8v8h-8zM2042.4 1098.3h8v8h-8zM2044.6 1098.3h8v8h-8zM2046.7 1098.4h8v8h-8zM2048.9 1098.5h8v8h-8zM2051.0 1098.6h8v8h-8zM2053.1 1098.7h8v8h-8zM2055.3 1098.8h8v8h-8zM2057.4 1098.9h8v8h-8zM2059.6 1099.0h8v8h-8zM2061.7 1099.1h8v8h-8zM2063.9 1099.2h8v8h-8zM2066.0 1099.3h8v8h-8zM2068.1 1099.4h8v8h-8zM2070.3 1099.5h8v8h-8zM2072.4 1099.6h8v8h-8zM2074.6 1099.7h8v8h-8zM2076.7 1099.7h8v8h-8zM2078.9 1099.8h8v8h-8zM2081.0 1099.9h8v8h-8zM2083.1 1100.0h8v8h-8zM2085.3 1100.1h8v8h-8zM2087.4 1100.2h8v8h-8zM2089.6 1100.3h8v8h-8zM2091.7 1100.4h8v8h-8zM2093.9 1100.5h8v8h-8zM2096.0 1100.6h8v8h-8zM2098.1 1100.7h8v8h-8zM2100.3 1100.8h8v8h-8zM2102.4 1100.9h8v8h-8zM2104.6 1101.0h8v8h-8zM2106.7 1101.1h8v8h-8zM2108.9 1101.1h8v8h-8zM2111.0 1101.2h8v8h-8zM2113.1 1101.3h8v8h-8zM2115.3 1101.4h8v8h-8zM2117.4 1101.5h8v8h-8zM2119.6 1101.6h8v8h-8zM2121.7 1101.7h8v8h-8zM2123.9 1101.8h8v8h-8zM2126.0 1101.9h8v8h-8zM2128.1 1102.0h8v8h-8zM2130.3 1102.1h8v8h-8zM2132.4 1102.2h8v8h-8zM2134.6 1102.3h8v8h-8zM2136.7 1102.4h8v8h-8zM2138.9 1102.5h8v8h-8zM2141.0 1102.5h8v8h-8zM2143.1 1102.6h8v8h-8zM2145.3 1102.7h8v8h-8zM2147.4 1102.8h8v8h-8zM2149.6 1102.9h8v8h-8zM2151.7 1103.0h8v8h-8zM2153.9 1103.1h8v8h-8zM2156.0 1103.2h8v8h-8zM2158.1 1103.3h8v8h-8zM2160.3 1103.4h8v8h-8zM2162.4 1103.5h8v8h-8zM2164.6 1103.6h8v8h-8zM2166.7 1103.7h8v8h-8zM2168.9 1103.8h8v8h-8zM2171.0 1103.9h8v8h-8zM2173.1 1103.9h8v8h-8zM2175.3 1104.0h8v8h-8zM2177.4 1104.1h8v8h-8zM2179.6 1104.2h8v8h-8zM2181.7 1104.3h8v8h-8zM2183.9 1104.4h8v8h-8zM2186.0 1104.5h8v8h-8zM2188.1 1104.6h8v8h-8zM2190.3 1104.7h8v8h-8zM2192.4 1104.8h8v8h-8zM2194.6 1104.9h8v8h-8zM2196.7 1105.0h8v8h-8zM2198.9 1105.1h8v8h-8zM2201.0 1105.2h8v8h-8zM2203.1 1105.3h8v8h-8zM2205.3 1105.3h8v8h-8zM2207.4 1105.4h8v8h-8zM2209.6 1105.5h8v8h-8zM2211.7 1105.6h8v8h-8zM2213.9 1105.7h8v8h-8zM2216.0 1105.8h8v8h-8zM2218.1 1105.9h8v8h-8zM2220.3 1106.0h8v8h-8zM2222.4 1106.1h8v8h-8zM2224.6 1106.2h8v8h-8zM2226.7 1106.3h8v8h-8zM2228.9 1106.4h8v8h-8zM2231.0 1106.5h8v8h-8zM2233.1 1106.6h8v8h-8zM2235.3 1106.7h8v8h-8zM2237.4 1106.8h8v8h-8zM2239.6 1106.9h8v8h-8zM2241.7 1107.0h8v8h-8zM2243.9 1107.1h8v8h-8zM2246.0 1107.2h8v8h-8zM2248.1 1107.3h8v8h-8zM2250.3 1107.4h8v8h-8zM2252.4 1107.5h8v8h-8zM2254.6 1107.6h8v8h-8zM2256.7 1107.7h8v8h-8zM2258.9 1107.8h8v8h-8zM2261.0 1107.9h8v8h-8zM2263.1 1108.0h8v8h-8zM2265.3 1108.1h8v8h-8zM2267.4 1108.2h8v8h-8zM2269.6 1108.3h8v8h-8zM2271.7 1108.4h8v8h-8zM2273.9 1108.5h8v8h-8zM2276.0 1108.6h8v8h-8zM2278.1 1108.7h8v8h-8zM2280.3 1108.8h8v8h-8zM2282.4 1108.9h8v8h-8zM2284.6 1109.0h8v8h-8zM2286.7 1109.1h8v8h-8zM2288.9 1109.2h8v8h-8zM2291.0 1109.3h8v8h-8zM2293.1 1109.4h8v8h-8zM2295.3 1109.5h8v8h-8zM2297.4 1109.6h8v8h-8zM2299.6 1109.7h8v8h-8zM2301.7 1109.8h8v8h-8zM2303.9 1109.9h8v8h-8zM2306.0 1110.0h8v8h-8z"/>
</g>
<g font-size="58.5"><text x="209" y="109.8" text-anchor="end">1000</text><rect x="80.94" y="101.40" width="11.51" height="9.90" fill="#fff"/><rect x="100.61" y="101.40" width="10.58" height="9.90" fill="#fff"/><text x="209" y="411.4" text-anchor="end">100</text><rect x="113.47" y="402.95" width="11.51" height="9.90" fill="#fff"/><rect x="133.14" y="402.95" width="10.58" height="9.90" fill="#fff"/><text x="209" y="712.9" text-anchor="end">10</text><rect x="146.00" y="704.50" width="11.51" height="9.90" fill="#fff"/><rect x="165.66" y="704.50" width="10.58" height="9.90" fill="#fff"/><text x="209" y="1014.5" text-anchor="end">1</text><rect x="178.52" y="1006.05" width="11.51" height="9.90" fill="#fff"/><rect x="198.19" y="1006.05" width="10.58" height="9.90" fill="#fff"/><text x="209" y="1316.0" text-anchor="end">0.1</text><rect x="178.52" y="1307.60" width="11.51" height="9.90" fill="#fff"/><rect x="198.19" y="1307.60" width="10.58" height="9.90" fill="#fff"/><text x="257.0" y="1386" text-anchor="middle">0</text><text x="599.6" y="1386" text-anchor="middle">400</text><text x="942.2" y="1386" text-anchor="middle">800</text><text x="1284.8" y="1386" text-anchor="middle">1200</text><rect x="1221.75" y="1377.60" width="11.51" height="9.90" fill="#fff"/><rect x="1241.41" y="1377.60" width="10.58" height="9.90" fill="#fff"/><text x="1627.3" y="1386" text-anchor="middle">1600</text><rect x="1564.33" y="1377.60" width="11.51" height="9.90" fill="#fff"/><rect x="1584.00" y="1377.60" width="10.58" height="9.90" fill="#fff"/><text x="1969.9" y="1386" text-anchor="middle">2000</text><text x="2312.5" y="1386" text-anchor="middle">2400</text></g>
<text transform="translate(128.01 962.11) rotate(-90) scale(1 1.0235)" font-size="67.87" stroke="#fff" stroke-width="1.3">G', G'' (Pa), tan</text><text transform="translate(128.38 485.01) rotate(-90) scale(1 0.9690)" font-size="64.20" style="font-family:'DejaVu Serif',serif;font-weight:normal;">δ</text>
<text transform="translate(316.46 1051.68) scale(1 1.1300)" font-size="63.97">1%</text><rect x="318.70" y="1041.42" width="12.59" height="11.76" fill="#fff"/><rect x="340.21" y="1041.42" width="11.57" height="11.76" fill="#fff"/><text transform="translate(652.53 1053.47) scale(1 1.1320)" font-size="64.49">1%</text><rect x="654.79" y="1043.12" width="12.69" height="11.86" fill="#fff"/><rect x="676.47" y="1043.12" width="11.66" height="11.86" fill="#fff"/><text transform="translate(965.46 1053.18) scale(1 1.1188)" font-size="63.97">1%</text><rect x="967.70" y="1043.02" width="12.59" height="11.66" fill="#fff"/><rect x="989.21" y="1043.02" width="11.57" height="11.66" fill="#fff"/><text transform="translate(1265.92 1056.18) scale(1 1.1171)" font-size="64.71">1%</text><rect x="1268.18" y="1045.92" width="12.73" height="11.76" fill="#fff"/><rect x="1289.94" y="1045.92" width="11.70" height="11.76" fill="#fff"/><text transform="translate(1589.09 1049.17) scale(1 1.1491)" font-size="63.53">1%</text><rect x="1591.31" y="1038.82" width="12.50" height="11.86" fill="#fff"/><rect x="1612.67" y="1038.82" width="11.49" height="11.86" fill="#fff"/><text transform="translate(1910.98 1046.18) scale(1 1.1365)" font-size="63.60">1%</text><rect x="1913.21" y="1035.92" width="12.52" height="11.76" fill="#fff"/><rect x="1934.59" y="1035.92" width="11.50" height="11.76" fill="#fff"/><text transform="translate(508.65 1208.50) scale(1 1.0787)" font-size="65.15">50%</text><text transform="translate(809.88 1196.99) scale(1 1.0799)" font-size="65.34">100%</text><rect x="812.17" y="1186.97" width="12.86" height="11.53" fill="#fff"/><rect x="834.14" y="1186.97" width="11.81" height="11.53" fill="#fff"/><text transform="translate(1127.23 1204.38) scale(1 1.0942)" font-size="65.52">200%</text><text transform="translate(1420.25 1201.69) scale(1 1.0958)" font-size="65.04">500%</text><text transform="translate(1713.67 1196.19) scale(1 1.0847)" font-size="65.45">1000%</text><rect x="1715.96" y="1186.11" width="12.88" height="11.58" fill="#fff"/><rect x="1737.97" y="1186.11" width="11.83" height="11.58" fill="#fff"/><text transform="translate(2144.53 1051.27) scale(1 1.0766)" font-size="67.41">tan</text><text transform="translate(2244.65 1052.26) scale(1 0.9770)" font-size="65.00" style="font-family:'DejaVu Serif',serif;font-weight:normal;">δ</text><text transform="translate(2175.10 159.11) scale(1 0.9935)" font-size="69.89" fill="#f00">G'</text><text transform="translate(2179.68 282.11) scale(1 1.0167)" font-size="68.02" fill="#00f">G''</text><text transform="translate(1166.62 1475.70) scale(1 0.9971)" font-size="68.29">time (s)</text>
</svg>
</body></html>
